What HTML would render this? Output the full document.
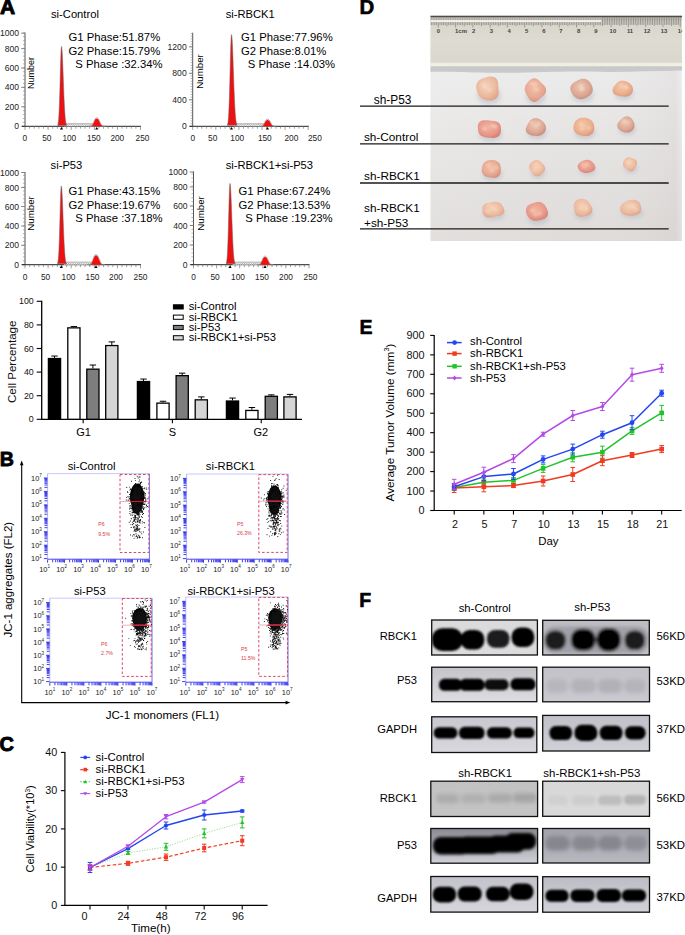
<!DOCTYPE html>
<html><head><meta charset="utf-8"><style>
html,body{margin:0;padding:0;background:#fff;overflow:hidden;width:685px;height:935px;}
svg{display:block;font-family:"Liberation Sans",sans-serif;}
</style></head><body>
<svg width="685" height="935" viewBox="0 0 685 935">
<defs>
<pattern id="hatch" width="2.2" height="2.2" patternUnits="userSpaceOnUse"><rect width="2.2" height="2.2" fill="#f4f4f4"/><path d="M0,2.2 L2.2,0" stroke="#888" stroke-width="0.6"/></pattern>
<linearGradient id="paper" x1="0" y1="0" x2="0" y2="1"><stop offset="0.2" stop-color="#ececec"/><stop offset="0.55" stop-color="#e6e4e3"/><stop offset="1" stop-color="#dedbd9"/></linearGradient>
<linearGradient id="paperx" x1="0" y1="0" x2="1" y2="0"><stop offset="0" stop-color="#ffffff" stop-opacity="0.12"/><stop offset="0.6" stop-color="#ffffff" stop-opacity="0"/><stop offset="0.97" stop-color="#b8b0b0" stop-opacity="0.12"/><stop offset="1" stop-color="#ffffff" stop-opacity="0.2"/></linearGradient>
<linearGradient id="ruler" x1="0" y1="0" x2="0" y2="1"><stop offset="0" stop-color="#d6d3ca"/><stop offset="0.5" stop-color="#dedbd2"/><stop offset="1" stop-color="#dad7ce"/></linearGradient>
<radialGradient id="tuma" cx="0.45" cy="0.4" r="0.65"><stop offset="0" stop-color="#f4d2ba"/><stop offset="0.65" stop-color="#ecba9e"/><stop offset="1" stop-color="#dca28a"/></radialGradient>
<radialGradient id="tumb" cx="0.45" cy="0.4" r="0.65"><stop offset="0" stop-color="#f2c2aa"/><stop offset="0.65" stop-color="#e8a892"/><stop offset="1" stop-color="#d48e7c"/></radialGradient>
<radialGradient id="tumc" cx="0.45" cy="0.4" r="0.65"><stop offset="0" stop-color="#f2b4a0"/><stop offset="0.65" stop-color="#e8988a"/><stop offset="1" stop-color="#d47e74"/></radialGradient>
<radialGradient id="tumd" cx="0.45" cy="0.4" r="0.65"><stop offset="0" stop-color="#ecc6b0"/><stop offset="0.65" stop-color="#dca894"/><stop offset="1" stop-color="#c48a7a"/></radialGradient>
<radialGradient id="tume" cx="0.45" cy="0.4" r="0.65"><stop offset="0" stop-color="#f4c8aa"/><stop offset="0.65" stop-color="#ecae8e"/><stop offset="1" stop-color="#da967a"/></radialGradient>
<filter id="blur1" x="-50%" y="-50%" width="200%" height="200%"><feGaussianBlur stdDeviation="1"/></filter>
<filter id="blur05" x="-20%" y="-20%" width="140%" height="140%"><feGaussianBlur stdDeviation="0.6"/></filter>
<filter id="blur2" x="-50%" y="-50%" width="200%" height="200%"><feGaussianBlur stdDeviation="2.2"/></filter>
<filter id="bb11" x="-30%" y="-50%" width="160%" height="200%"><feGaussianBlur stdDeviation="1.1"/></filter>
<filter id="bb12" x="-30%" y="-50%" width="160%" height="200%"><feGaussianBlur stdDeviation="1.2"/></filter>
<filter id="bb13" x="-30%" y="-50%" width="160%" height="200%"><feGaussianBlur stdDeviation="1.3"/></filter>
<filter id="bb14" x="-30%" y="-50%" width="160%" height="200%"><feGaussianBlur stdDeviation="1.4"/></filter>
<filter id="bb15" x="-30%" y="-50%" width="160%" height="200%"><feGaussianBlur stdDeviation="1.5"/></filter>
<filter id="bb16" x="-30%" y="-50%" width="160%" height="200%"><feGaussianBlur stdDeviation="1.6"/></filter>
<filter id="bb20" x="-30%" y="-50%" width="160%" height="200%"><feGaussianBlur stdDeviation="2.0"/></filter>
</defs>
<rect width="685" height="935" fill="#fff"/>
<text transform="translate(-0.1 13.6) scale(1.07 1)" font-size="19.6" font-weight="bold" stroke="#000" stroke-width="0.9" stroke-linejoin="round">A</text>
<text transform="translate(-0.3 465.9) scale(1.0 1)" font-size="19.6" font-weight="bold" stroke="#000" stroke-width="0.8" stroke-linejoin="round">B</text>
<text transform="translate(-0.6 751.3) scale(1.02 1)" font-size="19.6" font-weight="bold" stroke="#000" stroke-width="0.9" stroke-linejoin="round">C</text>
<text transform="translate(359.4 14) scale(1.04 1)" font-size="19.6" font-weight="bold" stroke="#000" stroke-width="0.6" stroke-linejoin="round">D</text>
<text transform="translate(359.5 334) scale(1.0 1)" font-size="19.6" font-weight="bold" stroke="#000" stroke-width="0.5" stroke-linejoin="round">E</text>
<text transform="translate(359.3 606.9) scale(1.0 1)" font-size="19.6" font-weight="bold" stroke="#000" stroke-width="0.6" stroke-linejoin="round">F</text>
<line x1="25.00" y1="32.60" x2="25.00" y2="126.80" stroke="#555" stroke-width="1"/>
<text x="19.00" y="36.20" font-size="8.6" text-anchor="end" fill="#222">1000</text>
<text x="19.00" y="51.60" font-size="8.6" text-anchor="end" fill="#222">800</text>
<text x="19.00" y="71.00" font-size="8.6" text-anchor="end" fill="#222">600</text>
<text x="19.00" y="90.40" font-size="8.6" text-anchor="end" fill="#222">400</text>
<text x="19.00" y="109.80" font-size="8.6" text-anchor="end" fill="#222">200</text>
<text x="19.00" y="129.30" font-size="8.6" text-anchor="end" fill="#222">0</text>
<line x1="21.20" y1="33.20" x2="25.00" y2="33.20" stroke="#666" stroke-width="0.8"/>
<line x1="21.20" y1="48.60" x2="25.00" y2="48.60" stroke="#666" stroke-width="0.8"/>
<line x1="21.20" y1="68.00" x2="25.00" y2="68.00" stroke="#666" stroke-width="0.8"/>
<line x1="21.20" y1="87.40" x2="25.00" y2="87.40" stroke="#666" stroke-width="0.8"/>
<line x1="21.20" y1="106.80" x2="25.00" y2="106.80" stroke="#666" stroke-width="0.8"/>
<line x1="21.20" y1="126.30" x2="25.00" y2="126.30" stroke="#666" stroke-width="0.8"/>
<line x1="22.90" y1="126.30" x2="25.00" y2="126.30" stroke="#888" stroke-width="0.6"/>
<line x1="22.90" y1="122.40" x2="25.00" y2="122.40" stroke="#888" stroke-width="0.6"/>
<line x1="22.90" y1="118.50" x2="25.00" y2="118.50" stroke="#888" stroke-width="0.6"/>
<line x1="22.90" y1="114.60" x2="25.00" y2="114.60" stroke="#888" stroke-width="0.6"/>
<line x1="22.90" y1="110.70" x2="25.00" y2="110.70" stroke="#888" stroke-width="0.6"/>
<line x1="22.90" y1="106.80" x2="25.00" y2="106.80" stroke="#888" stroke-width="0.6"/>
<line x1="22.90" y1="102.90" x2="25.00" y2="102.90" stroke="#888" stroke-width="0.6"/>
<line x1="22.90" y1="99.00" x2="25.00" y2="99.00" stroke="#888" stroke-width="0.6"/>
<line x1="22.90" y1="95.10" x2="25.00" y2="95.10" stroke="#888" stroke-width="0.6"/>
<line x1="22.90" y1="91.20" x2="25.00" y2="91.20" stroke="#888" stroke-width="0.6"/>
<line x1="22.90" y1="87.30" x2="25.00" y2="87.30" stroke="#888" stroke-width="0.6"/>
<line x1="22.90" y1="83.40" x2="25.00" y2="83.40" stroke="#888" stroke-width="0.6"/>
<line x1="22.90" y1="79.50" x2="25.00" y2="79.50" stroke="#888" stroke-width="0.6"/>
<line x1="22.90" y1="75.60" x2="25.00" y2="75.60" stroke="#888" stroke-width="0.6"/>
<line x1="22.90" y1="71.70" x2="25.00" y2="71.70" stroke="#888" stroke-width="0.6"/>
<line x1="22.90" y1="67.80" x2="25.00" y2="67.80" stroke="#888" stroke-width="0.6"/>
<line x1="22.90" y1="63.90" x2="25.00" y2="63.90" stroke="#888" stroke-width="0.6"/>
<line x1="22.90" y1="60.00" x2="25.00" y2="60.00" stroke="#888" stroke-width="0.6"/>
<line x1="22.90" y1="56.10" x2="25.00" y2="56.10" stroke="#888" stroke-width="0.6"/>
<line x1="22.90" y1="52.20" x2="25.00" y2="52.20" stroke="#888" stroke-width="0.6"/>
<line x1="22.90" y1="48.30" x2="25.00" y2="48.30" stroke="#888" stroke-width="0.6"/>
<line x1="22.90" y1="44.40" x2="25.00" y2="44.40" stroke="#888" stroke-width="0.6"/>
<line x1="22.90" y1="40.50" x2="25.00" y2="40.50" stroke="#888" stroke-width="0.6"/>
<line x1="22.90" y1="36.60" x2="25.00" y2="36.60" stroke="#888" stroke-width="0.6"/>
<line x1="22.90" y1="32.70" x2="25.00" y2="32.70" stroke="#888" stroke-width="0.6"/>
<line x1="22.00" y1="126.30" x2="141.00" y2="126.30" stroke="#222" stroke-width="1"/>
<line x1="25.00" y1="126.30" x2="25.00" y2="129.90" stroke="#777" stroke-width="0.7"/>
<line x1="29.62" y1="126.30" x2="29.62" y2="128.70" stroke="#777" stroke-width="0.7"/>
<line x1="34.24" y1="126.30" x2="34.24" y2="128.70" stroke="#777" stroke-width="0.7"/>
<line x1="38.86" y1="126.30" x2="38.86" y2="128.70" stroke="#777" stroke-width="0.7"/>
<line x1="43.48" y1="126.30" x2="43.48" y2="128.70" stroke="#777" stroke-width="0.7"/>
<line x1="48.10" y1="126.30" x2="48.10" y2="129.90" stroke="#777" stroke-width="0.7"/>
<line x1="52.72" y1="126.30" x2="52.72" y2="128.70" stroke="#777" stroke-width="0.7"/>
<line x1="57.34" y1="126.30" x2="57.34" y2="128.70" stroke="#777" stroke-width="0.7"/>
<line x1="61.96" y1="126.30" x2="61.96" y2="128.70" stroke="#777" stroke-width="0.7"/>
<line x1="66.58" y1="126.30" x2="66.58" y2="128.70" stroke="#777" stroke-width="0.7"/>
<line x1="71.20" y1="126.30" x2="71.20" y2="129.90" stroke="#777" stroke-width="0.7"/>
<line x1="75.82" y1="126.30" x2="75.82" y2="128.70" stroke="#777" stroke-width="0.7"/>
<line x1="80.44" y1="126.30" x2="80.44" y2="128.70" stroke="#777" stroke-width="0.7"/>
<line x1="85.06" y1="126.30" x2="85.06" y2="128.70" stroke="#777" stroke-width="0.7"/>
<line x1="89.68" y1="126.30" x2="89.68" y2="128.70" stroke="#777" stroke-width="0.7"/>
<line x1="94.30" y1="126.30" x2="94.30" y2="129.90" stroke="#777" stroke-width="0.7"/>
<line x1="98.92" y1="126.30" x2="98.92" y2="128.70" stroke="#777" stroke-width="0.7"/>
<line x1="103.54" y1="126.30" x2="103.54" y2="128.70" stroke="#777" stroke-width="0.7"/>
<line x1="108.16" y1="126.30" x2="108.16" y2="128.70" stroke="#777" stroke-width="0.7"/>
<line x1="112.78" y1="126.30" x2="112.78" y2="128.70" stroke="#777" stroke-width="0.7"/>
<line x1="117.40" y1="126.30" x2="117.40" y2="129.90" stroke="#777" stroke-width="0.7"/>
<line x1="122.02" y1="126.30" x2="122.02" y2="128.70" stroke="#777" stroke-width="0.7"/>
<line x1="126.64" y1="126.30" x2="126.64" y2="128.70" stroke="#777" stroke-width="0.7"/>
<line x1="131.26" y1="126.30" x2="131.26" y2="128.70" stroke="#777" stroke-width="0.7"/>
<line x1="135.88" y1="126.30" x2="135.88" y2="128.70" stroke="#777" stroke-width="0.7"/>
<line x1="140.50" y1="126.30" x2="140.50" y2="129.90" stroke="#777" stroke-width="0.7"/>
<text x="24.70" y="141.10" font-size="8.3" text-anchor="middle" fill="#222">0</text>
<text x="46.80" y="141.10" font-size="8.3" text-anchor="middle" fill="#222">50</text>
<text x="69.30" y="141.10" font-size="8.3" text-anchor="middle" fill="#222">100</text>
<text x="93.80" y="141.10" font-size="8.3" text-anchor="middle" fill="#222">150</text>
<text x="117.30" y="141.10" font-size="8.3" text-anchor="middle" fill="#222">200</text>
<text x="142.50" y="141.10" font-size="8.3" text-anchor="middle" fill="#222">250</text>
<rect x="64.00" y="123.90" width="30.20" height="2.4" fill="url(#hatch)"/>
<line x1="63.50" y1="123.70" x2="94.20" y2="123.70" stroke="#888" stroke-width="0.6"/>
<path d="M57.60,125.41 L57.80,124.92 L57.99,124.21 L58.19,123.21 L58.38,121.81 L58.58,119.94 L58.77,117.49 L58.97,114.36 L59.16,110.49 L59.35,105.82 L59.55,100.36 L59.74,94.18 L59.94,87.41 L60.13,80.26 L60.33,73.01 L60.52,65.99 L60.72,59.56 L60.91,54.09 L61.11,49.92 L61.30,47.29 L61.50,46.40 L61.76,47.29 L62.03,49.92 L62.29,54.09 L62.55,59.56 L62.82,65.99 L63.08,73.01 L63.34,80.26 L63.61,87.41 L63.87,94.18 L64.13,100.36 L64.40,105.82 L64.66,110.49 L64.92,114.36 L65.19,117.49 L65.45,119.94 L65.71,121.81 L65.98,123.21 L66.24,124.21 L66.50,124.92 L66.77,125.41 Z" fill="#ee1111" stroke="#666" stroke-width="0.5"/>
<path d="M88.90,126.30 L89.29,126.30 L89.68,126.29 L90.07,126.27 L90.46,126.23 L90.85,126.16 L91.24,126.03 L91.63,125.80 L92.02,125.45 L92.41,124.95 L92.80,124.28 L93.19,123.45 L93.58,122.49 L93.97,121.48 L94.36,120.49 L94.75,119.59 L95.14,118.85 L95.53,118.32 L95.92,117.98 L96.31,117.83 L96.70,117.80 L97.13,117.83 L97.56,117.98 L97.99,118.32 L98.42,118.85 L98.84,119.59 L99.27,120.49 L99.70,121.48 L100.13,122.49 L100.56,123.45 L100.99,124.28 L101.42,124.95 L101.85,125.45 L102.28,125.80 L102.71,126.03 L103.14,126.16 L103.56,126.23 L103.99,126.27 L104.42,126.29 L104.85,126.30 L105.28,126.30 Z" fill="none" stroke="#888" stroke-width="0.7"/>
<path d="M89.20,126.30 L89.58,126.30 L89.95,126.29 L90.33,126.27 L90.70,126.24 L91.08,126.17 L91.45,126.05 L91.83,125.85 L92.20,125.53 L92.58,125.08 L92.95,124.47 L93.33,123.71 L93.70,122.85 L94.08,121.94 L94.45,121.04 L94.83,120.22 L95.20,119.56 L95.58,119.07 L95.95,118.77 L96.33,118.63 L96.70,118.60 L97.11,118.63 L97.53,118.77 L97.94,119.07 L98.35,119.56 L98.76,120.22 L99.17,121.04 L99.59,121.94 L100.00,122.85 L100.41,123.71 L100.83,124.47 L101.24,125.08 L101.65,125.53 L102.06,125.85 L102.48,126.05 L102.89,126.17 L103.30,126.24 L103.71,126.27 L104.12,126.29 L104.54,126.30 L104.95,126.30 Z" fill="#ee1111"/>
<path d="M59.90,129.5 L61.50,126.89999999999999 L63.10,129.5 Z" fill="#000"/>
<path d="M95.10,129.5 L96.70,126.89999999999999 L98.30,129.5 Z" fill="#000"/>
<text x="51.00" y="18.40" font-size="11.2">si-Control</text>
<text x="68.50" y="41.20" font-size="11.3">G1 Phase:51.87%</text>
<text x="68.50" y="54.70" font-size="11.3">G2 Phase:15.79%</text>
<text x="75.30" y="68.20" font-size="11.3">S Phase :32.34%</text>
<text x="34.40" y="89.00" font-size="9.0" transform="rotate(-90 34.4 89.0)">Number</text>
<line x1="192.70" y1="32.70" x2="192.70" y2="126.80" stroke="#555" stroke-width="1"/>
<text x="186.70" y="49.80" font-size="8.6" text-anchor="end" fill="#222">1200</text>
<text x="186.70" y="76.30" font-size="8.6" text-anchor="end" fill="#222">800</text>
<text x="186.70" y="102.80" font-size="8.6" text-anchor="end" fill="#222">400</text>
<text x="186.70" y="129.30" font-size="8.6" text-anchor="end" fill="#222">0</text>
<line x1="188.90" y1="46.80" x2="192.70" y2="46.80" stroke="#666" stroke-width="0.8"/>
<line x1="188.90" y1="73.30" x2="192.70" y2="73.30" stroke="#666" stroke-width="0.8"/>
<line x1="188.90" y1="99.80" x2="192.70" y2="99.80" stroke="#666" stroke-width="0.8"/>
<line x1="188.90" y1="126.30" x2="192.70" y2="126.30" stroke="#666" stroke-width="0.8"/>
<line x1="190.60" y1="126.30" x2="192.70" y2="126.30" stroke="#888" stroke-width="0.6"/>
<line x1="190.60" y1="123.65" x2="192.70" y2="123.65" stroke="#888" stroke-width="0.6"/>
<line x1="190.60" y1="121.00" x2="192.70" y2="121.00" stroke="#888" stroke-width="0.6"/>
<line x1="190.60" y1="118.35" x2="192.70" y2="118.35" stroke="#888" stroke-width="0.6"/>
<line x1="190.60" y1="115.70" x2="192.70" y2="115.70" stroke="#888" stroke-width="0.6"/>
<line x1="190.60" y1="113.05" x2="192.70" y2="113.05" stroke="#888" stroke-width="0.6"/>
<line x1="190.60" y1="110.40" x2="192.70" y2="110.40" stroke="#888" stroke-width="0.6"/>
<line x1="190.60" y1="107.75" x2="192.70" y2="107.75" stroke="#888" stroke-width="0.6"/>
<line x1="190.60" y1="105.10" x2="192.70" y2="105.10" stroke="#888" stroke-width="0.6"/>
<line x1="190.60" y1="102.45" x2="192.70" y2="102.45" stroke="#888" stroke-width="0.6"/>
<line x1="190.60" y1="99.80" x2="192.70" y2="99.80" stroke="#888" stroke-width="0.6"/>
<line x1="190.60" y1="97.15" x2="192.70" y2="97.15" stroke="#888" stroke-width="0.6"/>
<line x1="190.60" y1="94.50" x2="192.70" y2="94.50" stroke="#888" stroke-width="0.6"/>
<line x1="190.60" y1="91.85" x2="192.70" y2="91.85" stroke="#888" stroke-width="0.6"/>
<line x1="190.60" y1="89.20" x2="192.70" y2="89.20" stroke="#888" stroke-width="0.6"/>
<line x1="190.60" y1="86.55" x2="192.70" y2="86.55" stroke="#888" stroke-width="0.6"/>
<line x1="190.60" y1="83.90" x2="192.70" y2="83.90" stroke="#888" stroke-width="0.6"/>
<line x1="190.60" y1="81.25" x2="192.70" y2="81.25" stroke="#888" stroke-width="0.6"/>
<line x1="190.60" y1="78.60" x2="192.70" y2="78.60" stroke="#888" stroke-width="0.6"/>
<line x1="190.60" y1="75.95" x2="192.70" y2="75.95" stroke="#888" stroke-width="0.6"/>
<line x1="190.60" y1="73.30" x2="192.70" y2="73.30" stroke="#888" stroke-width="0.6"/>
<line x1="190.60" y1="70.65" x2="192.70" y2="70.65" stroke="#888" stroke-width="0.6"/>
<line x1="190.60" y1="68.00" x2="192.70" y2="68.00" stroke="#888" stroke-width="0.6"/>
<line x1="190.60" y1="65.35" x2="192.70" y2="65.35" stroke="#888" stroke-width="0.6"/>
<line x1="190.60" y1="62.70" x2="192.70" y2="62.70" stroke="#888" stroke-width="0.6"/>
<line x1="190.60" y1="60.05" x2="192.70" y2="60.05" stroke="#888" stroke-width="0.6"/>
<line x1="190.60" y1="57.40" x2="192.70" y2="57.40" stroke="#888" stroke-width="0.6"/>
<line x1="190.60" y1="54.75" x2="192.70" y2="54.75" stroke="#888" stroke-width="0.6"/>
<line x1="190.60" y1="52.10" x2="192.70" y2="52.10" stroke="#888" stroke-width="0.6"/>
<line x1="190.60" y1="49.45" x2="192.70" y2="49.45" stroke="#888" stroke-width="0.6"/>
<line x1="190.60" y1="46.80" x2="192.70" y2="46.80" stroke="#888" stroke-width="0.6"/>
<line x1="190.60" y1="44.15" x2="192.70" y2="44.15" stroke="#888" stroke-width="0.6"/>
<line x1="190.60" y1="41.50" x2="192.70" y2="41.50" stroke="#888" stroke-width="0.6"/>
<line x1="190.60" y1="38.85" x2="192.70" y2="38.85" stroke="#888" stroke-width="0.6"/>
<line x1="190.60" y1="36.20" x2="192.70" y2="36.20" stroke="#888" stroke-width="0.6"/>
<line x1="190.60" y1="33.55" x2="192.70" y2="33.55" stroke="#888" stroke-width="0.6"/>
<line x1="189.70" y1="126.30" x2="308.70" y2="126.30" stroke="#222" stroke-width="1"/>
<line x1="192.70" y1="126.30" x2="192.70" y2="129.90" stroke="#777" stroke-width="0.7"/>
<line x1="197.32" y1="126.30" x2="197.32" y2="128.70" stroke="#777" stroke-width="0.7"/>
<line x1="201.94" y1="126.30" x2="201.94" y2="128.70" stroke="#777" stroke-width="0.7"/>
<line x1="206.56" y1="126.30" x2="206.56" y2="128.70" stroke="#777" stroke-width="0.7"/>
<line x1="211.18" y1="126.30" x2="211.18" y2="128.70" stroke="#777" stroke-width="0.7"/>
<line x1="215.80" y1="126.30" x2="215.80" y2="129.90" stroke="#777" stroke-width="0.7"/>
<line x1="220.42" y1="126.30" x2="220.42" y2="128.70" stroke="#777" stroke-width="0.7"/>
<line x1="225.04" y1="126.30" x2="225.04" y2="128.70" stroke="#777" stroke-width="0.7"/>
<line x1="229.66" y1="126.30" x2="229.66" y2="128.70" stroke="#777" stroke-width="0.7"/>
<line x1="234.28" y1="126.30" x2="234.28" y2="128.70" stroke="#777" stroke-width="0.7"/>
<line x1="238.90" y1="126.30" x2="238.90" y2="129.90" stroke="#777" stroke-width="0.7"/>
<line x1="243.52" y1="126.30" x2="243.52" y2="128.70" stroke="#777" stroke-width="0.7"/>
<line x1="248.14" y1="126.30" x2="248.14" y2="128.70" stroke="#777" stroke-width="0.7"/>
<line x1="252.76" y1="126.30" x2="252.76" y2="128.70" stroke="#777" stroke-width="0.7"/>
<line x1="257.38" y1="126.30" x2="257.38" y2="128.70" stroke="#777" stroke-width="0.7"/>
<line x1="262.00" y1="126.30" x2="262.00" y2="129.90" stroke="#777" stroke-width="0.7"/>
<line x1="266.62" y1="126.30" x2="266.62" y2="128.70" stroke="#777" stroke-width="0.7"/>
<line x1="271.24" y1="126.30" x2="271.24" y2="128.70" stroke="#777" stroke-width="0.7"/>
<line x1="275.86" y1="126.30" x2="275.86" y2="128.70" stroke="#777" stroke-width="0.7"/>
<line x1="280.48" y1="126.30" x2="280.48" y2="128.70" stroke="#777" stroke-width="0.7"/>
<line x1="285.10" y1="126.30" x2="285.10" y2="129.90" stroke="#777" stroke-width="0.7"/>
<line x1="289.72" y1="126.30" x2="289.72" y2="128.70" stroke="#777" stroke-width="0.7"/>
<line x1="294.34" y1="126.30" x2="294.34" y2="128.70" stroke="#777" stroke-width="0.7"/>
<line x1="298.96" y1="126.30" x2="298.96" y2="128.70" stroke="#777" stroke-width="0.7"/>
<line x1="303.58" y1="126.30" x2="303.58" y2="128.70" stroke="#777" stroke-width="0.7"/>
<line x1="308.20" y1="126.30" x2="308.20" y2="129.90" stroke="#777" stroke-width="0.7"/>
<text x="192.70" y="141.10" font-size="8.3" text-anchor="middle" fill="#222">0</text>
<text x="212.70" y="141.10" font-size="8.3" text-anchor="middle" fill="#222">50</text>
<text x="237.20" y="141.10" font-size="8.3" text-anchor="middle" fill="#222">100</text>
<text x="264.80" y="141.10" font-size="8.3" text-anchor="middle" fill="#222">150</text>
<text x="291.40" y="141.10" font-size="8.3" text-anchor="middle" fill="#222">200</text>
<text x="314.90" y="141.10" font-size="8.3" text-anchor="middle" fill="#222">250</text>
<rect x="234.00" y="123.90" width="31.00" height="2.4" fill="url(#hatch)"/>
<line x1="233.50" y1="123.70" x2="265.00" y2="123.70" stroke="#888" stroke-width="0.6"/>
<path d="M227.30,125.28 L227.51,124.72 L227.72,123.90 L227.93,122.75 L228.14,121.15 L228.35,119.00 L228.56,116.19 L228.77,112.60 L228.98,108.15 L229.19,102.79 L229.40,96.53 L229.61,89.43 L229.82,81.66 L230.03,73.46 L230.24,65.14 L230.45,57.08 L230.66,49.71 L230.87,43.43 L231.08,38.64 L231.29,35.63 L231.50,34.60 L231.78,35.63 L232.07,38.64 L232.35,43.43 L232.63,49.71 L232.92,57.08 L233.20,65.14 L233.48,73.46 L233.77,81.66 L234.05,89.43 L234.34,96.53 L234.62,102.79 L234.90,108.15 L235.19,112.60 L235.47,116.19 L235.75,119.00 L236.04,121.15 L236.32,122.75 L236.60,123.90 L236.89,124.72 L237.17,125.28 Z" fill="#ee1111" stroke="#666" stroke-width="0.5"/>
<path d="M259.70,126.30 L260.09,126.30 L260.48,126.29 L260.87,126.28 L261.26,126.25 L261.65,126.18 L262.04,126.07 L262.43,125.88 L262.82,125.59 L263.21,125.17 L263.60,124.61 L263.99,123.92 L264.38,123.12 L264.77,122.28 L265.16,121.45 L265.55,120.70 L265.94,120.08 L266.33,119.63 L266.72,119.35 L267.11,119.23 L267.50,119.20 L267.93,119.23 L268.36,119.35 L268.79,119.63 L269.22,120.08 L269.64,120.70 L270.07,121.45 L270.50,122.28 L270.93,123.12 L271.36,123.92 L271.79,124.61 L272.22,125.17 L272.65,125.59 L273.08,125.88 L273.51,126.07 L273.94,126.18 L274.36,126.25 L274.79,126.28 L275.22,126.29 L275.65,126.30 L276.08,126.30 Z" fill="none" stroke="#888" stroke-width="0.7"/>
<path d="M260.00,126.30 L260.38,126.30 L260.75,126.29 L261.12,126.28 L261.50,126.25 L261.88,126.20 L262.25,126.10 L262.62,125.93 L263.00,125.67 L263.38,125.30 L263.75,124.80 L264.12,124.18 L264.50,123.48 L264.88,122.73 L265.25,121.99 L265.62,121.33 L266.00,120.78 L266.38,120.38 L266.75,120.14 L267.12,120.02 L267.50,120.00 L267.91,120.02 L268.32,120.14 L268.74,120.38 L269.15,120.78 L269.56,121.33 L269.98,121.99 L270.39,122.73 L270.80,123.48 L271.21,124.18 L271.62,124.80 L272.04,125.30 L272.45,125.67 L272.86,125.93 L273.27,126.10 L273.69,126.20 L274.10,126.25 L274.51,126.28 L274.93,126.29 L275.34,126.30 L275.75,126.30 Z" fill="#ee1111"/>
<path d="M229.90,129.5 L231.50,126.89999999999999 L233.10,129.5 Z" fill="#000"/>
<path d="M265.90,129.5 L267.50,126.89999999999999 L269.10,129.5 Z" fill="#000"/>
<text x="225.70" y="18.40" font-size="11.2">si-RBCK1</text>
<text x="241.00" y="41.20" font-size="11.3">G1 Phase:77.96%</text>
<text x="241.00" y="54.70" font-size="11.3">G2 Phase:8.01%</text>
<text x="247.80" y="68.20" font-size="11.3">S Phase :14.03%</text>
<text x="203.00" y="88.70" font-size="9.7" transform="rotate(-90 203.0 88.7)">Number</text>
<line x1="25.00" y1="172.00" x2="25.00" y2="265.20" stroke="#555" stroke-width="1"/>
<text x="19.00" y="175.50" font-size="8.6" text-anchor="end" fill="#222">1000</text>
<text x="19.00" y="190.50" font-size="8.6" text-anchor="end" fill="#222">800</text>
<text x="19.00" y="209.50" font-size="8.6" text-anchor="end" fill="#222">600</text>
<text x="19.00" y="229.00" font-size="8.6" text-anchor="end" fill="#222">400</text>
<text x="19.00" y="248.30" font-size="8.6" text-anchor="end" fill="#222">200</text>
<text x="19.00" y="267.70" font-size="8.6" text-anchor="end" fill="#222">0</text>
<line x1="21.20" y1="172.50" x2="25.00" y2="172.50" stroke="#666" stroke-width="0.8"/>
<line x1="21.20" y1="187.50" x2="25.00" y2="187.50" stroke="#666" stroke-width="0.8"/>
<line x1="21.20" y1="206.50" x2="25.00" y2="206.50" stroke="#666" stroke-width="0.8"/>
<line x1="21.20" y1="226.00" x2="25.00" y2="226.00" stroke="#666" stroke-width="0.8"/>
<line x1="21.20" y1="245.30" x2="25.00" y2="245.30" stroke="#666" stroke-width="0.8"/>
<line x1="21.20" y1="264.70" x2="25.00" y2="264.70" stroke="#666" stroke-width="0.8"/>
<line x1="22.90" y1="264.70" x2="25.00" y2="264.70" stroke="#888" stroke-width="0.6"/>
<line x1="22.90" y1="260.82" x2="25.00" y2="260.82" stroke="#888" stroke-width="0.6"/>
<line x1="22.90" y1="256.94" x2="25.00" y2="256.94" stroke="#888" stroke-width="0.6"/>
<line x1="22.90" y1="253.06" x2="25.00" y2="253.06" stroke="#888" stroke-width="0.6"/>
<line x1="22.90" y1="249.18" x2="25.00" y2="249.18" stroke="#888" stroke-width="0.6"/>
<line x1="22.90" y1="245.30" x2="25.00" y2="245.30" stroke="#888" stroke-width="0.6"/>
<line x1="22.90" y1="241.42" x2="25.00" y2="241.42" stroke="#888" stroke-width="0.6"/>
<line x1="22.90" y1="237.54" x2="25.00" y2="237.54" stroke="#888" stroke-width="0.6"/>
<line x1="22.90" y1="233.66" x2="25.00" y2="233.66" stroke="#888" stroke-width="0.6"/>
<line x1="22.90" y1="229.78" x2="25.00" y2="229.78" stroke="#888" stroke-width="0.6"/>
<line x1="22.90" y1="225.90" x2="25.00" y2="225.90" stroke="#888" stroke-width="0.6"/>
<line x1="22.90" y1="222.02" x2="25.00" y2="222.02" stroke="#888" stroke-width="0.6"/>
<line x1="22.90" y1="218.14" x2="25.00" y2="218.14" stroke="#888" stroke-width="0.6"/>
<line x1="22.90" y1="214.26" x2="25.00" y2="214.26" stroke="#888" stroke-width="0.6"/>
<line x1="22.90" y1="210.38" x2="25.00" y2="210.38" stroke="#888" stroke-width="0.6"/>
<line x1="22.90" y1="206.50" x2="25.00" y2="206.50" stroke="#888" stroke-width="0.6"/>
<line x1="22.90" y1="202.62" x2="25.00" y2="202.62" stroke="#888" stroke-width="0.6"/>
<line x1="22.90" y1="198.74" x2="25.00" y2="198.74" stroke="#888" stroke-width="0.6"/>
<line x1="22.90" y1="194.86" x2="25.00" y2="194.86" stroke="#888" stroke-width="0.6"/>
<line x1="22.90" y1="190.98" x2="25.00" y2="190.98" stroke="#888" stroke-width="0.6"/>
<line x1="22.90" y1="187.10" x2="25.00" y2="187.10" stroke="#888" stroke-width="0.6"/>
<line x1="22.90" y1="183.22" x2="25.00" y2="183.22" stroke="#888" stroke-width="0.6"/>
<line x1="22.90" y1="179.34" x2="25.00" y2="179.34" stroke="#888" stroke-width="0.6"/>
<line x1="22.90" y1="175.46" x2="25.00" y2="175.46" stroke="#888" stroke-width="0.6"/>
<line x1="22.00" y1="264.70" x2="141.00" y2="264.70" stroke="#222" stroke-width="1"/>
<line x1="25.00" y1="264.70" x2="25.00" y2="268.30" stroke="#777" stroke-width="0.7"/>
<line x1="29.62" y1="264.70" x2="29.62" y2="267.10" stroke="#777" stroke-width="0.7"/>
<line x1="34.24" y1="264.70" x2="34.24" y2="267.10" stroke="#777" stroke-width="0.7"/>
<line x1="38.86" y1="264.70" x2="38.86" y2="267.10" stroke="#777" stroke-width="0.7"/>
<line x1="43.48" y1="264.70" x2="43.48" y2="267.10" stroke="#777" stroke-width="0.7"/>
<line x1="48.10" y1="264.70" x2="48.10" y2="268.30" stroke="#777" stroke-width="0.7"/>
<line x1="52.72" y1="264.70" x2="52.72" y2="267.10" stroke="#777" stroke-width="0.7"/>
<line x1="57.34" y1="264.70" x2="57.34" y2="267.10" stroke="#777" stroke-width="0.7"/>
<line x1="61.96" y1="264.70" x2="61.96" y2="267.10" stroke="#777" stroke-width="0.7"/>
<line x1="66.58" y1="264.70" x2="66.58" y2="267.10" stroke="#777" stroke-width="0.7"/>
<line x1="71.20" y1="264.70" x2="71.20" y2="268.30" stroke="#777" stroke-width="0.7"/>
<line x1="75.82" y1="264.70" x2="75.82" y2="267.10" stroke="#777" stroke-width="0.7"/>
<line x1="80.44" y1="264.70" x2="80.44" y2="267.10" stroke="#777" stroke-width="0.7"/>
<line x1="85.06" y1="264.70" x2="85.06" y2="267.10" stroke="#777" stroke-width="0.7"/>
<line x1="89.68" y1="264.70" x2="89.68" y2="267.10" stroke="#777" stroke-width="0.7"/>
<line x1="94.30" y1="264.70" x2="94.30" y2="268.30" stroke="#777" stroke-width="0.7"/>
<line x1="98.92" y1="264.70" x2="98.92" y2="267.10" stroke="#777" stroke-width="0.7"/>
<line x1="103.54" y1="264.70" x2="103.54" y2="267.10" stroke="#777" stroke-width="0.7"/>
<line x1="108.16" y1="264.70" x2="108.16" y2="267.10" stroke="#777" stroke-width="0.7"/>
<line x1="112.78" y1="264.70" x2="112.78" y2="267.10" stroke="#777" stroke-width="0.7"/>
<line x1="117.40" y1="264.70" x2="117.40" y2="268.30" stroke="#777" stroke-width="0.7"/>
<line x1="122.02" y1="264.70" x2="122.02" y2="267.10" stroke="#777" stroke-width="0.7"/>
<line x1="126.64" y1="264.70" x2="126.64" y2="267.10" stroke="#777" stroke-width="0.7"/>
<line x1="131.26" y1="264.70" x2="131.26" y2="267.10" stroke="#777" stroke-width="0.7"/>
<line x1="135.88" y1="264.70" x2="135.88" y2="267.10" stroke="#777" stroke-width="0.7"/>
<line x1="140.50" y1="264.70" x2="140.50" y2="268.30" stroke="#777" stroke-width="0.7"/>
<text x="25.00" y="279.50" font-size="8.3" text-anchor="middle" fill="#222">0</text>
<text x="45.50" y="279.50" font-size="8.3" text-anchor="middle" fill="#222">50</text>
<text x="68.50" y="279.50" font-size="8.3" text-anchor="middle" fill="#222">100</text>
<text x="92.50" y="279.50" font-size="8.3" text-anchor="middle" fill="#222">150</text>
<text x="116.00" y="279.50" font-size="8.3" text-anchor="middle" fill="#222">200</text>
<text x="140.50" y="279.50" font-size="8.3" text-anchor="middle" fill="#222">250</text>
<rect x="63.80" y="262.30" width="29.70" height="2.4" fill="url(#hatch)"/>
<line x1="63.30" y1="262.10" x2="93.50" y2="262.10" stroke="#888" stroke-width="0.6"/>
<path d="M57.40,263.83 L57.59,263.34 L57.79,262.64 L57.98,261.65 L58.18,260.28 L58.38,258.44 L58.57,256.02 L58.77,252.94 L58.96,249.13 L59.15,244.53 L59.35,239.15 L59.54,233.06 L59.74,226.39 L59.93,219.35 L60.13,212.21 L60.32,205.29 L60.52,198.96 L60.71,193.58 L60.91,189.46 L61.10,186.88 L61.30,186.00 L61.56,186.88 L61.83,189.46 L62.09,193.58 L62.35,198.96 L62.62,205.29 L62.88,212.21 L63.14,219.35 L63.41,226.39 L63.67,233.06 L63.93,239.15 L64.20,244.53 L64.46,249.13 L64.72,252.94 L64.99,256.02 L65.25,258.44 L65.51,260.28 L65.78,261.65 L66.04,262.64 L66.30,263.34 L66.56,263.83 Z" fill="#ee1111" stroke="#666" stroke-width="0.5"/>
<path d="M87.81,264.70 L88.22,264.70 L88.63,264.69 L89.04,264.67 L89.45,264.62 L89.86,264.54 L90.27,264.38 L90.68,264.11 L91.09,263.70 L91.50,263.11 L91.91,262.32 L92.31,261.34 L92.72,260.22 L93.13,259.03 L93.54,257.86 L93.95,256.81 L94.36,255.94 L94.77,255.31 L95.18,254.92 L95.59,254.74 L96.00,254.70 L96.45,254.74 L96.90,254.92 L97.35,255.31 L97.80,255.94 L98.25,256.81 L98.70,257.86 L99.15,259.03 L99.60,260.22 L100.05,261.34 L100.50,262.32 L100.95,263.11 L101.41,263.70 L101.86,264.11 L102.31,264.38 L102.76,264.54 L103.21,264.62 L103.66,264.67 L104.11,264.69 L104.56,264.70 L105.01,264.70 Z" fill="none" stroke="#888" stroke-width="0.7"/>
<path d="M88.12,264.70 L88.52,264.70 L88.91,264.69 L89.31,264.67 L89.70,264.63 L90.09,264.55 L90.49,264.41 L90.88,264.16 L91.28,263.78 L91.67,263.24 L92.06,262.51 L92.46,261.61 L92.85,260.58 L93.24,259.48 L93.64,258.41 L94.03,257.44 L94.42,256.64 L94.82,256.06 L95.21,255.70 L95.61,255.53 L96.00,255.50 L96.43,255.53 L96.87,255.70 L97.30,256.06 L97.73,256.64 L98.17,257.44 L98.60,258.41 L99.03,259.48 L99.47,260.58 L99.90,261.61 L100.33,262.51 L100.76,263.24 L101.20,263.78 L101.63,264.16 L102.06,264.41 L102.50,264.55 L102.93,264.63 L103.36,264.67 L103.80,264.69 L104.23,264.70 L104.66,264.70 Z" fill="#ee1111"/>
<path d="M59.70,267.9 L61.30,265.3 L62.90,267.9 Z" fill="#000"/>
<path d="M94.40,267.9 L96.00,265.3 L97.60,267.9 Z" fill="#000"/>
<text x="50.60" y="169.40" font-size="11.2">si-P53</text>
<text x="68.50" y="195.00" font-size="11.3">G1 Phase:43.15%</text>
<text x="68.50" y="208.50" font-size="11.3">G2 Phase:19.67%</text>
<text x="75.30" y="222.00" font-size="11.3">S Phase :37.18%</text>
<text x="34.50" y="230.70" font-size="9.7" transform="rotate(-90 34.5 230.7)">Number</text>
<line x1="193.50" y1="171.40" x2="193.50" y2="265.20" stroke="#555" stroke-width="1"/>
<text x="187.50" y="175.00" font-size="8.6" text-anchor="end" fill="#222">1000</text>
<text x="187.50" y="190.00" font-size="8.6" text-anchor="end" fill="#222">800</text>
<text x="187.50" y="209.00" font-size="8.6" text-anchor="end" fill="#222">600</text>
<text x="187.50" y="228.50" font-size="8.6" text-anchor="end" fill="#222">400</text>
<text x="187.50" y="248.00" font-size="8.6" text-anchor="end" fill="#222">200</text>
<text x="187.50" y="267.70" font-size="8.6" text-anchor="end" fill="#222">0</text>
<line x1="189.70" y1="172.00" x2="193.50" y2="172.00" stroke="#666" stroke-width="0.8"/>
<line x1="189.70" y1="187.00" x2="193.50" y2="187.00" stroke="#666" stroke-width="0.8"/>
<line x1="189.70" y1="206.00" x2="193.50" y2="206.00" stroke="#666" stroke-width="0.8"/>
<line x1="189.70" y1="225.50" x2="193.50" y2="225.50" stroke="#666" stroke-width="0.8"/>
<line x1="189.70" y1="245.00" x2="193.50" y2="245.00" stroke="#666" stroke-width="0.8"/>
<line x1="189.70" y1="264.70" x2="193.50" y2="264.70" stroke="#666" stroke-width="0.8"/>
<line x1="191.40" y1="264.70" x2="193.50" y2="264.70" stroke="#888" stroke-width="0.6"/>
<line x1="191.40" y1="260.76" x2="193.50" y2="260.76" stroke="#888" stroke-width="0.6"/>
<line x1="191.40" y1="256.82" x2="193.50" y2="256.82" stroke="#888" stroke-width="0.6"/>
<line x1="191.40" y1="252.88" x2="193.50" y2="252.88" stroke="#888" stroke-width="0.6"/>
<line x1="191.40" y1="248.94" x2="193.50" y2="248.94" stroke="#888" stroke-width="0.6"/>
<line x1="191.40" y1="245.00" x2="193.50" y2="245.00" stroke="#888" stroke-width="0.6"/>
<line x1="191.40" y1="241.06" x2="193.50" y2="241.06" stroke="#888" stroke-width="0.6"/>
<line x1="191.40" y1="237.12" x2="193.50" y2="237.12" stroke="#888" stroke-width="0.6"/>
<line x1="191.40" y1="233.18" x2="193.50" y2="233.18" stroke="#888" stroke-width="0.6"/>
<line x1="191.40" y1="229.24" x2="193.50" y2="229.24" stroke="#888" stroke-width="0.6"/>
<line x1="191.40" y1="225.30" x2="193.50" y2="225.30" stroke="#888" stroke-width="0.6"/>
<line x1="191.40" y1="221.36" x2="193.50" y2="221.36" stroke="#888" stroke-width="0.6"/>
<line x1="191.40" y1="217.42" x2="193.50" y2="217.42" stroke="#888" stroke-width="0.6"/>
<line x1="191.40" y1="213.48" x2="193.50" y2="213.48" stroke="#888" stroke-width="0.6"/>
<line x1="191.40" y1="209.54" x2="193.50" y2="209.54" stroke="#888" stroke-width="0.6"/>
<line x1="191.40" y1="205.60" x2="193.50" y2="205.60" stroke="#888" stroke-width="0.6"/>
<line x1="191.40" y1="201.66" x2="193.50" y2="201.66" stroke="#888" stroke-width="0.6"/>
<line x1="191.40" y1="197.72" x2="193.50" y2="197.72" stroke="#888" stroke-width="0.6"/>
<line x1="191.40" y1="193.78" x2="193.50" y2="193.78" stroke="#888" stroke-width="0.6"/>
<line x1="191.40" y1="189.84" x2="193.50" y2="189.84" stroke="#888" stroke-width="0.6"/>
<line x1="191.40" y1="185.90" x2="193.50" y2="185.90" stroke="#888" stroke-width="0.6"/>
<line x1="191.40" y1="181.96" x2="193.50" y2="181.96" stroke="#888" stroke-width="0.6"/>
<line x1="191.40" y1="178.02" x2="193.50" y2="178.02" stroke="#888" stroke-width="0.6"/>
<line x1="191.40" y1="174.08" x2="193.50" y2="174.08" stroke="#888" stroke-width="0.6"/>
<line x1="190.50" y1="264.70" x2="309.50" y2="264.70" stroke="#222" stroke-width="1"/>
<line x1="193.50" y1="264.70" x2="193.50" y2="268.30" stroke="#777" stroke-width="0.7"/>
<line x1="198.12" y1="264.70" x2="198.12" y2="267.10" stroke="#777" stroke-width="0.7"/>
<line x1="202.74" y1="264.70" x2="202.74" y2="267.10" stroke="#777" stroke-width="0.7"/>
<line x1="207.36" y1="264.70" x2="207.36" y2="267.10" stroke="#777" stroke-width="0.7"/>
<line x1="211.98" y1="264.70" x2="211.98" y2="267.10" stroke="#777" stroke-width="0.7"/>
<line x1="216.60" y1="264.70" x2="216.60" y2="268.30" stroke="#777" stroke-width="0.7"/>
<line x1="221.22" y1="264.70" x2="221.22" y2="267.10" stroke="#777" stroke-width="0.7"/>
<line x1="225.84" y1="264.70" x2="225.84" y2="267.10" stroke="#777" stroke-width="0.7"/>
<line x1="230.46" y1="264.70" x2="230.46" y2="267.10" stroke="#777" stroke-width="0.7"/>
<line x1="235.08" y1="264.70" x2="235.08" y2="267.10" stroke="#777" stroke-width="0.7"/>
<line x1="239.70" y1="264.70" x2="239.70" y2="268.30" stroke="#777" stroke-width="0.7"/>
<line x1="244.32" y1="264.70" x2="244.32" y2="267.10" stroke="#777" stroke-width="0.7"/>
<line x1="248.94" y1="264.70" x2="248.94" y2="267.10" stroke="#777" stroke-width="0.7"/>
<line x1="253.56" y1="264.70" x2="253.56" y2="267.10" stroke="#777" stroke-width="0.7"/>
<line x1="258.18" y1="264.70" x2="258.18" y2="267.10" stroke="#777" stroke-width="0.7"/>
<line x1="262.80" y1="264.70" x2="262.80" y2="268.30" stroke="#777" stroke-width="0.7"/>
<line x1="267.42" y1="264.70" x2="267.42" y2="267.10" stroke="#777" stroke-width="0.7"/>
<line x1="272.04" y1="264.70" x2="272.04" y2="267.10" stroke="#777" stroke-width="0.7"/>
<line x1="276.66" y1="264.70" x2="276.66" y2="267.10" stroke="#777" stroke-width="0.7"/>
<line x1="281.28" y1="264.70" x2="281.28" y2="267.10" stroke="#777" stroke-width="0.7"/>
<line x1="285.90" y1="264.70" x2="285.90" y2="268.30" stroke="#777" stroke-width="0.7"/>
<line x1="290.52" y1="264.70" x2="290.52" y2="267.10" stroke="#777" stroke-width="0.7"/>
<line x1="295.14" y1="264.70" x2="295.14" y2="267.10" stroke="#777" stroke-width="0.7"/>
<line x1="299.76" y1="264.70" x2="299.76" y2="267.10" stroke="#777" stroke-width="0.7"/>
<line x1="304.38" y1="264.70" x2="304.38" y2="267.10" stroke="#777" stroke-width="0.7"/>
<line x1="309.00" y1="264.70" x2="309.00" y2="268.30" stroke="#777" stroke-width="0.7"/>
<text x="193.50" y="279.50" font-size="8.3" text-anchor="middle" fill="#222">0</text>
<text x="215.00" y="279.50" font-size="8.3" text-anchor="middle" fill="#222">50</text>
<text x="238.00" y="279.50" font-size="8.3" text-anchor="middle" fill="#222">100</text>
<text x="262.00" y="279.50" font-size="8.3" text-anchor="middle" fill="#222">150</text>
<text x="286.00" y="279.50" font-size="8.3" text-anchor="middle" fill="#222">200</text>
<text x="310.50" y="279.50" font-size="8.3" text-anchor="middle" fill="#222">250</text>
<rect x="232.50" y="262.30" width="30.00" height="2.4" fill="url(#hatch)"/>
<line x1="232.00" y1="262.10" x2="262.50" y2="262.10" stroke="#888" stroke-width="0.6"/>
<path d="M226.10,263.80 L226.29,263.30 L226.49,262.58 L226.69,261.55 L226.88,260.14 L227.07,258.23 L227.27,255.74 L227.47,252.56 L227.66,248.61 L227.85,243.86 L228.05,238.31 L228.25,232.02 L228.44,225.13 L228.63,217.85 L228.83,210.47 L229.03,203.33 L229.22,196.79 L229.41,191.23 L229.61,186.98 L229.81,184.31 L230.00,183.40 L230.26,184.31 L230.53,186.98 L230.79,191.23 L231.05,196.79 L231.32,203.33 L231.58,210.47 L231.84,217.85 L232.11,225.13 L232.37,232.02 L232.63,238.31 L232.90,243.86 L233.16,248.61 L233.42,252.56 L233.69,255.74 L233.95,258.23 L234.21,260.14 L234.48,261.55 L234.74,262.58 L235.00,263.30 L235.26,263.80 Z" fill="#ee1111" stroke="#666" stroke-width="0.5"/>
<path d="M257.20,264.70 L257.59,264.70 L257.98,264.69 L258.37,264.67 L258.76,264.63 L259.15,264.56 L259.54,264.43 L259.93,264.20 L260.32,263.85 L260.71,263.35 L261.10,262.68 L261.49,261.85 L261.88,260.89 L262.27,259.88 L262.66,258.89 L263.05,257.99 L263.44,257.25 L263.83,256.72 L264.22,256.38 L264.61,256.23 L265.00,256.20 L265.43,256.23 L265.86,256.38 L266.29,256.72 L266.72,257.25 L267.14,257.99 L267.57,258.89 L268.00,259.88 L268.43,260.89 L268.86,261.85 L269.29,262.68 L269.72,263.35 L270.15,263.85 L270.58,264.20 L271.01,264.43 L271.44,264.56 L271.86,264.63 L272.29,264.67 L272.72,264.69 L273.15,264.70 L273.58,264.70 Z" fill="none" stroke="#888" stroke-width="0.7"/>
<path d="M257.50,264.70 L257.88,264.70 L258.25,264.69 L258.62,264.67 L259.00,264.64 L259.38,264.57 L259.75,264.45 L260.12,264.25 L260.50,263.93 L260.88,263.48 L261.25,262.87 L261.62,262.11 L262.00,261.25 L262.38,260.34 L262.75,259.44 L263.12,258.62 L263.50,257.96 L263.88,257.47 L264.25,257.17 L264.62,257.03 L265.00,257.00 L265.41,257.03 L265.82,257.17 L266.24,257.47 L266.65,257.96 L267.06,258.62 L267.48,259.44 L267.89,260.34 L268.30,261.25 L268.71,262.11 L269.12,262.87 L269.54,263.48 L269.95,263.93 L270.36,264.25 L270.77,264.45 L271.19,264.57 L271.60,264.64 L272.01,264.67 L272.43,264.69 L272.84,264.70 L273.25,264.70 Z" fill="#ee1111"/>
<path d="M228.40,267.9 L230.00,265.3 L231.60,267.9 Z" fill="#000"/>
<path d="M263.40,267.9 L265.00,265.3 L266.60,267.9 Z" fill="#000"/>
<text x="225.70" y="169.40" font-size="11.2">si-RBCK1+si-P53</text>
<text x="238.50" y="195.00" font-size="11.3">G1 Phase:67.24%</text>
<text x="238.50" y="208.50" font-size="11.3">G2 Phase:13.53%</text>
<text x="245.30" y="222.00" font-size="11.3">S Phase :19.23%</text>
<text x="204.50" y="230.70" font-size="9.7" transform="rotate(-90 204.5 230.7)">Number</text>
<line x1="41.70" y1="300.80" x2="41.70" y2="419.30" stroke="#000" stroke-width="1.3"/>
<line x1="36.70" y1="419.30" x2="41.70" y2="419.30" stroke="#000" stroke-width="1.1"/>
<text x="33.70" y="422.40" font-size="8.8" text-anchor="end" fill="#111">0</text>
<line x1="36.70" y1="395.70" x2="41.70" y2="395.70" stroke="#000" stroke-width="1.1"/>
<text x="33.70" y="398.80" font-size="8.8" text-anchor="end" fill="#111">20</text>
<line x1="36.70" y1="372.10" x2="41.70" y2="372.10" stroke="#000" stroke-width="1.1"/>
<text x="33.70" y="375.20" font-size="8.8" text-anchor="end" fill="#111">40</text>
<line x1="36.70" y1="348.50" x2="41.70" y2="348.50" stroke="#000" stroke-width="1.1"/>
<text x="33.70" y="351.60" font-size="8.8" text-anchor="end" fill="#111">60</text>
<line x1="36.70" y1="324.90" x2="41.70" y2="324.90" stroke="#000" stroke-width="1.1"/>
<text x="33.70" y="328.00" font-size="8.8" text-anchor="end" fill="#111">80</text>
<line x1="36.70" y1="301.30" x2="41.70" y2="301.30" stroke="#000" stroke-width="1.1"/>
<text x="33.70" y="304.40" font-size="8.8" text-anchor="end" fill="#111">100</text>
<text x="15.50" y="403.00" font-size="11.6" fill="#111" transform="rotate(-90 15.5 403.0)">Cell Percentage</text>
<line x1="41.10" y1="419.30" x2="302.00" y2="419.30" stroke="#000" stroke-width="1.3"/>
<line x1="54.50" y1="357.94" x2="54.50" y2="356.05" stroke="#000" stroke-width="1.0"/>
<line x1="51.30" y1="356.05" x2="57.70" y2="356.05" stroke="#000" stroke-width="1.0"/>
<rect x="48.40" y="358.54" width="12.20" height="60.76" fill="#000" stroke="#000" stroke-width="1.3"/>
<line x1="73.90" y1="327.26" x2="73.90" y2="326.55" stroke="#000" stroke-width="1.0"/>
<line x1="70.70" y1="326.55" x2="77.10" y2="326.55" stroke="#000" stroke-width="1.0"/>
<rect x="67.80" y="327.86" width="12.20" height="91.44" fill="#fff" stroke="#000" stroke-width="1.3"/>
<line x1="92.90" y1="368.56" x2="92.90" y2="365.02" stroke="#000" stroke-width="1.0"/>
<line x1="89.70" y1="365.02" x2="96.10" y2="365.02" stroke="#000" stroke-width="1.0"/>
<rect x="86.80" y="369.16" width="12.20" height="50.14" fill="#7d7d7d" stroke="#000" stroke-width="1.3"/>
<line x1="111.80" y1="344.96" x2="111.80" y2="341.89" stroke="#000" stroke-width="1.0"/>
<line x1="108.60" y1="341.89" x2="115.00" y2="341.89" stroke="#000" stroke-width="1.0"/>
<rect x="105.70" y="345.56" width="12.20" height="73.74" fill="#d6d6d6" stroke="#000" stroke-width="1.3"/>
<line x1="83.15" y1="419.30" x2="83.15" y2="423.30" stroke="#000" stroke-width="1.1"/>
<line x1="143.50" y1="380.95" x2="143.50" y2="379.06" stroke="#000" stroke-width="1.0"/>
<line x1="140.30" y1="379.06" x2="146.70" y2="379.06" stroke="#000" stroke-width="1.0"/>
<rect x="137.40" y="381.55" width="12.20" height="37.75" fill="#000" stroke="#000" stroke-width="1.3"/>
<line x1="163.00" y1="402.54" x2="163.00" y2="401.25" stroke="#000" stroke-width="1.0"/>
<line x1="159.80" y1="401.25" x2="166.20" y2="401.25" stroke="#000" stroke-width="1.0"/>
<rect x="156.90" y="403.14" width="12.20" height="16.16" fill="#fff" stroke="#000" stroke-width="1.3"/>
<line x1="182.20" y1="375.05" x2="182.20" y2="373.16" stroke="#000" stroke-width="1.0"/>
<line x1="179.00" y1="373.16" x2="185.40" y2="373.16" stroke="#000" stroke-width="1.0"/>
<rect x="176.10" y="375.65" width="12.20" height="43.65" fill="#7d7d7d" stroke="#000" stroke-width="1.3"/>
<line x1="201.30" y1="399.24" x2="201.30" y2="396.88" stroke="#000" stroke-width="1.0"/>
<line x1="198.10" y1="396.88" x2="204.50" y2="396.88" stroke="#000" stroke-width="1.0"/>
<rect x="195.20" y="399.84" width="12.20" height="19.46" fill="#d6d6d6" stroke="#000" stroke-width="1.3"/>
<line x1="172.40" y1="419.30" x2="172.40" y2="423.30" stroke="#000" stroke-width="1.1"/>
<line x1="232.50" y1="400.42" x2="232.50" y2="398.06" stroke="#000" stroke-width="1.0"/>
<line x1="229.30" y1="398.06" x2="235.70" y2="398.06" stroke="#000" stroke-width="1.0"/>
<rect x="226.40" y="401.02" width="12.20" height="18.28" fill="#000" stroke="#000" stroke-width="1.3"/>
<line x1="251.90" y1="409.86" x2="251.90" y2="407.50" stroke="#000" stroke-width="1.0"/>
<line x1="248.70" y1="407.50" x2="255.10" y2="407.50" stroke="#000" stroke-width="1.0"/>
<rect x="245.80" y="410.46" width="12.20" height="8.84" fill="#fff" stroke="#000" stroke-width="1.3"/>
<line x1="271.30" y1="395.70" x2="271.30" y2="394.87" stroke="#000" stroke-width="1.0"/>
<line x1="268.10" y1="394.87" x2="274.50" y2="394.87" stroke="#000" stroke-width="1.0"/>
<rect x="265.20" y="396.30" width="12.20" height="23.00" fill="#7d7d7d" stroke="#000" stroke-width="1.3"/>
<line x1="290.00" y1="396.29" x2="290.00" y2="394.40" stroke="#000" stroke-width="1.0"/>
<line x1="286.80" y1="394.40" x2="293.20" y2="394.40" stroke="#000" stroke-width="1.0"/>
<rect x="283.90" y="396.89" width="12.20" height="22.41" fill="#d6d6d6" stroke="#000" stroke-width="1.3"/>
<line x1="261.25" y1="419.30" x2="261.25" y2="423.30" stroke="#000" stroke-width="1.1"/>
<text x="83.60" y="436.20" font-size="11.0" text-anchor="middle">G1</text>
<text x="172.40" y="436.20" font-size="11.0" text-anchor="middle">S</text>
<text x="260.80" y="436.20" font-size="11.0" text-anchor="middle">G2</text>
<rect x="173.40" y="304.80" width="9.80" height="4.20" fill="#000" stroke="#000" stroke-width="1.0"/>
<text x="188.70" y="310.40" font-size="11.2">si-Control</text>
<rect x="173.40" y="315.10" width="9.80" height="4.20" fill="#fff" stroke="#000" stroke-width="1.0"/>
<text x="188.70" y="320.70" font-size="11.2">si-RBCK1</text>
<rect x="173.40" y="325.40" width="9.80" height="4.20" fill="#7d7d7d" stroke="#000" stroke-width="1.0"/>
<text x="188.70" y="331.00" font-size="11.2">si-P53</text>
<rect x="173.40" y="335.70" width="9.80" height="4.20" fill="#d6d6d6" stroke="#000" stroke-width="1.0"/>
<text x="188.70" y="341.30" font-size="11.2">si-RBCK1+si-P53</text>
<rect x="47.60" y="473.60" width="101.80" height="85.60" fill="#fff"/>
<line x1="47.60" y1="473.60" x2="149.40" y2="473.60" stroke="#c8c8ff" stroke-width="1.0"/>
<line x1="149.40" y1="473.60" x2="149.40" y2="559.20" stroke="#7070f0" stroke-width="1.0"/>
<line x1="47.60" y1="473.60" x2="47.60" y2="559.20" stroke="#b8b8ff" stroke-width="1.0"/>
<line x1="47.60" y1="559.20" x2="149.40" y2="559.20" stroke="#4a4af0" stroke-width="1.0"/>
<path d="M47.30,558.60h-3.4 M47.30,554.56h-2.8 M47.30,552.19h-2.8 M47.30,550.51h-2.8 M47.30,549.21h-2.8 M47.30,548.15h-2.8 M47.30,547.25h-2.8 M47.30,546.47h-2.8 M47.30,545.78h-2.8 M47.30,545.17h-3.4 M47.30,541.12h-2.8 M47.30,538.76h-2.8 M47.30,537.08h-2.8 M47.30,535.78h-2.8 M47.30,534.71h-2.8 M47.30,533.81h-2.8 M47.30,533.04h-2.8 M47.30,532.35h-2.8 M47.30,531.73h-3.4 M47.30,527.69h-2.8 M47.30,525.32h-2.8 M47.30,523.65h-2.8 M47.30,522.34h-2.8 M47.30,521.28h-2.8 M47.30,520.38h-2.8 M47.30,519.60h-2.8 M47.30,518.91h-2.8 M47.30,518.30h-3.4 M47.30,514.26h-2.8 M47.30,511.89h-2.8 M47.30,510.21h-2.8 M47.30,508.91h-2.8 M47.30,507.85h-2.8 M47.30,506.95h-2.8 M47.30,506.17h-2.8 M47.30,505.48h-2.8 M47.30,504.87h-3.4 M47.30,500.82h-2.8 M47.30,498.46h-2.8 M47.30,496.78h-2.8 M47.30,495.48h-2.8 M47.30,494.41h-2.8 M47.30,493.51h-2.8 M47.30,492.74h-2.8 M47.30,492.05h-2.8 M47.30,491.43h-3.4 M47.30,487.39h-2.8 M47.30,485.02h-2.8 M47.30,483.35h-2.8 M47.30,482.04h-2.8 M47.30,480.98h-2.8 M47.30,480.08h-2.8 M47.30,479.30h-2.8 M47.30,478.61h-2.8 M47.30,478.00h-3.4" fill="none" stroke="#2828e6" stroke-width="0.9"/>
<path d="M47.60,559.50v3.2 M52.71,559.50v2.8 M55.70,559.50v2.8 M57.81,559.50v2.8 M59.46,559.50v2.8 M60.80,559.50v2.8 M61.94,559.50v2.8 M62.92,559.50v2.8 M63.79,559.50v2.8 M64.57,559.50v3.2 M69.67,559.50v2.8 M72.66,559.50v2.8 M74.78,559.50v2.8 M76.43,559.50v2.8 M77.77,559.50v2.8 M78.91,559.50v2.8 M79.89,559.50v2.8 M80.76,559.50v2.8 M81.53,559.50v3.2 M86.64,559.50v2.8 M89.63,559.50v2.8 M91.75,559.50v2.8 M93.39,559.50v2.8 M94.74,559.50v2.8 M95.87,559.50v2.8 M96.86,559.50v2.8 M97.72,559.50v2.8 M98.50,559.50v3.2 M103.61,559.50v2.8 M106.60,559.50v2.8 M108.71,559.50v2.8 M110.36,559.50v2.8 M111.70,559.50v2.8 M112.84,559.50v2.8 M113.82,559.50v2.8 M114.69,559.50v2.8 M115.47,559.50v3.2 M120.57,559.50v2.8 M123.56,559.50v2.8 M125.68,559.50v2.8 M127.33,559.50v2.8 M128.67,559.50v2.8 M129.81,559.50v2.8 M130.79,559.50v2.8 M131.66,559.50v2.8 M132.43,559.50v3.2 M137.54,559.50v2.8 M140.53,559.50v2.8 M142.65,559.50v2.8 M144.29,559.50v2.8 M145.64,559.50v2.8 M146.77,559.50v2.8 M147.76,559.50v2.8 M148.62,559.50v2.8 M149.40,559.50v3.2" fill="none" stroke="#2828e6" stroke-width="0.9"/>
<text x="31.10" y="561.20" font-size="7.4" fill="#222">10<tspan font-size="4.59" dy="-3.11">1</tspan></text>
<text x="31.10" y="547.77" font-size="7.4" fill="#222">10<tspan font-size="4.59" dy="-3.11">2</tspan></text>
<text x="31.10" y="534.33" font-size="7.4" fill="#222">10<tspan font-size="4.59" dy="-3.11">3</tspan></text>
<text x="31.10" y="520.90" font-size="7.4" fill="#222">10<tspan font-size="4.59" dy="-3.11">4</tspan></text>
<text x="31.10" y="507.47" font-size="7.4" fill="#222">10<tspan font-size="4.59" dy="-3.11">5</tspan></text>
<text x="31.10" y="494.03" font-size="7.4" fill="#222">10<tspan font-size="4.59" dy="-3.11">6</tspan></text>
<text x="31.10" y="480.60" font-size="7.4" fill="#222">10<tspan font-size="4.59" dy="-3.11">7</tspan></text>
<text x="39.20" y="571.50" font-size="7.4" fill="#222">10<tspan font-size="4.59" dy="-3.11">1</tspan></text>
<text x="56.17" y="571.50" font-size="7.4" fill="#222">10<tspan font-size="4.59" dy="-3.11">2</tspan></text>
<text x="73.13" y="571.50" font-size="7.4" fill="#222">10<tspan font-size="4.59" dy="-3.11">3</tspan></text>
<text x="90.10" y="571.50" font-size="7.4" fill="#222">10<tspan font-size="4.59" dy="-3.11">4</tspan></text>
<text x="107.07" y="571.50" font-size="7.4" fill="#222">10<tspan font-size="4.59" dy="-3.11">5</tspan></text>
<text x="124.03" y="571.50" font-size="7.4" fill="#222">10<tspan font-size="4.59" dy="-3.11">6</tspan></text>
<text x="141.00" y="571.50" font-size="7.4" fill="#222">10<tspan font-size="4.59" dy="-3.11">7</tspan></text>
<text x="67.70" y="470.00" font-size="11.2">si-Control</text>
<ellipse cx="137.10" cy="496.80" rx="7.18" ry="13.30" fill="#000"/>
<ellipse cx="136.80" cy="505.90" rx="5.18" ry="7.70" fill="#000"/>
<path d="M142.1,508.2h.9v.9h-.9zM137.4,491.9h.9v.9h-.9zM132.8,497.7h.9v.9h-.9zM133.1,486.9h.9v.9h-.9zM137.9,498.5h.9v.9h-.9zM139.2,490.8h.9v.9h-.9zM137.1,497.0h.9v.9h-.9zM131.2,501.5h.9v.9h-.9zM138.3,515.1h.9v.9h-.9zM137.9,496.4h.9v.9h-.9zM141.9,499.0h.9v.9h-.9zM140.6,494.8h.9v.9h-.9zM137.9,505.0h.9v.9h-.9zM139.8,498.4h.9v.9h-.9zM132.9,500.8h.9v.9h-.9zM137.4,502.8h.9v.9h-.9zM137.9,505.5h.9v.9h-.9zM136.9,499.0h.9v.9h-.9zM139.7,489.5h.9v.9h-.9zM135.5,493.8h.9v.9h-.9zM144.8,496.8h.9v.9h-.9zM139.6,502.1h.9v.9h-.9zM136.0,486.1h.9v.9h-.9zM140.9,494.5h.9v.9h-.9zM139.9,487.9h.9v.9h-.9zM135.4,506.8h.9v.9h-.9zM142.7,487.9h.9v.9h-.9zM131.9,497.2h.9v.9h-.9zM139.9,498.7h.9v.9h-.9zM138.3,490.2h.9v.9h-.9zM139.4,505.7h.9v.9h-.9zM135.4,486.9h.9v.9h-.9zM134.1,503.1h.9v.9h-.9zM130.3,496.8h.9v.9h-.9zM133.2,496.5h.9v.9h-.9zM136.1,497.6h.9v.9h-.9zM142.9,500.6h.9v.9h-.9zM142.3,496.5h.9v.9h-.9zM135.2,500.3h.9v.9h-.9zM126.1,497.2h.9v.9h-.9zM137.7,488.4h.9v.9h-.9zM138.9,493.4h.9v.9h-.9zM127.5,495.9h.9v.9h-.9zM133.3,493.7h.9v.9h-.9zM136.5,506.7h.9v.9h-.9zM137.5,497.3h.9v.9h-.9zM138.6,484.1h.9v.9h-.9zM141.9,489.6h.9v.9h-.9zM138.8,489.2h.9v.9h-.9zM133.3,494.6h.9v.9h-.9zM144.5,502.6h.9v.9h-.9zM134.7,495.4h.9v.9h-.9zM132.6,497.2h.9v.9h-.9zM134.9,502.8h.9v.9h-.9zM131.8,495.0h.9v.9h-.9zM133.8,492.2h.9v.9h-.9zM139.9,498.4h.9v.9h-.9zM139.4,506.3h.9v.9h-.9zM141.6,487.4h.9v.9h-.9zM139.2,484.5h.9v.9h-.9zM136.9,511.6h.9v.9h-.9zM136.3,494.8h.9v.9h-.9zM137.8,497.6h.9v.9h-.9zM137.2,491.9h.9v.9h-.9zM141.3,504.1h.9v.9h-.9zM136.3,499.8h.9v.9h-.9zM139.7,505.1h.9v.9h-.9zM138.6,502.6h.9v.9h-.9zM136.1,489.6h.9v.9h-.9zM135.2,505.0h.9v.9h-.9zM140.9,498.6h.9v.9h-.9zM134.9,499.8h.9v.9h-.9zM143.6,507.5h.9v.9h-.9zM134.4,497.2h.9v.9h-.9zM131.4,489.1h.9v.9h-.9zM137.8,497.7h.9v.9h-.9zM140.9,506.8h.9v.9h-.9zM140.4,507.2h.9v.9h-.9zM135.0,489.2h.9v.9h-.9zM139.0,517.2h.9v.9h-.9zM138.5,489.0h.9v.9h-.9zM138.0,508.0h.9v.9h-.9zM133.1,503.4h.9v.9h-.9zM134.7,506.9h.9v.9h-.9zM140.2,499.7h.9v.9h-.9zM144.9,494.5h.9v.9h-.9zM134.4,511.2h.9v.9h-.9zM133.7,513.7h.9v.9h-.9zM136.9,489.9h.9v.9h-.9zM137.1,498.5h.9v.9h-.9zM137.9,496.1h.9v.9h-.9zM134.9,495.6h.9v.9h-.9zM135.8,489.1h.9v.9h-.9zM134.5,502.2h.9v.9h-.9zM138.7,508.1h.9v.9h-.9zM134.8,499.5h.9v.9h-.9zM141.7,504.2h.9v.9h-.9zM135.8,505.8h.9v.9h-.9zM133.5,510.8h.9v.9h-.9zM137.7,496.7h.9v.9h-.9zM138.2,503.8h.9v.9h-.9zM143.9,496.5h.9v.9h-.9zM135.7,501.8h.9v.9h-.9zM133.7,485.0h.9v.9h-.9zM140.4,494.7h.9v.9h-.9zM141.5,489.9h.9v.9h-.9zM125.8,499.6h.9v.9h-.9zM137.7,509.3h.9v.9h-.9zM139.1,499.8h.9v.9h-.9zM139.4,494.8h.9v.9h-.9zM137.4,487.5h.9v.9h-.9zM139.1,491.6h.9v.9h-.9zM135.4,502.7h.9v.9h-.9zM140.7,490.1h.9v.9h-.9zM144.9,493.1h.9v.9h-.9zM140.4,504.5h.9v.9h-.9zM138.0,498.8h.9v.9h-.9zM144.1,504.1h.9v.9h-.9zM138.8,484.1h.9v.9h-.9zM134.2,506.1h.9v.9h-.9zM137.9,490.5h.9v.9h-.9zM134.6,495.2h.9v.9h-.9zM139.8,500.4h.9v.9h-.9zM141.0,491.5h.9v.9h-.9zM140.9,493.8h.9v.9h-.9zM135.9,510.3h.9v.9h-.9zM137.4,496.5h.9v.9h-.9zM136.3,494.7h.9v.9h-.9zM143.2,507.6h.9v.9h-.9zM139.9,498.9h.9v.9h-.9zM141.2,496.9h.9v.9h-.9zM138.9,500.5h.9v.9h-.9zM137.4,509.6h.9v.9h-.9zM143.9,507.3h.9v.9h-.9zM129.6,511.0h.9v.9h-.9zM139.8,494.2h.9v.9h-.9zM137.0,505.9h.9v.9h-.9zM141.7,503.8h.9v.9h-.9zM137.6,497.8h.9v.9h-.9zM140.3,496.8h.9v.9h-.9zM133.6,492.9h.9v.9h-.9zM136.6,500.0h.9v.9h-.9zM145.9,487.4h.9v.9h-.9zM139.0,496.8h.9v.9h-.9zM138.3,507.5h.9v.9h-.9zM141.9,496.3h.9v.9h-.9zM134.9,487.5h.9v.9h-.9zM136.8,506.7h.9v.9h-.9zM136.1,502.7h.9v.9h-.9zM139.9,500.4h.9v.9h-.9zM141.3,496.7h.9v.9h-.9zM133.9,488.9h.9v.9h-.9zM140.7,494.8h.9v.9h-.9zM135.9,503.6h.9v.9h-.9zM134.0,510.5h.9v.9h-.9zM139.7,493.6h.9v.9h-.9zM134.6,505.5h.9v.9h-.9zM132.5,492.8h.9v.9h-.9zM137.1,499.0h.9v.9h-.9zM137.2,500.4h.9v.9h-.9zM135.7,496.6h.9v.9h-.9zM142.0,502.3h.9v.9h-.9zM135.3,510.1h.9v.9h-.9zM129.3,498.1h.9v.9h-.9zM139.7,504.7h.9v.9h-.9zM137.5,494.7h.9v.9h-.9zM139.4,496.1h.9v.9h-.9zM138.9,476.5h.9v.9h-.9zM138.6,491.7h.9v.9h-.9zM140.8,503.0h.9v.9h-.9zM139.9,494.5h.9v.9h-.9zM138.8,495.0h.9v.9h-.9zM137.9,496.5h.9v.9h-.9zM133.7,512.1h.9v.9h-.9zM139.9,482.3h.9v.9h-.9zM140.6,487.2h.9v.9h-.9zM136.2,493.2h.9v.9h-.9zM135.0,499.3h.9v.9h-.9zM135.8,486.8h.9v.9h-.9zM137.1,500.2h.9v.9h-.9zM144.0,494.4h.9v.9h-.9zM132.5,494.7h.9v.9h-.9zM139.6,491.0h.9v.9h-.9zM134.3,501.6h.9v.9h-.9zM137.1,499.1h.9v.9h-.9zM134.7,491.4h.9v.9h-.9zM135.8,496.4h.9v.9h-.9zM135.8,500.7h.9v.9h-.9zM139.2,501.5h.9v.9h-.9zM139.0,491.0h.9v.9h-.9zM132.7,503.4h.9v.9h-.9zM137.1,498.4h.9v.9h-.9zM132.6,495.9h.9v.9h-.9zM134.6,491.1h.9v.9h-.9zM134.6,486.5h.9v.9h-.9zM137.4,506.1h.9v.9h-.9zM134.3,498.2h.9v.9h-.9zM132.8,502.4h.9v.9h-.9zM144.4,488.4h.9v.9h-.9zM136.2,508.0h.9v.9h-.9zM138.5,498.3h.9v.9h-.9zM129.1,496.4h.9v.9h-.9zM140.7,508.1h.9v.9h-.9zM139.6,493.2h.9v.9h-.9zM134.4,484.1h.9v.9h-.9zM132.9,505.8h.9v.9h-.9zM136.7,487.6h.9v.9h-.9zM142.0,495.1h.9v.9h-.9zM138.4,502.5h.9v.9h-.9zM138.1,506.9h.9v.9h-.9zM137.2,495.1h.9v.9h-.9zM134.5,486.9h.9v.9h-.9zM134.4,504.7h.9v.9h-.9zM140.3,507.8h.9v.9h-.9zM147.7,502.8h.9v.9h-.9zM139.1,487.8h.9v.9h-.9zM136.2,513.7h.9v.9h-.9zM139.2,496.5h.9v.9h-.9zM138.3,483.5h.9v.9h-.9zM133.9,487.9h.9v.9h-.9zM128.8,503.2h.9v.9h-.9zM140.9,496.2h.9v.9h-.9zM138.4,490.1h.9v.9h-.9zM138.9,503.1h.9v.9h-.9zM143.1,509.0h.9v.9h-.9zM139.0,496.6h.9v.9h-.9zM133.9,493.0h.9v.9h-.9zM139.5,501.7h.9v.9h-.9zM137.2,509.8h.9v.9h-.9zM139.6,497.6h.9v.9h-.9zM136.4,498.1h.9v.9h-.9zM133.4,490.3h.9v.9h-.9zM138.5,493.2h.9v.9h-.9zM136.0,506.5h.9v.9h-.9zM136.3,507.2h.9v.9h-.9zM137.1,508.7h.9v.9h-.9zM138.9,484.5h.9v.9h-.9zM141.9,496.0h.9v.9h-.9zM129.4,498.3h.9v.9h-.9zM137.7,488.0h.9v.9h-.9zM134.7,501.5h.9v.9h-.9zM142.6,505.9h.9v.9h-.9zM141.9,505.8h.9v.9h-.9zM127.4,492.1h.9v.9h-.9zM137.8,477.7h.9v.9h-.9zM140.1,504.1h.9v.9h-.9zM134.1,494.7h.9v.9h-.9zM133.4,497.4h.9v.9h-.9zM136.9,497.4h.9v.9h-.9zM133.1,500.4h.9v.9h-.9zM135.8,504.5h.9v.9h-.9zM138.3,486.6h.9v.9h-.9zM131.5,498.0h.9v.9h-.9zM135.2,501.0h.9v.9h-.9zM140.2,497.6h.9v.9h-.9zM130.5,488.7h.9v.9h-.9zM139.3,489.8h.9v.9h-.9zM141.4,496.8h.9v.9h-.9zM139.1,491.0h.9v.9h-.9zM136.7,475.7h.9v.9h-.9zM136.3,501.7h.9v.9h-.9zM133.6,491.3h.9v.9h-.9zM136.9,498.0h.9v.9h-.9zM134.0,502.5h.9v.9h-.9zM130.7,505.7h.9v.9h-.9zM131.6,491.4h.9v.9h-.9zM142.3,490.2h.9v.9h-.9zM130.7,498.1h.9v.9h-.9zM133.5,489.3h.9v.9h-.9zM134.4,492.0h.9v.9h-.9zM133.3,489.9h.9v.9h-.9zM143.4,492.5h.9v.9h-.9zM140.9,487.1h.9v.9h-.9zM139.2,488.3h.9v.9h-.9zM135.3,502.2h.9v.9h-.9zM135.0,483.0h.9v.9h-.9zM134.9,496.3h.9v.9h-.9zM139.3,490.1h.9v.9h-.9zM135.9,498.0h.9v.9h-.9zM130.7,496.7h.9v.9h-.9zM133.9,500.7h.9v.9h-.9zM136.7,496.3h.9v.9h-.9zM127.7,496.7h.9v.9h-.9zM135.7,490.5h.9v.9h-.9zM135.1,488.2h.9v.9h-.9zM137.8,502.4h.9v.9h-.9zM139.4,493.7h.9v.9h-.9zM143.6,503.8h.9v.9h-.9zM133.4,496.5h.9v.9h-.9zM130.8,496.6h.9v.9h-.9zM139.9,506.8h.9v.9h-.9zM135.5,484.3h.9v.9h-.9zM136.4,507.5h.9v.9h-.9zM137.7,506.9h.9v.9h-.9zM140.3,509.0h.9v.9h-.9zM139.4,492.6h.9v.9h-.9zM138.8,516.2h.9v.9h-.9zM135.1,483.8h.9v.9h-.9zM145.3,500.5h.9v.9h-.9zM134.7,493.0h.9v.9h-.9zM131.1,502.7h.9v.9h-.9zM137.7,492.8h.9v.9h-.9zM135.5,494.3h.9v.9h-.9zM141.3,496.2h.9v.9h-.9zM142.5,491.3h.9v.9h-.9zM134.7,493.9h.9v.9h-.9zM135.0,496.8h.9v.9h-.9zM141.1,506.4h.9v.9h-.9zM132.9,506.9h.9v.9h-.9zM137.5,509.2h.9v.9h-.9zM136.4,491.3h.9v.9h-.9zM140.2,502.1h.9v.9h-.9zM135.3,497.7h.9v.9h-.9zM137.6,499.8h.9v.9h-.9zM130.4,488.6h.9v.9h-.9zM137.3,499.4h.9v.9h-.9zM135.1,484.5h.9v.9h-.9zM142.3,495.2h.9v.9h-.9zM133.0,509.3h.9v.9h-.9zM141.5,505.1h.9v.9h-.9zM140.4,501.7h.9v.9h-.9zM133.3,497.7h.9v.9h-.9zM138.5,502.2h.9v.9h-.9zM139.0,490.1h.9v.9h-.9zM134.7,495.1h.9v.9h-.9zM136.3,491.1h.9v.9h-.9zM130.0,488.5h.9v.9h-.9zM138.3,497.4h.9v.9h-.9zM139.4,483.6h.9v.9h-.9zM135.5,504.1h.9v.9h-.9zM129.5,489.5h.9v.9h-.9zM130.6,506.4h.9v.9h-.9zM137.2,493.3h.9v.9h-.9zM137.7,496.8h.9v.9h-.9zM140.6,506.1h.9v.9h-.9zM140.7,500.0h.9v.9h-.9zM140.1,503.5h.9v.9h-.9zM138.4,498.1h.9v.9h-.9zM137.7,495.7h.9v.9h-.9zM136.8,501.1h.9v.9h-.9zM137.9,498.4h.9v.9h-.9zM132.9,488.2h.9v.9h-.9zM134.2,484.4h.9v.9h-.9zM135.1,491.2h.9v.9h-.9zM135.3,493.2h.9v.9h-.9zM145.6,503.9h.9v.9h-.9zM134.1,493.8h.9v.9h-.9zM133.2,491.7h.9v.9h-.9zM135.7,497.1h.9v.9h-.9zM134.7,503.6h.9v.9h-.9zM139.6,511.9h.9v.9h-.9zM132.0,502.5h.9v.9h-.9zM135.6,485.7h.9v.9h-.9zM135.9,485.4h.9v.9h-.9zM137.0,517.7h.9v.9h-.9zM142.2,510.9h.9v.9h-.9zM141.8,486.1h.9v.9h-.9zM138.7,498.5h.9v.9h-.9zM138.8,489.8h.9v.9h-.9zM129.4,513.0h.9v.9h-.9zM141.7,499.8h.9v.9h-.9zM135.2,498.8h.9v.9h-.9zM132.3,504.6h.9v.9h-.9zM137.7,496.4h.9v.9h-.9zM135.4,497.0h.9v.9h-.9zM137.6,494.5h.9v.9h-.9zM140.8,499.0h.9v.9h-.9zM136.7,491.2h.9v.9h-.9zM141.8,507.1h.9v.9h-.9zM139.8,483.9h.9v.9h-.9zM135.7,504.8h.9v.9h-.9zM137.2,506.9h.9v.9h-.9zM135.4,503.4h.9v.9h-.9zM139.1,479.5h.9v.9h-.9zM135.5,495.8h.9v.9h-.9zM134.7,490.9h.9v.9h-.9zM143.3,496.6h.9v.9h-.9zM140.2,487.6h.9v.9h-.9zM129.0,494.0h.9v.9h-.9zM138.7,492.2h.9v.9h-.9zM139.2,503.4h.9v.9h-.9zM135.4,497.1h.9v.9h-.9zM134.2,505.5h.9v.9h-.9zM144.0,501.2h.9v.9h-.9zM135.1,492.3h.9v.9h-.9zM136.0,504.1h.9v.9h-.9zM134.2,508.4h.9v.9h-.9zM132.3,497.4h.9v.9h-.9zM142.2,510.6h.9v.9h-.9zM135.5,503.3h.9v.9h-.9zM147.0,506.1h.9v.9h-.9zM128.6,499.6h.9v.9h-.9zM146.4,488.9h.9v.9h-.9zM140.7,482.1h.9v.9h-.9zM143.3,491.3h.9v.9h-.9zM140.2,504.2h.9v.9h-.9zM126.3,487.0h.9v.9h-.9zM138.4,486.3h.9v.9h-.9zM137.0,490.5h.9v.9h-.9zM142.3,493.7h.9v.9h-.9zM133.5,502.2h.9v.9h-.9zM141.9,496.3h.9v.9h-.9zM138.2,501.1h.9v.9h-.9zM135.2,488.7h.9v.9h-.9zM139.2,494.9h.9v.9h-.9zM131.8,503.8h.9v.9h-.9zM138.8,498.5h.9v.9h-.9zM134.2,495.9h.9v.9h-.9zM139.5,501.1h.9v.9h-.9zM133.9,490.9h.9v.9h-.9zM138.4,498.9h.9v.9h-.9zM140.4,489.0h.9v.9h-.9zM140.7,510.5h.9v.9h-.9zM140.8,498.5h.9v.9h-.9zM140.6,488.0h.9v.9h-.9zM135.4,512.7h.9v.9h-.9zM130.7,489.0h.9v.9h-.9zM140.3,492.7h.9v.9h-.9zM134.9,489.3h.9v.9h-.9zM143.7,493.0h.9v.9h-.9zM136.0,484.1h.9v.9h-.9zM140.1,497.4h.9v.9h-.9zM139.0,509.1h.9v.9h-.9zM137.7,488.7h.9v.9h-.9zM133.2,498.1h.9v.9h-.9zM142.2,488.7h.9v.9h-.9zM136.1,496.4h.9v.9h-.9zM139.7,490.9h.9v.9h-.9zM138.3,503.3h.9v.9h-.9zM137.0,496.8h.9v.9h-.9zM139.5,501.8h.9v.9h-.9zM142.0,489.5h.9v.9h-.9zM141.9,495.8h.9v.9h-.9zM132.7,493.4h.9v.9h-.9zM132.3,496.0h.9v.9h-.9zM132.5,503.2h.9v.9h-.9zM135.9,503.3h.9v.9h-.9zM131.9,497.1h.9v.9h-.9zM127.0,491.3h.9v.9h-.9zM140.0,506.5h.9v.9h-.9zM143.5,497.1h.9v.9h-.9zM133.7,494.7h.9v.9h-.9zM129.6,507.5h.9v.9h-.9zM141.7,490.8h.9v.9h-.9zM144.2,487.5h.9v.9h-.9zM139.3,491.5h.9v.9h-.9zM130.3,500.4h.9v.9h-.9zM132.6,506.3h.9v.9h-.9zM133.6,498.3h.9v.9h-.9zM135.2,498.5h.9v.9h-.9zM134.6,503.5h.9v.9h-.9zM139.5,498.0h.9v.9h-.9zM136.6,512.0h.9v.9h-.9zM134.4,494.3h.9v.9h-.9zM140.1,497.4h.9v.9h-.9zM130.7,496.5h.9v.9h-.9zM135.6,490.2h.9v.9h-.9zM137.9,489.1h.9v.9h-.9zM136.1,489.1h.9v.9h-.9zM143.2,495.4h.9v.9h-.9zM138.8,499.6h.9v.9h-.9zM139.8,496.4h.9v.9h-.9zM140.0,498.4h.9v.9h-.9zM127.6,499.8h.9v.9h-.9zM132.1,504.5h.9v.9h-.9zM138.0,494.8h.9v.9h-.9zM132.5,494.7h.9v.9h-.9zM131.7,512.1h.9v.9h-.9zM138.9,496.8h.9v.9h-.9zM133.3,495.0h.9v.9h-.9zM136.2,494.2h.9v.9h-.9zM136.8,503.4h.9v.9h-.9zM130.2,499.2h.9v.9h-.9zM141.4,487.4h.9v.9h-.9zM136.4,494.7h.9v.9h-.9zM132.6,504.5h.9v.9h-.9zM135.8,505.9h.9v.9h-.9zM138.7,495.4h.9v.9h-.9zM138.2,494.7h.9v.9h-.9zM130.7,508.0h.9v.9h-.9zM138.5,506.0h.9v.9h-.9zM130.0,505.2h.9v.9h-.9zM140.3,497.2h.9v.9h-.9zM128.8,498.2h.9v.9h-.9zM134.5,496.1h.9v.9h-.9zM137.3,490.8h.9v.9h-.9zM136.6,497.6h.9v.9h-.9zM142.8,496.8h.9v.9h-.9zM146.3,488.8h.9v.9h-.9zM136.6,506.6h.9v.9h-.9zM131.0,502.1h.9v.9h-.9zM138.6,493.1h.9v.9h-.9zM136.2,508.9h.9v.9h-.9zM135.4,499.6h.9v.9h-.9zM138.8,506.4h.9v.9h-.9zM129.0,486.7h.9v.9h-.9zM131.9,495.4h.9v.9h-.9zM139.5,503.6h.9v.9h-.9zM136.0,508.7h.9v.9h-.9zM136.8,502.6h.9v.9h-.9zM134.1,503.6h.9v.9h-.9zM134.3,506.0h.9v.9h-.9zM140.5,511.3h.9v.9h-.9zM135.4,488.9h.9v.9h-.9zM140.3,499.8h.9v.9h-.9zM135.0,487.6h.9v.9h-.9zM140.2,483.1h.9v.9h-.9zM135.3,505.4h.9v.9h-.9zM136.1,500.9h.9v.9h-.9zM139.0,501.9h.9v.9h-.9zM141.2,502.3h.9v.9h-.9zM135.6,488.4h.9v.9h-.9zM136.0,492.7h.9v.9h-.9zM138.7,506.6h.9v.9h-.9zM140.1,492.4h.9v.9h-.9zM137.9,497.5h.9v.9h-.9zM135.3,507.1h.9v.9h-.9zM139.5,500.2h.9v.9h-.9zM134.2,505.9h.9v.9h-.9zM136.3,497.3h.9v.9h-.9zM136.1,501.0h.9v.9h-.9zM137.1,510.1h.9v.9h-.9zM136.6,495.6h.9v.9h-.9zM142.6,503.0h.9v.9h-.9zM139.8,501.4h.9v.9h-.9zM136.9,499.8h.9v.9h-.9zM139.2,498.3h.9v.9h-.9zM129.8,507.6h.9v.9h-.9zM135.2,493.3h.9v.9h-.9zM135.8,492.2h.9v.9h-.9zM133.7,496.9h.9v.9h-.9zM140.5,495.3h.9v.9h-.9zM138.9,487.5h.9v.9h-.9zM140.0,489.1h.9v.9h-.9zM139.8,492.0h.9v.9h-.9zM134.8,488.2h.9v.9h-.9zM132.2,495.9h.9v.9h-.9zM133.3,495.9h.9v.9h-.9zM141.5,491.3h.9v.9h-.9zM135.9,496.8h.9v.9h-.9zM134.7,497.3h.9v.9h-.9zM138.0,505.2h.9v.9h-.9zM134.3,495.9h.9v.9h-.9zM136.5,506.5h.9v.9h-.9zM133.2,498.8h.9v.9h-.9zM140.1,501.8h.9v.9h-.9zM134.3,489.9h.9v.9h-.9zM129.9,493.6h.9v.9h-.9zM136.1,486.5h.9v.9h-.9zM140.4,498.7h.9v.9h-.9zM136.2,493.6h.9v.9h-.9zM138.9,495.4h.9v.9h-.9zM139.1,494.0h.9v.9h-.9zM132.9,510.8h.9v.9h-.9zM141.2,509.6h.9v.9h-.9zM134.0,502.9h.9v.9h-.9zM141.0,504.2h.9v.9h-.9zM136.4,508.3h.9v.9h-.9zM138.7,488.0h.9v.9h-.9zM146.7,498.4h.9v.9h-.9zM142.0,492.4h.9v.9h-.9zM133.5,504.0h.9v.9h-.9zM140.3,492.0h.9v.9h-.9zM138.1,487.7h.9v.9h-.9zM129.1,505.5h.9v.9h-.9zM132.6,503.0h.9v.9h-.9zM141.2,500.2h.9v.9h-.9zM143.0,500.2h.9v.9h-.9zM138.2,497.5h.9v.9h-.9zM138.7,500.1h.9v.9h-.9zM133.4,497.1h.9v.9h-.9zM135.6,518.4h.9v.9h-.9zM141.9,491.7h.9v.9h-.9zM139.4,484.6h.9v.9h-.9zM137.3,510.9h.9v.9h-.9zM137.4,507.0h.9v.9h-.9zM135.7,500.9h.9v.9h-.9zM138.6,481.3h.9v.9h-.9zM134.0,511.5h.9v.9h-.9zM133.9,506.4h.9v.9h-.9zM143.8,497.2h.9v.9h-.9zM141.0,500.2h.9v.9h-.9zM134.8,501.8h.9v.9h-.9zM138.8,490.2h.9v.9h-.9zM135.4,487.6h.9v.9h-.9zM135.8,497.2h.9v.9h-.9zM139.7,506.8h.9v.9h-.9zM133.6,498.0h.9v.9h-.9zM134.5,478.1h.9v.9h-.9zM145.3,499.6h.9v.9h-.9zM138.0,513.7h.9v.9h-.9zM135.4,524.7h.9v.9h-.9zM133.5,509.0h.9v.9h-.9zM144.0,522.3h.9v.9h-.9zM133.6,527.6h.9v.9h-.9zM137.9,516.7h.9v.9h-.9zM136.8,527.1h.9v.9h-.9zM135.3,515.2h.9v.9h-.9zM131.1,518.3h.9v.9h-.9zM133.9,530.0h.9v.9h-.9zM136.2,509.5h.9v.9h-.9zM138.0,508.5h.9v.9h-.9zM139.0,508.8h.9v.9h-.9zM141.8,522.7h.9v.9h-.9zM136.7,528.1h.9v.9h-.9zM139.0,536.5h.9v.9h-.9zM137.7,529.4h.9v.9h-.9zM136.9,514.1h.9v.9h-.9zM136.5,521.5h.9v.9h-.9zM130.7,518.2h.9v.9h-.9zM142.2,513.9h.9v.9h-.9zM137.3,537.1h.9v.9h-.9zM135.5,533.3h.9v.9h-.9zM135.0,510.7h.9v.9h-.9zM144.5,527.1h.9v.9h-.9zM134.4,509.8h.9v.9h-.9zM134.0,519.8h.9v.9h-.9zM136.8,528.0h.9v.9h-.9zM136.3,534.7h.9v.9h-.9zM132.4,523.7h.9v.9h-.9zM134.9,522.2h.9v.9h-.9zM136.6,527.3h.9v.9h-.9zM135.5,509.1h.9v.9h-.9zM134.8,518.9h.9v.9h-.9zM128.8,521.8h.9v.9h-.9zM138.1,510.7h.9v.9h-.9zM139.3,508.5h.9v.9h-.9zM136.4,511.4h.9v.9h-.9zM130.3,514.6h.9v.9h-.9zM132.0,524.3h.9v.9h-.9zM134.2,512.3h.9v.9h-.9zM136.4,517.0h.9v.9h-.9zM138.5,514.6h.9v.9h-.9zM139.6,513.9h.9v.9h-.9zM138.1,510.1h.9v.9h-.9zM134.8,509.5h.9v.9h-.9zM140.0,519.1h.9v.9h-.9zM132.8,521.1h.9v.9h-.9zM136.2,525.3h.9v.9h-.9zM138.4,511.0h.9v.9h-.9zM136.5,512.9h.9v.9h-.9zM140.1,509.5h.9v.9h-.9zM137.1,509.3h.9v.9h-.9zM139.2,528.3h.9v.9h-.9zM138.1,518.2h.9v.9h-.9zM140.4,531.6h.9v.9h-.9zM134.3,519.5h.9v.9h-.9zM136.2,510.1h.9v.9h-.9zM141.8,521.2h.9v.9h-.9zM139.3,508.7h.9v.9h-.9zM133.6,525.9h.9v.9h-.9zM140.1,519.9h.9v.9h-.9zM136.1,509.2h.9v.9h-.9zM136.8,510.8h.9v.9h-.9zM136.2,513.7h.9v.9h-.9zM142.0,537.3h.9v.9h-.9zM138.2,513.1h.9v.9h-.9zM135.2,524.4h.9v.9h-.9zM135.9,512.9h.9v.9h-.9zM136.8,529.5h.9v.9h-.9zM134.9,510.3h.9v.9h-.9zM137.7,528.7h.9v.9h-.9zM133.4,520.0h.9v.9h-.9zM134.1,511.0h.9v.9h-.9zM138.2,508.7h.9v.9h-.9zM134.6,528.8h.9v.9h-.9zM136.0,535.7h.9v.9h-.9zM136.0,530.7h.9v.9h-.9zM137.2,521.5h.9v.9h-.9zM139.1,517.2h.9v.9h-.9zM140.6,509.2h.9v.9h-.9zM134.3,529.1h.9v.9h-.9zM138.4,513.8h.9v.9h-.9zM136.3,524.7h.9v.9h-.9zM138.5,511.0h.9v.9h-.9zM137.1,510.2h.9v.9h-.9zM134.5,526.6h.9v.9h-.9zM139.5,520.7h.9v.9h-.9zM134.5,511.3h.9v.9h-.9zM133.3,534.0h.9v.9h-.9zM141.8,517.1h.9v.9h-.9zM130.6,526.9h.9v.9h-.9zM136.9,514.7h.9v.9h-.9zM138.6,529.6h.9v.9h-.9zM134.4,509.2h.9v.9h-.9zM136.0,508.6h.9v.9h-.9zM138.6,510.3h.9v.9h-.9zM133.4,534.1h.9v.9h-.9zM141.3,533.3h.9v.9h-.9zM139.3,508.6h.9v.9h-.9zM130.5,514.8h.9v.9h-.9zM139.8,520.1h.9v.9h-.9zM133.8,510.0h.9v.9h-.9zM136.9,510.1h.9v.9h-.9zM142.8,513.2h.9v.9h-.9zM130.9,527.2h.9v.9h-.9zM139.6,508.7h.9v.9h-.9zM135.1,529.8h.9v.9h-.9zM140.6,509.8h.9v.9h-.9zM141.9,511.6h.9v.9h-.9zM129.0,508.6h.9v.9h-.9zM137.0,529.8h.9v.9h-.9zM142.1,514.1h.9v.9h-.9zM136.8,530.1h.9v.9h-.9zM131.9,521.9h.9v.9h-.9zM140.9,516.1h.9v.9h-.9zM130.1,534.6h.9v.9h-.9zM135.1,516.3h.9v.9h-.9zM135.0,514.9h.9v.9h-.9zM135.9,509.5h.9v.9h-.9zM138.5,519.9h.9v.9h-.9zM135.0,531.2h.9v.9h-.9zM137.6,527.7h.9v.9h-.9zM133.6,537.9h.9v.9h-.9zM135.7,527.8h.9v.9h-.9zM136.4,519.4h.9v.9h-.9zM139.1,508.5h.9v.9h-.9zM135.6,513.4h.9v.9h-.9zM134.6,518.6h.9v.9h-.9zM134.2,516.5h.9v.9h-.9zM139.0,521.5h.9v.9h-.9zM134.5,517.0h.9v.9h-.9zM139.0,528.7h.9v.9h-.9zM137.1,512.4h.9v.9h-.9zM138.3,510.3h.9v.9h-.9zM136.2,509.0h.9v.9h-.9zM132.0,512.2h.9v.9h-.9zM136.8,537.8h.9v.9h-.9zM136.4,530.6h.9v.9h-.9zM136.6,508.7h.9v.9h-.9zM138.1,521.4h.9v.9h-.9zM134.7,536.4h.9v.9h-.9zM133.5,518.6h.9v.9h-.9zM135.4,508.8h.9v.9h-.9zM139.1,509.7h.9v.9h-.9zM136.3,508.8h.9v.9h-.9zM136.8,511.5h.9v.9h-.9zM135.0,510.3h.9v.9h-.9zM132.6,511.4h.9v.9h-.9zM137.7,511.9h.9v.9h-.9zM143.1,531.6h.9v.9h-.9zM136.4,508.8h.9v.9h-.9zM142.0,512.2h.9v.9h-.9zM134.7,509.3h.9v.9h-.9zM134.0,515.3h.9v.9h-.9zM140.4,508.5h.9v.9h-.9zM137.1,512.2h.9v.9h-.9zM131.5,508.6h.9v.9h-.9zM134.0,519.9h.9v.9h-.9zM132.2,514.8h.9v.9h-.9zM137.6,536.6h.9v.9h-.9zM138.4,509.3h.9v.9h-.9zM138.8,519.8h.9v.9h-.9zM138.6,510.1h.9v.9h-.9zM139.4,508.7h.9v.9h-.9zM136.4,536.1h.9v.9h-.9zM138.5,525.0h.9v.9h-.9zM143.2,508.5h.9v.9h-.9zM139.7,537.0h.9v.9h-.9zM137.6,518.6h.9v.9h-.9zM137.2,508.5h.9v.9h-.9zM135.8,529.0h.9v.9h-.9zM135.3,508.6h.9v.9h-.9zM136.8,511.7h.9v.9h-.9zM135.1,516.7h.9v.9h-.9zM139.3,522.2h.9v.9h-.9zM138.8,510.1h.9v.9h-.9zM140.9,511.8h.9v.9h-.9zM133.7,534.5h.9v.9h-.9zM138.5,508.5h.9v.9h-.9zM140.1,508.5h.9v.9h-.9zM139.7,522.6h.9v.9h-.9zM132.2,535.5h.9v.9h-.9zM138.9,512.8h.9v.9h-.9zM133.5,508.8h.9v.9h-.9zM139.5,528.4h.9v.9h-.9zM139.3,535.5h.9v.9h-.9zM133.8,518.6h.9v.9h-.9zM132.8,517.0h.9v.9h-.9zM137.7,519.4h.9v.9h-.9zM133.6,530.9h.9v.9h-.9zM138.2,529.7h.9v.9h-.9zM133.2,523.1h.9v.9h-.9zM136.5,528.5h.9v.9h-.9zM137.0,520.5h.9v.9h-.9zM139.7,520.4h.9v.9h-.9zM131.7,508.6h.9v.9h-.9zM138.6,510.6h.9v.9h-.9zM135.1,515.3h.9v.9h-.9zM130.4,523.9h.9v.9h-.9zM134.7,521.2h.9v.9h-.9zM139.3,521.8h.9v.9h-.9zM137.2,513.1h.9v.9h-.9zM136.7,526.1h.9v.9h-.9zM136.9,525.7h.9v.9h-.9zM137.6,512.7h.9v.9h-.9zM138.5,519.9h.9v.9h-.9zM131.8,510.3h.9v.9h-.9zM143.0,508.8h.9v.9h-.9zM143.3,521.9h.9v.9h-.9zM134.6,509.2h.9v.9h-.9zM130.0,520.5h.9v.9h-.9zM141.2,510.6h.9v.9h-.9zM136.1,509.9h.9v.9h-.9zM133.0,526.8h.9v.9h-.9zM137.0,513.3h.9v.9h-.9zM134.1,511.8h.9v.9h-.9zM138.8,515.8h.9v.9h-.9zM139.1,531.3h.9v.9h-.9zM138.1,534.8h.9v.9h-.9zM134.0,520.5h.9v.9h-.9zM134.5,510.8h.9v.9h-.9zM137.5,514.0h.9v.9h-.9zM139.0,537.4h.9v.9h-.9zM137.2,525.8h.9v.9h-.9zM137.0,524.2h.9v.9h-.9zM133.0,512.0h.9v.9h-.9zM137.2,508.6h.9v.9h-.9zM131.7,513.4h.9v.9h-.9zM135.1,517.4h.9v.9h-.9zM143.1,513.1h.9v.9h-.9zM144.1,492.2h.9v.9h-.9zM144.4,494.5h.9v.9h-.9zM145.1,498.3h.9v.9h-.9zM146.0,505.1h.9v.9h-.9zM139.5,476.5h.9v.9h-.9zM144.5,496.9h.9v.9h-.9zM142.7,504.0h.9v.9h-.9zM145.7,506.6h.9v.9h-.9zM142.8,497.0h.9v.9h-.9zM139.8,497.9h.9v.9h-.9zM140.8,493.8h.9v.9h-.9zM147.6,498.4h.9v.9h-.9zM140.0,499.6h.9v.9h-.9zM143.9,498.0h.9v.9h-.9zM141.0,507.5h.9v.9h-.9zM144.1,494.5h.9v.9h-.9zM137.5,476.4h.9v.9h-.9zM141.2,481.6h.9v.9h-.9zM131.0,480.8h.9v.9h-.9zM134.9,480.2h.9v.9h-.9z" fill="#111"/>
<rect x="120.00" y="474.50" width="28.90" height="78.00" fill="none" stroke="#d84a66" stroke-width="1.0" stroke-dasharray="2.6,2"/>
<line x1="120.00" y1="501.50" x2="148.90" y2="501.50" stroke="#e8a0b0" stroke-width="0.8"/>
<line x1="129.70" y1="501.50" x2="146.50" y2="501.50" stroke="#e01030" stroke-width="1.1"/>
<text x="98.30" y="526.20" font-size="5.2" fill="#dc3848">P6</text>
<text x="98.30" y="535.50" font-size="5.2" fill="#dc3848">9.5%</text>
<rect x="186.60" y="474.00" width="101.40" height="85.20" fill="#fff"/>
<line x1="186.60" y1="474.00" x2="288.00" y2="474.00" stroke="#c8c8ff" stroke-width="1.0"/>
<line x1="288.00" y1="474.00" x2="288.00" y2="559.20" stroke="#7070f0" stroke-width="1.0"/>
<line x1="186.60" y1="474.00" x2="186.60" y2="559.20" stroke="#b8b8ff" stroke-width="1.0"/>
<line x1="186.60" y1="559.20" x2="288.00" y2="559.20" stroke="#4a4af0" stroke-width="1.0"/>
<path d="M186.30,558.60h-3.4 M186.30,554.58h-2.8 M186.30,552.22h-2.8 M186.30,550.55h-2.8 M186.30,549.26h-2.8 M186.30,548.20h-2.8 M186.30,547.30h-2.8 M186.30,546.53h-2.8 M186.30,545.84h-2.8 M186.30,545.23h-3.4 M186.30,541.21h-2.8 M186.30,538.86h-2.8 M186.30,537.19h-2.8 M186.30,535.89h-2.8 M186.30,534.83h-2.8 M186.30,533.94h-2.8 M186.30,533.16h-2.8 M186.30,532.48h-2.8 M186.30,531.87h-3.4 M186.30,527.84h-2.8 M186.30,525.49h-2.8 M186.30,523.82h-2.8 M186.30,522.52h-2.8 M186.30,521.47h-2.8 M186.30,520.57h-2.8 M186.30,519.80h-2.8 M186.30,519.11h-2.8 M186.30,518.50h-3.4 M186.30,514.48h-2.8 M186.30,512.12h-2.8 M186.30,510.45h-2.8 M186.30,509.16h-2.8 M186.30,508.10h-2.8 M186.30,507.20h-2.8 M186.30,506.43h-2.8 M186.30,505.74h-2.8 M186.30,505.13h-3.4 M186.30,501.11h-2.8 M186.30,498.76h-2.8 M186.30,497.09h-2.8 M186.30,495.79h-2.8 M186.30,494.73h-2.8 M186.30,493.84h-2.8 M186.30,493.06h-2.8 M186.30,492.38h-2.8 M186.30,491.77h-3.4 M186.30,487.74h-2.8 M186.30,485.39h-2.8 M186.30,483.72h-2.8 M186.30,482.42h-2.8 M186.30,481.37h-2.8 M186.30,480.47h-2.8 M186.30,479.70h-2.8 M186.30,479.01h-2.8 M186.30,478.40h-3.4" fill="none" stroke="#2828e6" stroke-width="0.9"/>
<path d="M186.60,559.50v3.2 M191.69,559.50v2.8 M194.66,559.50v2.8 M196.77,559.50v2.8 M198.41,559.50v2.8 M199.75,559.50v2.8 M200.88,559.50v2.8 M201.86,559.50v2.8 M202.73,559.50v2.8 M203.50,559.50v3.2 M208.59,559.50v2.8 M211.56,559.50v2.8 M213.67,559.50v2.8 M215.31,559.50v2.8 M216.65,559.50v2.8 M217.78,559.50v2.8 M218.76,559.50v2.8 M219.63,559.50v2.8 M220.40,559.50v3.2 M225.49,559.50v2.8 M228.46,559.50v2.8 M230.57,559.50v2.8 M232.21,559.50v2.8 M233.55,559.50v2.8 M234.68,559.50v2.8 M235.66,559.50v2.8 M236.53,559.50v2.8 M237.30,559.50v3.2 M242.39,559.50v2.8 M245.36,559.50v2.8 M247.47,559.50v2.8 M249.11,559.50v2.8 M250.45,559.50v2.8 M251.58,559.50v2.8 M252.56,559.50v2.8 M253.43,559.50v2.8 M254.20,559.50v3.2 M259.29,559.50v2.8 M262.26,559.50v2.8 M264.37,559.50v2.8 M266.01,559.50v2.8 M267.35,559.50v2.8 M268.48,559.50v2.8 M269.46,559.50v2.8 M270.33,559.50v2.8 M271.10,559.50v3.2 M276.19,559.50v2.8 M279.16,559.50v2.8 M281.27,559.50v2.8 M282.91,559.50v2.8 M284.25,559.50v2.8 M285.38,559.50v2.8 M286.36,559.50v2.8 M287.23,559.50v2.8 M288.00,559.50v3.2" fill="none" stroke="#2828e6" stroke-width="0.9"/>
<text x="170.10" y="561.20" font-size="7.4" fill="#222">10<tspan font-size="4.59" dy="-3.11">1</tspan></text>
<text x="170.10" y="547.83" font-size="7.4" fill="#222">10<tspan font-size="4.59" dy="-3.11">2</tspan></text>
<text x="170.10" y="534.47" font-size="7.4" fill="#222">10<tspan font-size="4.59" dy="-3.11">3</tspan></text>
<text x="170.10" y="521.10" font-size="7.4" fill="#222">10<tspan font-size="4.59" dy="-3.11">4</tspan></text>
<text x="170.10" y="507.73" font-size="7.4" fill="#222">10<tspan font-size="4.59" dy="-3.11">5</tspan></text>
<text x="170.10" y="494.37" font-size="7.4" fill="#222">10<tspan font-size="4.59" dy="-3.11">6</tspan></text>
<text x="170.10" y="481.00" font-size="7.4" fill="#222">10<tspan font-size="4.59" dy="-3.11">7</tspan></text>
<text x="179.40" y="571.50" font-size="7.4" fill="#222">10<tspan font-size="4.59" dy="-3.11">1</tspan></text>
<text x="196.30" y="571.50" font-size="7.4" fill="#222">10<tspan font-size="4.59" dy="-3.11">2</tspan></text>
<text x="213.20" y="571.50" font-size="7.4" fill="#222">10<tspan font-size="4.59" dy="-3.11">3</tspan></text>
<text x="230.10" y="571.50" font-size="7.4" fill="#222">10<tspan font-size="4.59" dy="-3.11">4</tspan></text>
<text x="247.00" y="571.50" font-size="7.4" fill="#222">10<tspan font-size="4.59" dy="-3.11">5</tspan></text>
<text x="263.90" y="571.50" font-size="7.4" fill="#222">10<tspan font-size="4.59" dy="-3.11">6</tspan></text>
<text x="280.80" y="571.50" font-size="7.4" fill="#222">10<tspan font-size="4.59" dy="-3.11">7</tspan></text>
<text x="205.80" y="470.00" font-size="11.2">si-RBCK1</text>
<ellipse cx="274.60" cy="498.62" rx="6.98" ry="13.01" fill="#000"/>
<ellipse cx="274.30" cy="507.52" rx="5.04" ry="7.53" fill="#000"/>
<path d="M283.5,494.5h.9v.9h-.9zM276.1,500.4h.9v.9h-.9zM277.8,489.2h.9v.9h-.9zM273.0,493.9h.9v.9h-.9zM270.5,493.2h.9v.9h-.9zM272.7,497.2h.9v.9h-.9zM271.2,502.3h.9v.9h-.9zM272.5,476.2h.9v.9h-.9zM279.1,496.5h.9v.9h-.9zM271.8,501.2h.9v.9h-.9zM275.5,499.7h.9v.9h-.9zM271.4,500.7h.9v.9h-.9zM268.8,509.7h.9v.9h-.9zM269.8,497.8h.9v.9h-.9zM274.7,500.9h.9v.9h-.9zM273.7,502.8h.9v.9h-.9zM260.8,497.6h.9v.9h-.9zM273.5,495.2h.9v.9h-.9zM279.9,491.3h.9v.9h-.9zM273.8,483.7h.9v.9h-.9zM275.1,486.6h.9v.9h-.9zM268.1,515.4h.9v.9h-.9zM276.8,498.3h.9v.9h-.9zM274.8,487.9h.9v.9h-.9zM270.1,501.4h.9v.9h-.9zM266.0,500.3h.9v.9h-.9zM267.4,499.2h.9v.9h-.9zM269.8,511.2h.9v.9h-.9zM278.0,494.6h.9v.9h-.9zM266.8,492.6h.9v.9h-.9zM273.9,491.1h.9v.9h-.9zM275.2,505.6h.9v.9h-.9zM273.9,495.2h.9v.9h-.9zM277.1,496.2h.9v.9h-.9zM277.4,496.0h.9v.9h-.9zM280.3,496.3h.9v.9h-.9zM270.0,499.1h.9v.9h-.9zM271.7,491.5h.9v.9h-.9zM273.6,503.9h.9v.9h-.9zM265.8,498.0h.9v.9h-.9zM273.5,497.3h.9v.9h-.9zM277.2,488.8h.9v.9h-.9zM276.7,496.7h.9v.9h-.9zM274.6,496.8h.9v.9h-.9zM272.9,494.6h.9v.9h-.9zM275.7,513.9h.9v.9h-.9zM278.2,504.7h.9v.9h-.9zM276.3,495.0h.9v.9h-.9zM276.5,513.7h.9v.9h-.9zM269.3,504.6h.9v.9h-.9zM278.1,500.7h.9v.9h-.9zM277.3,508.8h.9v.9h-.9zM282.8,508.2h.9v.9h-.9zM280.6,501.1h.9v.9h-.9zM277.5,500.0h.9v.9h-.9zM275.5,495.4h.9v.9h-.9zM277.0,509.4h.9v.9h-.9zM273.8,500.7h.9v.9h-.9zM276.8,499.0h.9v.9h-.9zM278.0,500.8h.9v.9h-.9zM269.9,491.4h.9v.9h-.9zM277.2,503.6h.9v.9h-.9zM278.7,500.8h.9v.9h-.9zM275.2,487.5h.9v.9h-.9zM279.8,492.3h.9v.9h-.9zM278.4,490.7h.9v.9h-.9zM271.9,500.2h.9v.9h-.9zM272.8,494.0h.9v.9h-.9zM277.9,504.0h.9v.9h-.9zM276.0,496.6h.9v.9h-.9zM271.3,495.6h.9v.9h-.9zM272.5,498.9h.9v.9h-.9zM277.4,497.9h.9v.9h-.9zM271.5,494.6h.9v.9h-.9zM279.4,500.3h.9v.9h-.9zM275.4,501.2h.9v.9h-.9zM276.8,500.2h.9v.9h-.9zM279.0,505.1h.9v.9h-.9zM263.8,498.2h.9v.9h-.9zM285.8,489.9h.9v.9h-.9zM275.1,507.1h.9v.9h-.9zM274.6,508.9h.9v.9h-.9zM269.8,490.2h.9v.9h-.9zM273.9,493.9h.9v.9h-.9zM270.5,503.4h.9v.9h-.9zM275.6,499.4h.9v.9h-.9zM273.1,501.2h.9v.9h-.9zM274.1,494.0h.9v.9h-.9zM276.5,502.0h.9v.9h-.9zM274.9,504.3h.9v.9h-.9zM270.4,498.3h.9v.9h-.9zM272.6,508.9h.9v.9h-.9zM276.5,514.6h.9v.9h-.9zM280.6,496.6h.9v.9h-.9zM270.5,502.8h.9v.9h-.9zM273.5,498.2h.9v.9h-.9zM270.6,503.6h.9v.9h-.9zM275.3,502.2h.9v.9h-.9zM275.8,492.8h.9v.9h-.9zM266.1,497.3h.9v.9h-.9zM272.2,495.5h.9v.9h-.9zM278.2,498.6h.9v.9h-.9zM280.3,500.6h.9v.9h-.9zM277.2,503.0h.9v.9h-.9zM277.7,490.2h.9v.9h-.9zM278.7,500.1h.9v.9h-.9zM270.9,503.7h.9v.9h-.9zM275.9,508.6h.9v.9h-.9zM277.4,501.9h.9v.9h-.9zM268.4,511.4h.9v.9h-.9zM280.2,504.9h.9v.9h-.9zM276.3,508.1h.9v.9h-.9zM271.3,504.4h.9v.9h-.9zM274.7,492.1h.9v.9h-.9zM276.0,501.8h.9v.9h-.9zM281.1,506.1h.9v.9h-.9zM274.3,497.8h.9v.9h-.9zM271.1,488.8h.9v.9h-.9zM273.9,491.0h.9v.9h-.9zM272.0,505.5h.9v.9h-.9zM275.5,493.9h.9v.9h-.9zM270.3,497.9h.9v.9h-.9zM281.2,495.6h.9v.9h-.9zM281.2,493.6h.9v.9h-.9zM273.8,504.3h.9v.9h-.9zM271.7,499.7h.9v.9h-.9zM269.5,504.1h.9v.9h-.9zM279.0,494.6h.9v.9h-.9zM275.3,496.4h.9v.9h-.9zM266.4,519.1h.9v.9h-.9zM277.0,505.3h.9v.9h-.9zM276.1,500.5h.9v.9h-.9zM273.4,496.3h.9v.9h-.9zM273.8,504.3h.9v.9h-.9zM271.9,489.7h.9v.9h-.9zM270.3,502.6h.9v.9h-.9zM278.2,505.1h.9v.9h-.9zM280.7,495.6h.9v.9h-.9zM278.4,504.2h.9v.9h-.9zM274.0,493.9h.9v.9h-.9zM277.9,494.4h.9v.9h-.9zM273.5,492.3h.9v.9h-.9zM281.2,498.9h.9v.9h-.9zM272.7,497.5h.9v.9h-.9zM273.7,499.9h.9v.9h-.9zM268.1,490.9h.9v.9h-.9zM276.5,507.1h.9v.9h-.9zM270.8,500.1h.9v.9h-.9zM272.4,482.9h.9v.9h-.9zM273.4,491.5h.9v.9h-.9zM277.9,497.8h.9v.9h-.9zM274.4,488.7h.9v.9h-.9zM275.1,485.2h.9v.9h-.9zM275.4,509.2h.9v.9h-.9zM270.0,505.4h.9v.9h-.9zM279.9,497.8h.9v.9h-.9zM278.8,499.9h.9v.9h-.9zM272.7,484.8h.9v.9h-.9zM270.5,488.6h.9v.9h-.9zM283.6,501.2h.9v.9h-.9zM273.9,489.5h.9v.9h-.9zM281.1,490.9h.9v.9h-.9zM280.2,507.1h.9v.9h-.9zM274.9,494.5h.9v.9h-.9zM274.4,489.7h.9v.9h-.9zM277.1,511.5h.9v.9h-.9zM278.0,506.9h.9v.9h-.9zM271.9,501.5h.9v.9h-.9zM270.7,496.0h.9v.9h-.9zM277.4,517.4h.9v.9h-.9zM274.9,499.5h.9v.9h-.9zM267.4,500.6h.9v.9h-.9zM271.1,489.2h.9v.9h-.9zM268.9,500.3h.9v.9h-.9zM273.1,504.2h.9v.9h-.9zM273.7,499.3h.9v.9h-.9zM280.2,505.1h.9v.9h-.9zM277.5,510.0h.9v.9h-.9zM275.4,492.1h.9v.9h-.9zM271.6,488.0h.9v.9h-.9zM275.9,496.4h.9v.9h-.9zM276.5,505.3h.9v.9h-.9zM271.5,500.6h.9v.9h-.9zM279.4,499.9h.9v.9h-.9zM278.1,497.9h.9v.9h-.9zM271.0,497.6h.9v.9h-.9zM267.4,504.4h.9v.9h-.9zM272.6,509.0h.9v.9h-.9zM269.9,500.2h.9v.9h-.9zM275.9,497.8h.9v.9h-.9zM276.1,493.8h.9v.9h-.9zM270.5,489.1h.9v.9h-.9zM272.4,493.4h.9v.9h-.9zM275.5,496.6h.9v.9h-.9zM272.1,494.0h.9v.9h-.9zM267.3,496.6h.9v.9h-.9zM276.2,489.6h.9v.9h-.9zM273.6,504.2h.9v.9h-.9zM271.9,500.7h.9v.9h-.9zM273.0,517.2h.9v.9h-.9zM279.9,507.9h.9v.9h-.9zM272.0,504.0h.9v.9h-.9zM274.0,501.9h.9v.9h-.9zM272.4,500.5h.9v.9h-.9zM271.7,501.4h.9v.9h-.9zM281.3,489.3h.9v.9h-.9zM269.5,503.0h.9v.9h-.9zM277.6,496.6h.9v.9h-.9zM276.9,502.4h.9v.9h-.9zM276.7,509.4h.9v.9h-.9zM272.1,504.1h.9v.9h-.9zM275.4,494.3h.9v.9h-.9zM276.5,489.8h.9v.9h-.9zM268.9,507.2h.9v.9h-.9zM270.3,511.7h.9v.9h-.9zM278.6,495.5h.9v.9h-.9zM271.2,483.0h.9v.9h-.9zM274.3,487.3h.9v.9h-.9zM274.8,479.3h.9v.9h-.9zM273.2,509.0h.9v.9h-.9zM272.9,493.2h.9v.9h-.9zM272.7,502.0h.9v.9h-.9zM278.0,497.5h.9v.9h-.9zM266.7,501.5h.9v.9h-.9zM278.3,516.2h.9v.9h-.9zM275.2,500.5h.9v.9h-.9zM272.5,504.8h.9v.9h-.9zM281.4,491.9h.9v.9h-.9zM274.9,491.6h.9v.9h-.9zM271.9,497.9h.9v.9h-.9zM276.5,493.1h.9v.9h-.9zM273.4,509.3h.9v.9h-.9zM276.5,504.4h.9v.9h-.9zM276.1,497.9h.9v.9h-.9zM276.2,503.1h.9v.9h-.9zM274.6,506.8h.9v.9h-.9zM274.6,505.9h.9v.9h-.9zM274.7,504.6h.9v.9h-.9zM272.0,495.1h.9v.9h-.9zM270.1,508.1h.9v.9h-.9zM276.6,500.8h.9v.9h-.9zM277.0,493.1h.9v.9h-.9zM275.0,495.5h.9v.9h-.9zM267.4,497.3h.9v.9h-.9zM271.2,509.8h.9v.9h-.9zM271.7,494.7h.9v.9h-.9zM278.4,499.2h.9v.9h-.9zM269.4,500.9h.9v.9h-.9zM271.7,511.9h.9v.9h-.9zM270.5,493.8h.9v.9h-.9zM263.9,494.3h.9v.9h-.9zM281.8,498.3h.9v.9h-.9zM270.9,501.4h.9v.9h-.9zM273.4,499.0h.9v.9h-.9zM284.2,514.1h.9v.9h-.9zM280.8,511.5h.9v.9h-.9zM271.0,484.8h.9v.9h-.9zM277.5,502.2h.9v.9h-.9zM274.7,498.4h.9v.9h-.9zM277.4,503.4h.9v.9h-.9zM275.6,502.9h.9v.9h-.9zM273.8,496.5h.9v.9h-.9zM280.0,497.4h.9v.9h-.9zM282.3,504.0h.9v.9h-.9zM274.8,507.6h.9v.9h-.9zM272.7,497.9h.9v.9h-.9zM273.3,499.3h.9v.9h-.9zM277.2,514.6h.9v.9h-.9zM276.6,491.4h.9v.9h-.9zM271.4,485.9h.9v.9h-.9zM277.4,505.8h.9v.9h-.9zM275.9,501.9h.9v.9h-.9zM276.6,502.4h.9v.9h-.9zM277.1,500.9h.9v.9h-.9zM270.8,506.2h.9v.9h-.9zM273.7,490.9h.9v.9h-.9zM276.6,497.2h.9v.9h-.9zM280.1,507.5h.9v.9h-.9zM272.8,495.7h.9v.9h-.9zM272.3,503.5h.9v.9h-.9zM271.0,502.5h.9v.9h-.9zM269.2,507.0h.9v.9h-.9zM276.4,490.7h.9v.9h-.9zM271.5,500.3h.9v.9h-.9zM275.7,478.2h.9v.9h-.9zM275.4,510.4h.9v.9h-.9zM272.9,489.3h.9v.9h-.9zM279.3,501.0h.9v.9h-.9zM275.3,503.8h.9v.9h-.9zM269.8,494.3h.9v.9h-.9zM270.2,490.9h.9v.9h-.9zM273.3,491.5h.9v.9h-.9zM280.8,503.0h.9v.9h-.9zM277.8,487.0h.9v.9h-.9zM273.7,498.1h.9v.9h-.9zM275.2,502.6h.9v.9h-.9zM271.5,492.5h.9v.9h-.9zM278.3,515.9h.9v.9h-.9zM282.6,497.2h.9v.9h-.9zM271.5,500.6h.9v.9h-.9zM276.4,512.3h.9v.9h-.9zM273.7,493.8h.9v.9h-.9zM278.6,493.9h.9v.9h-.9zM271.2,503.2h.9v.9h-.9zM273.8,491.5h.9v.9h-.9zM273.6,496.2h.9v.9h-.9zM273.7,493.8h.9v.9h-.9zM276.8,496.6h.9v.9h-.9zM272.2,507.1h.9v.9h-.9zM271.0,504.8h.9v.9h-.9zM276.9,497.1h.9v.9h-.9zM275.4,488.3h.9v.9h-.9zM275.5,491.6h.9v.9h-.9zM271.3,501.2h.9v.9h-.9zM271.7,500.2h.9v.9h-.9zM276.2,506.9h.9v.9h-.9zM276.1,506.9h.9v.9h-.9zM271.7,496.5h.9v.9h-.9zM277.1,507.9h.9v.9h-.9zM276.3,495.4h.9v.9h-.9zM270.4,492.3h.9v.9h-.9zM278.9,492.1h.9v.9h-.9zM273.7,503.9h.9v.9h-.9zM276.3,494.1h.9v.9h-.9zM282.2,500.5h.9v.9h-.9zM275.7,505.2h.9v.9h-.9zM273.4,504.3h.9v.9h-.9zM274.0,492.8h.9v.9h-.9zM270.9,502.0h.9v.9h-.9zM275.0,498.1h.9v.9h-.9zM272.8,497.5h.9v.9h-.9zM277.6,507.3h.9v.9h-.9zM273.6,501.2h.9v.9h-.9zM267.5,490.9h.9v.9h-.9zM271.9,492.6h.9v.9h-.9zM277.2,484.1h.9v.9h-.9zM276.5,504.2h.9v.9h-.9zM283.0,495.7h.9v.9h-.9zM276.3,510.1h.9v.9h-.9zM278.2,492.4h.9v.9h-.9zM273.2,490.9h.9v.9h-.9zM274.9,504.3h.9v.9h-.9zM279.8,503.3h.9v.9h-.9zM278.0,507.0h.9v.9h-.9zM271.5,504.2h.9v.9h-.9zM278.3,498.0h.9v.9h-.9zM270.9,500.4h.9v.9h-.9zM275.2,504.3h.9v.9h-.9zM267.8,496.6h.9v.9h-.9zM282.3,508.7h.9v.9h-.9zM274.0,497.2h.9v.9h-.9zM273.6,492.3h.9v.9h-.9zM272.9,499.0h.9v.9h-.9zM270.0,498.7h.9v.9h-.9zM275.6,490.0h.9v.9h-.9zM272.9,488.0h.9v.9h-.9zM274.8,500.9h.9v.9h-.9zM272.6,499.8h.9v.9h-.9zM276.7,504.2h.9v.9h-.9zM269.5,497.0h.9v.9h-.9zM278.5,504.8h.9v.9h-.9zM279.4,504.9h.9v.9h-.9zM272.7,500.8h.9v.9h-.9zM272.5,509.1h.9v.9h-.9zM265.6,502.2h.9v.9h-.9zM272.5,504.5h.9v.9h-.9zM279.2,494.7h.9v.9h-.9zM279.8,507.2h.9v.9h-.9zM268.6,512.5h.9v.9h-.9zM270.1,489.5h.9v.9h-.9zM278.2,494.1h.9v.9h-.9zM275.4,499.0h.9v.9h-.9zM270.7,510.9h.9v.9h-.9zM280.3,499.9h.9v.9h-.9zM280.6,499.2h.9v.9h-.9zM275.6,497.1h.9v.9h-.9zM269.6,496.8h.9v.9h-.9zM271.0,502.3h.9v.9h-.9zM275.2,495.1h.9v.9h-.9zM279.5,502.0h.9v.9h-.9zM281.5,496.5h.9v.9h-.9zM273.1,494.0h.9v.9h-.9zM275.5,498.1h.9v.9h-.9zM274.7,512.0h.9v.9h-.9zM277.6,494.8h.9v.9h-.9zM276.1,497.4h.9v.9h-.9zM273.4,497.8h.9v.9h-.9zM274.9,504.0h.9v.9h-.9zM278.5,499.6h.9v.9h-.9zM271.5,499.3h.9v.9h-.9zM273.9,497.4h.9v.9h-.9zM270.0,498.3h.9v.9h-.9zM267.7,508.4h.9v.9h-.9zM277.4,504.7h.9v.9h-.9zM271.1,501.0h.9v.9h-.9zM279.5,497.8h.9v.9h-.9zM270.5,498.5h.9v.9h-.9zM266.0,506.1h.9v.9h-.9zM276.3,489.4h.9v.9h-.9zM277.3,507.6h.9v.9h-.9zM277.0,504.1h.9v.9h-.9zM280.5,500.9h.9v.9h-.9zM279.9,497.8h.9v.9h-.9zM272.0,497.0h.9v.9h-.9zM270.6,502.2h.9v.9h-.9zM271.9,502.0h.9v.9h-.9zM275.8,511.1h.9v.9h-.9zM281.3,495.4h.9v.9h-.9zM273.9,498.1h.9v.9h-.9zM272.3,512.4h.9v.9h-.9zM279.3,497.8h.9v.9h-.9zM269.4,494.7h.9v.9h-.9zM274.7,510.7h.9v.9h-.9zM269.7,509.8h.9v.9h-.9zM269.2,501.8h.9v.9h-.9zM270.2,496.2h.9v.9h-.9zM265.5,503.6h.9v.9h-.9zM274.7,491.8h.9v.9h-.9zM266.5,498.8h.9v.9h-.9zM274.5,488.8h.9v.9h-.9zM276.4,498.4h.9v.9h-.9zM270.3,493.5h.9v.9h-.9zM265.3,504.5h.9v.9h-.9zM278.3,497.8h.9v.9h-.9zM269.8,491.1h.9v.9h-.9zM273.4,492.8h.9v.9h-.9zM275.6,492.9h.9v.9h-.9zM278.0,507.8h.9v.9h-.9zM272.3,493.3h.9v.9h-.9zM263.3,499.5h.9v.9h-.9zM276.0,492.4h.9v.9h-.9zM278.8,494.4h.9v.9h-.9zM270.1,505.2h.9v.9h-.9zM276.3,484.3h.9v.9h-.9zM271.9,489.9h.9v.9h-.9zM273.7,500.5h.9v.9h-.9zM272.8,500.3h.9v.9h-.9zM278.0,496.9h.9v.9h-.9zM269.7,492.1h.9v.9h-.9zM277.7,511.6h.9v.9h-.9zM273.9,501.9h.9v.9h-.9zM271.5,495.0h.9v.9h-.9zM278.2,495.5h.9v.9h-.9zM275.2,500.1h.9v.9h-.9zM278.9,500.9h.9v.9h-.9zM274.3,497.0h.9v.9h-.9zM272.5,506.5h.9v.9h-.9zM282.7,487.8h.9v.9h-.9zM278.4,492.0h.9v.9h-.9zM272.2,497.0h.9v.9h-.9zM272.9,496.5h.9v.9h-.9zM272.3,512.1h.9v.9h-.9zM269.1,494.5h.9v.9h-.9zM271.6,500.6h.9v.9h-.9zM269.7,499.1h.9v.9h-.9zM275.0,513.2h.9v.9h-.9zM277.0,498.8h.9v.9h-.9zM274.9,512.5h.9v.9h-.9zM274.1,494.2h.9v.9h-.9zM272.2,496.6h.9v.9h-.9zM277.9,492.0h.9v.9h-.9zM272.4,499.0h.9v.9h-.9zM271.0,503.9h.9v.9h-.9zM273.1,502.8h.9v.9h-.9zM276.5,509.9h.9v.9h-.9zM281.1,493.0h.9v.9h-.9zM269.6,490.9h.9v.9h-.9zM276.3,503.0h.9v.9h-.9zM274.5,498.9h.9v.9h-.9zM280.3,505.6h.9v.9h-.9zM275.4,503.7h.9v.9h-.9zM268.9,507.7h.9v.9h-.9zM282.3,500.3h.9v.9h-.9zM272.9,508.1h.9v.9h-.9zM272.7,499.9h.9v.9h-.9zM276.9,498.1h.9v.9h-.9zM277.2,485.4h.9v.9h-.9zM265.4,504.5h.9v.9h-.9zM276.6,500.9h.9v.9h-.9zM273.1,499.6h.9v.9h-.9zM276.2,491.1h.9v.9h-.9zM275.5,493.7h.9v.9h-.9zM282.5,501.9h.9v.9h-.9zM275.6,506.5h.9v.9h-.9zM278.1,506.1h.9v.9h-.9zM272.1,500.4h.9v.9h-.9zM277.9,500.9h.9v.9h-.9zM275.1,495.2h.9v.9h-.9zM275.3,509.2h.9v.9h-.9zM270.1,489.5h.9v.9h-.9zM270.1,488.2h.9v.9h-.9zM279.4,512.8h.9v.9h-.9zM276.5,500.0h.9v.9h-.9zM279.8,506.8h.9v.9h-.9zM266.1,498.8h.9v.9h-.9zM283.8,496.5h.9v.9h-.9zM271.9,494.9h.9v.9h-.9zM280.5,496.2h.9v.9h-.9zM276.2,507.9h.9v.9h-.9zM275.3,499.5h.9v.9h-.9zM270.7,490.5h.9v.9h-.9zM278.7,490.1h.9v.9h-.9zM278.6,508.2h.9v.9h-.9zM280.3,498.0h.9v.9h-.9zM271.5,500.0h.9v.9h-.9zM279.5,503.2h.9v.9h-.9zM276.4,498.5h.9v.9h-.9zM278.1,485.4h.9v.9h-.9zM270.2,510.5h.9v.9h-.9zM276.4,504.4h.9v.9h-.9zM267.5,493.3h.9v.9h-.9zM273.0,498.6h.9v.9h-.9zM279.1,495.3h.9v.9h-.9zM275.1,494.2h.9v.9h-.9zM273.8,502.0h.9v.9h-.9zM276.2,506.4h.9v.9h-.9zM269.9,504.9h.9v.9h-.9zM276.3,493.7h.9v.9h-.9zM279.5,494.6h.9v.9h-.9zM273.2,503.1h.9v.9h-.9zM279.9,496.4h.9v.9h-.9zM280.1,502.2h.9v.9h-.9zM271.7,504.5h.9v.9h-.9zM274.9,494.2h.9v.9h-.9zM274.1,508.2h.9v.9h-.9zM275.9,497.6h.9v.9h-.9zM277.6,489.4h.9v.9h-.9zM277.1,508.8h.9v.9h-.9zM270.3,491.5h.9v.9h-.9zM271.4,497.9h.9v.9h-.9zM271.8,499.2h.9v.9h-.9zM270.9,501.3h.9v.9h-.9zM276.8,502.6h.9v.9h-.9zM272.5,505.3h.9v.9h-.9zM268.8,494.7h.9v.9h-.9zM274.3,508.5h.9v.9h-.9zM273.2,503.7h.9v.9h-.9zM280.7,513.4h.9v.9h-.9zM281.1,493.7h.9v.9h-.9zM275.6,502.9h.9v.9h-.9zM277.1,503.0h.9v.9h-.9zM274.2,499.7h.9v.9h-.9zM269.5,504.5h.9v.9h-.9zM275.8,495.3h.9v.9h-.9zM281.3,499.4h.9v.9h-.9zM272.2,503.6h.9v.9h-.9zM276.3,504.0h.9v.9h-.9zM274.3,504.8h.9v.9h-.9zM275.1,508.0h.9v.9h-.9zM275.9,493.6h.9v.9h-.9zM270.8,503.5h.9v.9h-.9zM278.1,489.0h.9v.9h-.9zM276.9,498.9h.9v.9h-.9zM275.7,493.6h.9v.9h-.9zM270.5,495.2h.9v.9h-.9zM271.6,496.4h.9v.9h-.9zM275.0,499.7h.9v.9h-.9zM281.7,492.7h.9v.9h-.9zM273.0,500.1h.9v.9h-.9zM277.0,492.1h.9v.9h-.9zM269.3,501.2h.9v.9h-.9zM276.1,503.5h.9v.9h-.9zM277.0,488.5h.9v.9h-.9zM278.6,498.5h.9v.9h-.9zM282.4,496.6h.9v.9h-.9zM266.6,498.6h.9v.9h-.9zM275.4,501.6h.9v.9h-.9zM275.4,495.6h.9v.9h-.9zM268.4,498.2h.9v.9h-.9zM273.5,494.7h.9v.9h-.9zM274.9,497.2h.9v.9h-.9zM267.1,493.5h.9v.9h-.9zM271.5,497.5h.9v.9h-.9zM280.7,499.1h.9v.9h-.9zM276.7,484.5h.9v.9h-.9zM279.1,495.6h.9v.9h-.9zM276.6,491.7h.9v.9h-.9zM274.5,505.1h.9v.9h-.9zM274.5,500.9h.9v.9h-.9zM271.8,494.3h.9v.9h-.9zM275.6,498.1h.9v.9h-.9zM275.1,494.7h.9v.9h-.9zM273.2,504.7h.9v.9h-.9zM279.9,496.5h.9v.9h-.9zM272.2,500.2h.9v.9h-.9zM278.1,501.3h.9v.9h-.9zM278.7,498.0h.9v.9h-.9zM271.1,486.0h.9v.9h-.9zM277.8,501.2h.9v.9h-.9zM272.2,501.8h.9v.9h-.9zM270.3,506.6h.9v.9h-.9zM278.5,507.6h.9v.9h-.9zM273.0,509.4h.9v.9h-.9zM277.7,510.6h.9v.9h-.9zM268.3,505.9h.9v.9h-.9zM274.0,534.5h.9v.9h-.9zM274.3,514.3h.9v.9h-.9zM271.4,534.9h.9v.9h-.9zM270.7,516.8h.9v.9h-.9zM278.4,533.3h.9v.9h-.9zM272.4,520.0h.9v.9h-.9zM276.4,510.4h.9v.9h-.9zM274.7,524.4h.9v.9h-.9zM275.4,529.3h.9v.9h-.9zM269.2,510.0h.9v.9h-.9zM274.6,510.0h.9v.9h-.9zM275.2,519.9h.9v.9h-.9zM275.8,532.8h.9v.9h-.9zM273.8,522.4h.9v.9h-.9zM272.9,522.7h.9v.9h-.9zM272.3,511.9h.9v.9h-.9zM278.8,530.9h.9v.9h-.9zM272.0,518.7h.9v.9h-.9zM274.3,510.1h.9v.9h-.9zM276.5,512.0h.9v.9h-.9zM272.6,511.6h.9v.9h-.9zM271.2,511.1h.9v.9h-.9zM282.7,531.6h.9v.9h-.9zM274.6,519.8h.9v.9h-.9zM273.7,521.8h.9v.9h-.9zM279.4,530.5h.9v.9h-.9zM277.7,511.5h.9v.9h-.9zM278.0,512.1h.9v.9h-.9zM272.9,510.5h.9v.9h-.9zM274.7,511.6h.9v.9h-.9zM278.9,512.7h.9v.9h-.9zM277.3,519.3h.9v.9h-.9zM273.3,522.1h.9v.9h-.9zM280.1,534.2h.9v.9h-.9zM277.4,536.0h.9v.9h-.9zM275.2,510.3h.9v.9h-.9zM272.5,516.8h.9v.9h-.9zM271.5,514.0h.9v.9h-.9zM266.6,534.3h.9v.9h-.9zM268.1,515.6h.9v.9h-.9zM277.6,521.8h.9v.9h-.9zM276.7,521.9h.9v.9h-.9zM273.6,511.9h.9v.9h-.9zM273.6,516.5h.9v.9h-.9zM272.9,520.6h.9v.9h-.9zM274.8,511.3h.9v.9h-.9zM272.9,514.4h.9v.9h-.9zM272.3,511.4h.9v.9h-.9zM274.1,513.7h.9v.9h-.9zM276.1,520.0h.9v.9h-.9zM274.5,516.7h.9v.9h-.9zM274.8,532.1h.9v.9h-.9zM276.2,510.1h.9v.9h-.9zM276.3,527.0h.9v.9h-.9zM274.7,533.1h.9v.9h-.9zM272.5,529.0h.9v.9h-.9zM275.6,510.1h.9v.9h-.9zM275.5,519.3h.9v.9h-.9zM269.7,520.2h.9v.9h-.9zM269.3,525.6h.9v.9h-.9zM277.7,525.3h.9v.9h-.9zM280.9,532.3h.9v.9h-.9zM279.0,528.5h.9v.9h-.9zM276.8,518.0h.9v.9h-.9zM274.1,518.5h.9v.9h-.9zM279.9,527.7h.9v.9h-.9zM273.0,526.2h.9v.9h-.9zM278.6,510.3h.9v.9h-.9zM274.9,523.0h.9v.9h-.9zM274.7,510.4h.9v.9h-.9zM277.9,522.1h.9v.9h-.9zM274.3,521.8h.9v.9h-.9zM278.7,519.9h.9v.9h-.9zM267.6,528.1h.9v.9h-.9zM279.7,513.6h.9v.9h-.9zM277.1,512.6h.9v.9h-.9zM275.8,525.8h.9v.9h-.9zM273.4,511.4h.9v.9h-.9zM277.6,515.5h.9v.9h-.9zM269.1,535.7h.9v.9h-.9zM270.7,512.5h.9v.9h-.9zM270.7,514.5h.9v.9h-.9zM275.5,520.0h.9v.9h-.9zM280.0,516.0h.9v.9h-.9zM273.2,517.1h.9v.9h-.9zM272.3,527.9h.9v.9h-.9zM270.6,516.4h.9v.9h-.9zM276.6,522.5h.9v.9h-.9zM278.5,524.0h.9v.9h-.9zM271.1,515.2h.9v.9h-.9zM275.3,521.8h.9v.9h-.9zM273.8,522.3h.9v.9h-.9zM273.4,518.2h.9v.9h-.9zM275.4,512.8h.9v.9h-.9zM281.3,525.5h.9v.9h-.9zM268.6,525.7h.9v.9h-.9zM275.5,530.7h.9v.9h-.9zM273.0,523.3h.9v.9h-.9zM274.6,530.2h.9v.9h-.9zM272.2,523.7h.9v.9h-.9zM270.6,514.8h.9v.9h-.9zM276.6,522.9h.9v.9h-.9zM274.0,510.7h.9v.9h-.9zM273.9,511.5h.9v.9h-.9zM276.7,528.4h.9v.9h-.9zM273.4,526.0h.9v.9h-.9zM272.2,511.2h.9v.9h-.9zM274.6,510.3h.9v.9h-.9zM269.5,515.8h.9v.9h-.9zM273.0,510.4h.9v.9h-.9zM276.4,512.8h.9v.9h-.9zM274.6,512.4h.9v.9h-.9zM276.6,528.2h.9v.9h-.9zM273.9,517.0h.9v.9h-.9zM267.4,518.1h.9v.9h-.9zM275.1,533.7h.9v.9h-.9zM271.9,510.1h.9v.9h-.9zM276.6,522.0h.9v.9h-.9zM275.2,518.3h.9v.9h-.9zM273.5,516.5h.9v.9h-.9zM275.5,528.6h.9v.9h-.9zM276.2,520.9h.9v.9h-.9zM273.3,510.8h.9v.9h-.9zM274.2,511.3h.9v.9h-.9zM275.4,513.6h.9v.9h-.9zM270.7,520.6h.9v.9h-.9zM268.2,521.2h.9v.9h-.9zM279.4,520.2h.9v.9h-.9zM276.6,521.3h.9v.9h-.9zM275.5,519.9h.9v.9h-.9zM274.3,534.0h.9v.9h-.9zM273.6,527.7h.9v.9h-.9zM273.2,511.6h.9v.9h-.9zM273.6,510.2h.9v.9h-.9zM270.4,526.3h.9v.9h-.9zM275.0,523.9h.9v.9h-.9zM272.4,520.2h.9v.9h-.9zM275.9,518.3h.9v.9h-.9zM274.2,512.1h.9v.9h-.9zM279.5,513.8h.9v.9h-.9zM273.1,524.4h.9v.9h-.9zM271.5,526.8h.9v.9h-.9zM279.8,513.5h.9v.9h-.9zM274.7,525.5h.9v.9h-.9zM277.3,525.1h.9v.9h-.9zM273.2,515.6h.9v.9h-.9zM276.2,520.8h.9v.9h-.9zM272.8,525.8h.9v.9h-.9zM274.6,534.0h.9v.9h-.9zM275.1,511.0h.9v.9h-.9zM276.1,521.8h.9v.9h-.9zM280.8,510.4h.9v.9h-.9zM270.2,531.3h.9v.9h-.9zM279.4,513.7h.9v.9h-.9zM273.6,510.5h.9v.9h-.9zM272.1,533.3h.9v.9h-.9zM274.5,528.3h.9v.9h-.9zM277.9,518.9h.9v.9h-.9zM274.3,526.4h.9v.9h-.9zM278.2,518.0h.9v.9h-.9zM271.7,520.0h.9v.9h-.9zM273.6,514.7h.9v.9h-.9zM277.9,514.9h.9v.9h-.9zM274.5,510.5h.9v.9h-.9zM275.0,514.9h.9v.9h-.9zM270.7,510.3h.9v.9h-.9zM269.5,515.3h.9v.9h-.9zM276.1,512.4h.9v.9h-.9zM274.9,532.2h.9v.9h-.9zM274.1,517.4h.9v.9h-.9zM270.6,518.4h.9v.9h-.9zM270.6,511.5h.9v.9h-.9zM280.5,528.5h.9v.9h-.9zM274.9,512.3h.9v.9h-.9zM277.3,510.0h.9v.9h-.9zM267.3,522.2h.9v.9h-.9zM272.7,526.6h.9v.9h-.9zM275.9,522.5h.9v.9h-.9zM274.2,527.7h.9v.9h-.9zM277.2,512.5h.9v.9h-.9zM274.8,512.4h.9v.9h-.9zM274.4,510.0h.9v.9h-.9zM275.3,511.2h.9v.9h-.9zM270.7,525.8h.9v.9h-.9zM277.6,523.5h.9v.9h-.9zM272.4,510.0h.9v.9h-.9zM273.5,510.4h.9v.9h-.9zM275.3,513.2h.9v.9h-.9zM281.5,512.5h.9v.9h-.9zM273.8,522.7h.9v.9h-.9zM273.7,515.5h.9v.9h-.9zM275.2,516.2h.9v.9h-.9zM269.9,510.8h.9v.9h-.9zM273.6,515.0h.9v.9h-.9zM277.2,523.9h.9v.9h-.9zM269.0,515.6h.9v.9h-.9zM277.0,511.9h.9v.9h-.9zM272.6,512.5h.9v.9h-.9zM280.2,523.1h.9v.9h-.9zM268.7,514.5h.9v.9h-.9zM274.6,512.4h.9v.9h-.9zM276.8,511.7h.9v.9h-.9zM273.9,532.4h.9v.9h-.9zM274.0,510.4h.9v.9h-.9zM277.0,511.2h.9v.9h-.9zM274.0,527.6h.9v.9h-.9zM276.7,511.8h.9v.9h-.9zM280.5,510.2h.9v.9h-.9zM272.1,517.5h.9v.9h-.9zM274.1,525.7h.9v.9h-.9zM274.9,529.6h.9v.9h-.9zM277.0,517.1h.9v.9h-.9zM271.3,516.9h.9v.9h-.9zM271.2,513.7h.9v.9h-.9zM273.8,533.3h.9v.9h-.9zM274.8,515.5h.9v.9h-.9zM277.0,518.3h.9v.9h-.9zM280.0,520.3h.9v.9h-.9zM274.3,518.0h.9v.9h-.9zM276.0,512.6h.9v.9h-.9zM272.8,521.7h.9v.9h-.9zM271.0,510.1h.9v.9h-.9zM273.0,526.5h.9v.9h-.9zM270.6,518.1h.9v.9h-.9zM278.7,529.6h.9v.9h-.9zM273.7,515.7h.9v.9h-.9zM276.0,518.6h.9v.9h-.9zM270.2,526.5h.9v.9h-.9zM273.0,513.1h.9v.9h-.9zM273.3,519.7h.9v.9h-.9zM284.7,500.7h.9v.9h-.9zM277.1,501.1h.9v.9h-.9zM282.4,495.6h.9v.9h-.9zM283.7,509.5h.9v.9h-.9zM277.2,474.8h.9v.9h-.9zM280.6,513.9h.9v.9h-.9zM283.5,485.6h.9v.9h-.9zM283.0,492.4h.9v.9h-.9zM277.2,497.0h.9v.9h-.9zM277.6,492.0h.9v.9h-.9zM280.8,516.1h.9v.9h-.9zM282.5,502.5h.9v.9h-.9zM278.6,501.2h.9v.9h-.9zM274.3,480.0h.9v.9h-.9zM277.2,484.0h.9v.9h-.9zM270.2,480.0h.9v.9h-.9zM278.7,479.1h.9v.9h-.9z" fill="#111"/>
<rect x="258.80" y="474.60" width="28.40" height="77.80" fill="none" stroke="#d84a66" stroke-width="1.0" stroke-dasharray="2.6,2"/>
<line x1="258.80" y1="501.20" x2="287.20" y2="501.20" stroke="#e8a0b0" stroke-width="0.8"/>
<line x1="267.40" y1="501.20" x2="283.80" y2="501.20" stroke="#e01030" stroke-width="1.1"/>
<text x="237.00" y="525.70" font-size="5.2" fill="#dc3848">P5</text>
<text x="237.00" y="535.00" font-size="5.2" fill="#dc3848">26.3%</text>
<rect x="49.80" y="598.20" width="102.20" height="84.00" fill="#fff"/>
<line x1="49.80" y1="598.20" x2="152.00" y2="598.20" stroke="#c8c8ff" stroke-width="1.0"/>
<line x1="152.00" y1="598.20" x2="152.00" y2="682.20" stroke="#7070f0" stroke-width="1.0"/>
<line x1="49.80" y1="598.20" x2="49.80" y2="682.20" stroke="#b8b8ff" stroke-width="1.0"/>
<line x1="49.80" y1="682.20" x2="152.00" y2="682.20" stroke="#4a4af0" stroke-width="1.0"/>
<path d="M49.50,681.60h-3.4 M49.50,677.64h-2.8 M49.50,675.32h-2.8 M49.50,673.67h-2.8 M49.50,672.40h-2.8 M49.50,671.35h-2.8 M49.50,670.47h-2.8 M49.50,669.71h-2.8 M49.50,669.04h-2.8 M49.50,668.43h-3.4 M49.50,664.47h-2.8 M49.50,662.15h-2.8 M49.50,660.51h-2.8 M49.50,659.23h-2.8 M49.50,658.19h-2.8 M49.50,657.31h-2.8 M49.50,656.54h-2.8 M49.50,655.87h-2.8 M49.50,655.27h-3.4 M49.50,651.30h-2.8 M49.50,648.98h-2.8 M49.50,647.34h-2.8 M49.50,646.06h-2.8 M49.50,645.02h-2.8 M49.50,644.14h-2.8 M49.50,643.38h-2.8 M49.50,642.70h-2.8 M49.50,642.10h-3.4 M49.50,638.14h-2.8 M49.50,635.82h-2.8 M49.50,634.17h-2.8 M49.50,632.90h-2.8 M49.50,631.85h-2.8 M49.50,630.97h-2.8 M49.50,630.21h-2.8 M49.50,629.54h-2.8 M49.50,628.93h-3.4 M49.50,624.97h-2.8 M49.50,622.65h-2.8 M49.50,621.01h-2.8 M49.50,619.73h-2.8 M49.50,618.69h-2.8 M49.50,617.81h-2.8 M49.50,617.04h-2.8 M49.50,616.37h-2.8 M49.50,615.77h-3.4 M49.50,611.80h-2.8 M49.50,609.48h-2.8 M49.50,607.84h-2.8 M49.50,606.56h-2.8 M49.50,605.52h-2.8 M49.50,604.64h-2.8 M49.50,603.88h-2.8 M49.50,603.20h-2.8 M49.50,602.60h-3.4" fill="none" stroke="#2828e6" stroke-width="0.9"/>
<path d="M49.80,682.50v3.2 M54.93,682.50v2.8 M57.93,682.50v2.8 M60.06,682.50v2.8 M61.71,682.50v2.8 M63.05,682.50v2.8 M64.19,682.50v2.8 M65.18,682.50v2.8 M66.05,682.50v2.8 M66.83,682.50v3.2 M71.96,682.50v2.8 M74.96,682.50v2.8 M77.09,682.50v2.8 M78.74,682.50v2.8 M80.09,682.50v2.8 M81.23,682.50v2.8 M82.22,682.50v2.8 M83.09,682.50v2.8 M83.87,682.50v3.2 M88.99,682.50v2.8 M91.99,682.50v2.8 M94.12,682.50v2.8 M95.77,682.50v2.8 M97.12,682.50v2.8 M98.26,682.50v2.8 M99.25,682.50v2.8 M100.12,682.50v2.8 M100.90,682.50v3.2 M106.03,682.50v2.8 M109.03,682.50v2.8 M111.16,682.50v2.8 M112.81,682.50v2.8 M114.15,682.50v2.8 M115.29,682.50v2.8 M116.28,682.50v2.8 M117.15,682.50v2.8 M117.93,682.50v3.2 M123.06,682.50v2.8 M126.06,682.50v2.8 M128.19,682.50v2.8 M129.84,682.50v2.8 M131.19,682.50v2.8 M132.33,682.50v2.8 M133.32,682.50v2.8 M134.19,682.50v2.8 M134.97,682.50v3.2 M140.09,682.50v2.8 M143.09,682.50v2.8 M145.22,682.50v2.8 M146.87,682.50v2.8 M148.22,682.50v2.8 M149.36,682.50v2.8 M150.35,682.50v2.8 M151.22,682.50v2.8 M152.00,682.50v3.2" fill="none" stroke="#2828e6" stroke-width="0.9"/>
<text x="33.30" y="684.20" font-size="7.4" fill="#222">10<tspan font-size="4.59" dy="-3.11">1</tspan></text>
<text x="33.30" y="671.03" font-size="7.4" fill="#222">10<tspan font-size="4.59" dy="-3.11">2</tspan></text>
<text x="33.30" y="657.87" font-size="7.4" fill="#222">10<tspan font-size="4.59" dy="-3.11">3</tspan></text>
<text x="33.30" y="644.70" font-size="7.4" fill="#222">10<tspan font-size="4.59" dy="-3.11">4</tspan></text>
<text x="33.30" y="631.53" font-size="7.4" fill="#222">10<tspan font-size="4.59" dy="-3.11">5</tspan></text>
<text x="33.30" y="618.37" font-size="7.4" fill="#222">10<tspan font-size="4.59" dy="-3.11">6</tspan></text>
<text x="33.30" y="605.20" font-size="7.4" fill="#222">10<tspan font-size="4.59" dy="-3.11">7</tspan></text>
<text x="44.40" y="694.50" font-size="7.4" fill="#222">10<tspan font-size="4.59" dy="-3.11">1</tspan></text>
<text x="61.43" y="694.50" font-size="7.4" fill="#222">10<tspan font-size="4.59" dy="-3.11">2</tspan></text>
<text x="78.47" y="694.50" font-size="7.4" fill="#222">10<tspan font-size="4.59" dy="-3.11">3</tspan></text>
<text x="95.50" y="694.50" font-size="7.4" fill="#222">10<tspan font-size="4.59" dy="-3.11">4</tspan></text>
<text x="112.53" y="694.50" font-size="7.4" fill="#222">10<tspan font-size="4.59" dy="-3.11">5</tspan></text>
<text x="129.57" y="694.50" font-size="7.4" fill="#222">10<tspan font-size="4.59" dy="-3.11">6</tspan></text>
<text x="146.60" y="694.50" font-size="7.4" fill="#222">10<tspan font-size="4.59" dy="-3.11">7</tspan></text>
<text x="74.00" y="594.80" font-size="11.2">si-P53</text>
<ellipse cx="139.60" cy="617.98" rx="7.37" ry="9.97" fill="#000"/>
<ellipse cx="139.30" cy="624.80" rx="5.32" ry="5.78" fill="#000"/>
<path d="M140.0,625.4h.9v.9h-.9zM135.9,624.0h.9v.9h-.9zM138.6,617.1h.9v.9h-.9zM147.2,619.4h.9v.9h-.9zM139.4,622.5h.9v.9h-.9zM144.1,618.3h.9v.9h-.9zM142.0,613.1h.9v.9h-.9zM138.1,616.1h.9v.9h-.9zM134.3,610.2h.9v.9h-.9zM133.1,617.2h.9v.9h-.9zM138.9,616.7h.9v.9h-.9zM139.9,611.1h.9v.9h-.9zM139.3,619.8h.9v.9h-.9zM142.6,613.8h.9v.9h-.9zM138.0,607.4h.9v.9h-.9zM137.6,606.4h.9v.9h-.9zM133.9,624.6h.9v.9h-.9zM130.8,622.9h.9v.9h-.9zM140.9,616.8h.9v.9h-.9zM141.4,621.4h.9v.9h-.9zM143.8,617.2h.9v.9h-.9zM137.2,615.2h.9v.9h-.9zM135.7,618.3h.9v.9h-.9zM136.5,624.4h.9v.9h-.9zM132.1,612.5h.9v.9h-.9zM138.5,615.6h.9v.9h-.9zM143.9,614.5h.9v.9h-.9zM139.0,614.8h.9v.9h-.9zM142.2,612.2h.9v.9h-.9zM139.3,620.5h.9v.9h-.9zM145.7,623.7h.9v.9h-.9zM137.7,620.2h.9v.9h-.9zM137.7,627.6h.9v.9h-.9zM140.4,617.3h.9v.9h-.9zM138.7,617.4h.9v.9h-.9zM138.9,613.6h.9v.9h-.9zM125.2,617.8h.9v.9h-.9zM139.0,620.6h.9v.9h-.9zM138.8,617.7h.9v.9h-.9zM140.9,623.9h.9v.9h-.9zM137.8,616.4h.9v.9h-.9zM147.4,621.4h.9v.9h-.9zM135.7,631.3h.9v.9h-.9zM142.7,615.2h.9v.9h-.9zM134.9,620.1h.9v.9h-.9zM136.3,612.7h.9v.9h-.9zM134.4,615.7h.9v.9h-.9zM144.0,616.1h.9v.9h-.9zM133.8,622.2h.9v.9h-.9zM139.9,623.2h.9v.9h-.9zM144.4,617.6h.9v.9h-.9zM139.0,618.2h.9v.9h-.9zM135.1,622.2h.9v.9h-.9zM145.1,619.5h.9v.9h-.9zM138.7,617.1h.9v.9h-.9zM136.5,614.1h.9v.9h-.9zM138.0,613.8h.9v.9h-.9zM137.9,609.8h.9v.9h-.9zM141.0,618.8h.9v.9h-.9zM139.6,624.6h.9v.9h-.9zM136.7,615.8h.9v.9h-.9zM137.3,622.1h.9v.9h-.9zM135.9,623.9h.9v.9h-.9zM138.4,623.6h.9v.9h-.9zM139.7,617.2h.9v.9h-.9zM133.7,614.7h.9v.9h-.9zM138.6,622.1h.9v.9h-.9zM140.6,614.6h.9v.9h-.9zM141.2,624.0h.9v.9h-.9zM139.0,616.1h.9v.9h-.9zM138.0,623.0h.9v.9h-.9zM141.8,613.4h.9v.9h-.9zM141.1,615.8h.9v.9h-.9zM136.6,625.4h.9v.9h-.9zM142.9,614.5h.9v.9h-.9zM139.9,621.3h.9v.9h-.9zM137.0,617.8h.9v.9h-.9zM142.3,608.6h.9v.9h-.9zM140.9,622.6h.9v.9h-.9zM141.6,611.1h.9v.9h-.9zM140.9,613.7h.9v.9h-.9zM141.9,621.8h.9v.9h-.9zM140.5,614.3h.9v.9h-.9zM137.2,623.2h.9v.9h-.9zM136.0,621.2h.9v.9h-.9zM141.6,617.0h.9v.9h-.9zM149.2,618.9h.9v.9h-.9zM130.6,623.9h.9v.9h-.9zM142.1,616.8h.9v.9h-.9zM139.4,608.0h.9v.9h-.9zM137.1,612.8h.9v.9h-.9zM138.7,623.4h.9v.9h-.9zM139.8,620.6h.9v.9h-.9zM136.8,616.1h.9v.9h-.9zM140.0,616.9h.9v.9h-.9zM144.7,613.7h.9v.9h-.9zM147.2,613.1h.9v.9h-.9zM143.8,614.2h.9v.9h-.9zM146.2,619.3h.9v.9h-.9zM141.2,622.6h.9v.9h-.9zM137.1,612.7h.9v.9h-.9zM131.5,625.2h.9v.9h-.9zM136.8,615.2h.9v.9h-.9zM139.5,629.5h.9v.9h-.9zM132.7,619.9h.9v.9h-.9zM138.0,621.4h.9v.9h-.9zM132.4,616.3h.9v.9h-.9zM143.0,627.1h.9v.9h-.9zM146.0,613.8h.9v.9h-.9zM139.8,617.9h.9v.9h-.9zM134.1,610.5h.9v.9h-.9zM142.6,619.9h.9v.9h-.9zM139.0,625.2h.9v.9h-.9zM135.6,621.4h.9v.9h-.9zM139.6,618.2h.9v.9h-.9zM141.6,619.5h.9v.9h-.9zM140.7,620.0h.9v.9h-.9zM147.4,616.8h.9v.9h-.9zM143.6,621.9h.9v.9h-.9zM138.2,622.9h.9v.9h-.9zM136.2,624.9h.9v.9h-.9zM136.4,615.8h.9v.9h-.9zM140.9,623.1h.9v.9h-.9zM143.2,623.4h.9v.9h-.9zM138.8,613.2h.9v.9h-.9zM141.8,620.2h.9v.9h-.9zM135.8,623.9h.9v.9h-.9zM140.4,613.2h.9v.9h-.9zM141.4,611.2h.9v.9h-.9zM136.1,620.7h.9v.9h-.9zM133.4,618.7h.9v.9h-.9zM134.2,622.6h.9v.9h-.9zM136.7,619.5h.9v.9h-.9zM133.6,616.6h.9v.9h-.9zM143.4,621.0h.9v.9h-.9zM132.2,623.6h.9v.9h-.9zM143.2,616.4h.9v.9h-.9zM145.3,612.6h.9v.9h-.9zM139.3,624.7h.9v.9h-.9zM144.8,625.6h.9v.9h-.9zM141.2,610.6h.9v.9h-.9zM139.1,611.4h.9v.9h-.9zM143.8,622.9h.9v.9h-.9zM141.8,618.6h.9v.9h-.9zM139.8,616.9h.9v.9h-.9zM141.1,619.9h.9v.9h-.9zM141.4,616.1h.9v.9h-.9zM147.2,620.1h.9v.9h-.9zM145.2,625.9h.9v.9h-.9zM136.1,609.2h.9v.9h-.9zM144.6,616.4h.9v.9h-.9zM139.9,617.1h.9v.9h-.9zM140.1,611.9h.9v.9h-.9zM139.2,615.9h.9v.9h-.9zM139.5,605.6h.9v.9h-.9zM142.9,620.3h.9v.9h-.9zM132.7,614.4h.9v.9h-.9zM139.7,622.0h.9v.9h-.9zM139.6,626.1h.9v.9h-.9zM139.7,613.0h.9v.9h-.9zM136.9,622.6h.9v.9h-.9zM137.1,623.1h.9v.9h-.9zM143.7,621.8h.9v.9h-.9zM143.7,617.5h.9v.9h-.9zM139.6,615.2h.9v.9h-.9zM137.2,609.9h.9v.9h-.9zM137.4,612.6h.9v.9h-.9zM133.9,619.3h.9v.9h-.9zM141.4,616.6h.9v.9h-.9zM145.1,623.7h.9v.9h-.9zM143.8,615.2h.9v.9h-.9zM133.6,621.6h.9v.9h-.9zM140.8,622.5h.9v.9h-.9zM141.3,625.5h.9v.9h-.9zM138.4,622.2h.9v.9h-.9zM136.0,605.7h.9v.9h-.9zM137.8,626.8h.9v.9h-.9zM132.9,624.1h.9v.9h-.9zM136.9,616.3h.9v.9h-.9zM139.8,619.7h.9v.9h-.9zM135.7,619.2h.9v.9h-.9zM141.4,623.1h.9v.9h-.9zM136.6,627.1h.9v.9h-.9zM147.2,631.8h.9v.9h-.9zM134.2,619.5h.9v.9h-.9zM132.2,620.6h.9v.9h-.9zM141.8,612.1h.9v.9h-.9zM133.3,619.5h.9v.9h-.9zM142.1,614.1h.9v.9h-.9zM138.6,604.5h.9v.9h-.9zM136.8,619.3h.9v.9h-.9zM140.2,627.2h.9v.9h-.9zM141.4,615.2h.9v.9h-.9zM140.7,622.5h.9v.9h-.9zM142.0,626.5h.9v.9h-.9zM139.3,629.6h.9v.9h-.9zM138.0,623.8h.9v.9h-.9zM139.4,616.2h.9v.9h-.9zM145.9,624.3h.9v.9h-.9zM138.6,623.5h.9v.9h-.9zM134.3,614.5h.9v.9h-.9zM143.2,618.7h.9v.9h-.9zM135.4,621.0h.9v.9h-.9zM140.9,625.6h.9v.9h-.9zM143.4,617.0h.9v.9h-.9zM137.7,617.7h.9v.9h-.9zM138.7,626.6h.9v.9h-.9zM146.0,626.0h.9v.9h-.9zM141.1,617.1h.9v.9h-.9zM143.2,616.6h.9v.9h-.9zM140.5,609.3h.9v.9h-.9zM137.9,626.5h.9v.9h-.9zM135.5,610.3h.9v.9h-.9zM138.9,627.7h.9v.9h-.9zM145.4,616.5h.9v.9h-.9zM137.7,617.9h.9v.9h-.9zM135.9,618.7h.9v.9h-.9zM138.4,610.3h.9v.9h-.9zM137.3,617.1h.9v.9h-.9zM136.2,612.3h.9v.9h-.9zM143.2,629.0h.9v.9h-.9zM138.5,616.2h.9v.9h-.9zM141.6,617.2h.9v.9h-.9zM136.5,626.2h.9v.9h-.9zM135.4,614.5h.9v.9h-.9zM136.9,613.6h.9v.9h-.9zM138.6,621.7h.9v.9h-.9zM145.4,622.2h.9v.9h-.9zM139.7,611.6h.9v.9h-.9zM139.4,613.3h.9v.9h-.9zM139.2,623.9h.9v.9h-.9zM140.4,617.3h.9v.9h-.9zM136.6,618.4h.9v.9h-.9zM140.0,613.4h.9v.9h-.9zM137.6,623.4h.9v.9h-.9zM133.0,616.1h.9v.9h-.9zM134.9,627.0h.9v.9h-.9zM142.0,621.3h.9v.9h-.9zM141.2,620.1h.9v.9h-.9zM140.8,609.7h.9v.9h-.9zM140.6,621.8h.9v.9h-.9zM133.9,623.1h.9v.9h-.9zM142.3,610.1h.9v.9h-.9zM137.7,616.8h.9v.9h-.9zM137.5,620.7h.9v.9h-.9zM134.5,617.3h.9v.9h-.9zM140.5,622.5h.9v.9h-.9zM139.8,617.2h.9v.9h-.9zM142.4,607.5h.9v.9h-.9zM143.3,616.8h.9v.9h-.9zM134.6,616.1h.9v.9h-.9zM138.3,614.2h.9v.9h-.9zM142.5,613.6h.9v.9h-.9zM134.4,613.2h.9v.9h-.9zM146.5,618.6h.9v.9h-.9zM137.2,613.0h.9v.9h-.9zM135.2,617.6h.9v.9h-.9zM141.3,624.9h.9v.9h-.9zM144.2,620.0h.9v.9h-.9zM137.0,613.7h.9v.9h-.9zM130.3,612.9h.9v.9h-.9zM141.3,616.6h.9v.9h-.9zM141.1,611.1h.9v.9h-.9zM143.2,620.1h.9v.9h-.9zM139.8,620.7h.9v.9h-.9zM130.7,615.4h.9v.9h-.9zM136.0,628.5h.9v.9h-.9zM138.9,615.7h.9v.9h-.9zM143.0,612.7h.9v.9h-.9zM145.3,614.6h.9v.9h-.9zM139.4,613.4h.9v.9h-.9zM142.8,606.5h.9v.9h-.9zM142.4,614.0h.9v.9h-.9zM139.8,612.1h.9v.9h-.9zM140.5,619.5h.9v.9h-.9zM142.0,620.2h.9v.9h-.9zM142.1,624.0h.9v.9h-.9zM138.0,612.0h.9v.9h-.9zM134.5,622.3h.9v.9h-.9zM138.1,624.3h.9v.9h-.9zM139.8,612.9h.9v.9h-.9zM143.2,629.2h.9v.9h-.9zM138.9,613.3h.9v.9h-.9zM136.2,623.4h.9v.9h-.9zM137.3,616.3h.9v.9h-.9zM142.3,618.6h.9v.9h-.9zM140.1,615.5h.9v.9h-.9zM137.0,619.4h.9v.9h-.9zM140.2,621.8h.9v.9h-.9zM137.6,620.4h.9v.9h-.9zM141.5,619.0h.9v.9h-.9zM141.9,624.1h.9v.9h-.9zM140.4,618.9h.9v.9h-.9zM135.7,620.3h.9v.9h-.9zM139.2,616.8h.9v.9h-.9zM136.3,621.7h.9v.9h-.9zM149.8,620.9h.9v.9h-.9zM139.9,620.9h.9v.9h-.9zM137.2,619.0h.9v.9h-.9zM137.0,615.0h.9v.9h-.9zM140.5,619.8h.9v.9h-.9zM139.2,614.1h.9v.9h-.9zM140.7,612.5h.9v.9h-.9zM142.7,616.6h.9v.9h-.9zM139.6,622.8h.9v.9h-.9zM141.8,611.4h.9v.9h-.9zM138.6,620.5h.9v.9h-.9zM139.3,618.2h.9v.9h-.9zM141.3,619.0h.9v.9h-.9zM140.1,619.8h.9v.9h-.9zM145.1,621.2h.9v.9h-.9zM141.8,616.3h.9v.9h-.9zM144.1,617.5h.9v.9h-.9zM142.6,606.9h.9v.9h-.9zM140.6,618.0h.9v.9h-.9zM137.8,625.6h.9v.9h-.9zM141.2,617.7h.9v.9h-.9zM137.5,628.9h.9v.9h-.9zM142.6,622.1h.9v.9h-.9zM136.6,625.7h.9v.9h-.9zM141.8,617.0h.9v.9h-.9zM139.2,609.5h.9v.9h-.9zM142.2,612.5h.9v.9h-.9zM143.0,616.1h.9v.9h-.9zM137.1,620.5h.9v.9h-.9zM140.4,612.3h.9v.9h-.9zM139.3,621.8h.9v.9h-.9zM138.6,611.1h.9v.9h-.9zM138.6,613.2h.9v.9h-.9zM137.3,618.8h.9v.9h-.9zM139.4,617.3h.9v.9h-.9zM133.0,620.4h.9v.9h-.9zM138.8,616.3h.9v.9h-.9zM140.2,629.1h.9v.9h-.9zM142.6,614.2h.9v.9h-.9zM144.8,613.1h.9v.9h-.9zM137.7,623.1h.9v.9h-.9zM143.2,620.9h.9v.9h-.9zM141.4,617.8h.9v.9h-.9zM137.8,617.4h.9v.9h-.9zM144.7,622.4h.9v.9h-.9zM139.7,620.2h.9v.9h-.9zM142.9,625.0h.9v.9h-.9zM139.1,618.1h.9v.9h-.9zM140.9,632.8h.9v.9h-.9zM140.6,625.5h.9v.9h-.9zM133.5,623.2h.9v.9h-.9zM134.0,612.6h.9v.9h-.9zM137.1,617.7h.9v.9h-.9zM140.3,620.5h.9v.9h-.9zM140.5,616.1h.9v.9h-.9zM149.9,620.7h.9v.9h-.9zM142.3,629.6h.9v.9h-.9zM143.4,621.7h.9v.9h-.9zM140.9,628.7h.9v.9h-.9zM135.3,613.2h.9v.9h-.9zM140.2,607.3h.9v.9h-.9zM136.5,624.7h.9v.9h-.9zM137.8,619.4h.9v.9h-.9zM142.3,612.1h.9v.9h-.9zM140.7,615.1h.9v.9h-.9zM135.3,617.0h.9v.9h-.9zM139.4,616.3h.9v.9h-.9zM137.0,623.7h.9v.9h-.9zM144.2,621.5h.9v.9h-.9zM139.2,612.7h.9v.9h-.9zM136.3,612.4h.9v.9h-.9zM140.4,623.5h.9v.9h-.9zM143.2,618.4h.9v.9h-.9zM138.1,619.5h.9v.9h-.9zM140.1,621.8h.9v.9h-.9zM145.4,614.8h.9v.9h-.9zM132.5,610.2h.9v.9h-.9zM135.5,617.2h.9v.9h-.9zM147.8,614.7h.9v.9h-.9zM144.0,616.5h.9v.9h-.9zM140.2,612.9h.9v.9h-.9zM148.6,618.3h.9v.9h-.9zM137.2,630.9h.9v.9h-.9zM140.3,620.8h.9v.9h-.9zM139.0,614.0h.9v.9h-.9zM133.9,617.5h.9v.9h-.9zM146.0,620.8h.9v.9h-.9zM138.9,624.3h.9v.9h-.9zM135.9,626.0h.9v.9h-.9zM139.5,614.0h.9v.9h-.9zM142.3,621.3h.9v.9h-.9zM138.2,619.7h.9v.9h-.9zM143.5,626.2h.9v.9h-.9zM136.2,604.1h.9v.9h-.9zM147.7,617.1h.9v.9h-.9zM137.9,620.9h.9v.9h-.9zM137.9,624.2h.9v.9h-.9zM134.7,617.4h.9v.9h-.9zM134.6,626.8h.9v.9h-.9zM138.6,624.5h.9v.9h-.9zM145.1,612.0h.9v.9h-.9zM138.7,622.4h.9v.9h-.9zM139.8,617.8h.9v.9h-.9zM142.9,623.5h.9v.9h-.9zM137.3,617.8h.9v.9h-.9zM142.2,619.7h.9v.9h-.9zM140.2,612.4h.9v.9h-.9zM146.6,617.2h.9v.9h-.9zM140.7,618.3h.9v.9h-.9zM139.9,619.3h.9v.9h-.9zM136.3,620.6h.9v.9h-.9zM144.4,620.7h.9v.9h-.9zM142.5,621.2h.9v.9h-.9zM139.7,628.4h.9v.9h-.9zM136.9,620.6h.9v.9h-.9zM143.7,620.1h.9v.9h-.9zM135.4,612.5h.9v.9h-.9zM145.8,613.3h.9v.9h-.9zM139.6,621.5h.9v.9h-.9zM140.0,608.8h.9v.9h-.9zM132.1,617.9h.9v.9h-.9zM136.5,617.1h.9v.9h-.9zM140.0,619.4h.9v.9h-.9zM143.3,615.1h.9v.9h-.9zM141.7,611.6h.9v.9h-.9zM135.4,621.9h.9v.9h-.9zM140.8,621.6h.9v.9h-.9zM135.7,616.9h.9v.9h-.9zM137.0,623.4h.9v.9h-.9zM141.0,612.8h.9v.9h-.9zM141.8,617.7h.9v.9h-.9zM137.7,624.7h.9v.9h-.9zM133.0,624.2h.9v.9h-.9zM138.8,617.6h.9v.9h-.9zM135.1,615.3h.9v.9h-.9zM136.4,618.8h.9v.9h-.9zM137.4,606.7h.9v.9h-.9zM144.4,623.4h.9v.9h-.9zM136.3,623.3h.9v.9h-.9zM138.0,615.6h.9v.9h-.9zM141.8,616.8h.9v.9h-.9zM134.0,625.4h.9v.9h-.9zM138.3,622.5h.9v.9h-.9zM148.7,614.4h.9v.9h-.9zM138.0,623.5h.9v.9h-.9zM139.2,621.4h.9v.9h-.9zM139.6,634.0h.9v.9h-.9zM142.1,620.4h.9v.9h-.9zM140.1,620.6h.9v.9h-.9zM133.1,617.0h.9v.9h-.9zM142.6,611.9h.9v.9h-.9zM139.8,618.0h.9v.9h-.9zM137.6,632.3h.9v.9h-.9zM142.5,620.3h.9v.9h-.9zM136.5,619.0h.9v.9h-.9zM138.4,618.0h.9v.9h-.9zM140.5,632.3h.9v.9h-.9zM145.0,627.9h.9v.9h-.9zM145.1,634.1h.9v.9h-.9zM137.0,611.4h.9v.9h-.9zM140.4,619.9h.9v.9h-.9zM139.7,615.1h.9v.9h-.9zM142.4,628.0h.9v.9h-.9zM140.5,617.3h.9v.9h-.9zM144.4,616.8h.9v.9h-.9zM138.2,620.3h.9v.9h-.9zM130.5,628.9h.9v.9h-.9zM139.2,621.4h.9v.9h-.9zM140.9,620.8h.9v.9h-.9zM134.3,628.3h.9v.9h-.9zM141.9,620.2h.9v.9h-.9zM142.6,618.0h.9v.9h-.9zM133.6,629.3h.9v.9h-.9zM133.4,619.3h.9v.9h-.9zM139.3,619.6h.9v.9h-.9zM135.9,626.1h.9v.9h-.9zM140.6,611.5h.9v.9h-.9zM134.8,620.0h.9v.9h-.9zM135.0,620.9h.9v.9h-.9zM140.9,615.3h.9v.9h-.9zM131.9,611.3h.9v.9h-.9zM141.1,615.7h.9v.9h-.9zM147.1,616.1h.9v.9h-.9zM141.2,622.3h.9v.9h-.9zM140.0,620.2h.9v.9h-.9zM143.7,617.7h.9v.9h-.9zM141.0,616.5h.9v.9h-.9zM147.6,619.5h.9v.9h-.9zM143.0,602.1h.9v.9h-.9zM137.7,612.3h.9v.9h-.9zM139.8,616.1h.9v.9h-.9zM135.4,617.0h.9v.9h-.9zM142.9,624.5h.9v.9h-.9zM137.5,624.4h.9v.9h-.9zM137.1,622.0h.9v.9h-.9zM136.2,624.3h.9v.9h-.9zM148.9,616.9h.9v.9h-.9zM144.5,610.5h.9v.9h-.9zM137.1,633.3h.9v.9h-.9zM139.3,621.3h.9v.9h-.9zM133.1,618.5h.9v.9h-.9zM136.5,625.2h.9v.9h-.9zM137.5,632.6h.9v.9h-.9zM135.2,620.3h.9v.9h-.9zM131.6,616.3h.9v.9h-.9zM144.5,617.9h.9v.9h-.9zM134.4,621.3h.9v.9h-.9zM143.4,621.0h.9v.9h-.9zM143.6,610.7h.9v.9h-.9zM146.9,622.5h.9v.9h-.9zM131.2,628.9h.9v.9h-.9zM137.7,621.4h.9v.9h-.9zM131.7,615.0h.9v.9h-.9zM132.3,623.2h.9v.9h-.9zM138.7,613.4h.9v.9h-.9zM138.1,624.7h.9v.9h-.9zM136.5,621.7h.9v.9h-.9zM137.7,616.9h.9v.9h-.9zM140.3,623.7h.9v.9h-.9zM138.0,616.5h.9v.9h-.9zM142.7,620.9h.9v.9h-.9zM139.4,619.8h.9v.9h-.9zM130.8,615.5h.9v.9h-.9zM133.2,616.6h.9v.9h-.9zM143.2,609.2h.9v.9h-.9zM143.3,615.4h.9v.9h-.9zM138.8,615.9h.9v.9h-.9zM142.4,614.8h.9v.9h-.9zM131.3,620.3h.9v.9h-.9zM139.0,622.0h.9v.9h-.9zM142.0,611.8h.9v.9h-.9zM140.4,619.2h.9v.9h-.9zM139.3,619.0h.9v.9h-.9zM140.9,615.4h.9v.9h-.9zM139.0,623.9h.9v.9h-.9zM135.4,618.1h.9v.9h-.9zM135.5,612.6h.9v.9h-.9zM137.9,619.5h.9v.9h-.9zM145.7,617.4h.9v.9h-.9zM143.3,621.5h.9v.9h-.9zM139.9,601.4h.9v.9h-.9zM140.1,618.8h.9v.9h-.9zM135.4,619.2h.9v.9h-.9zM145.5,612.1h.9v.9h-.9zM137.6,623.5h.9v.9h-.9zM132.4,612.8h.9v.9h-.9zM140.8,623.8h.9v.9h-.9zM144.5,622.7h.9v.9h-.9zM148.8,620.6h.9v.9h-.9zM134.4,617.4h.9v.9h-.9zM142.1,620.6h.9v.9h-.9zM131.9,620.6h.9v.9h-.9zM136.4,617.4h.9v.9h-.9zM145.4,617.6h.9v.9h-.9zM137.0,617.8h.9v.9h-.9zM137.0,629.8h.9v.9h-.9zM142.9,623.5h.9v.9h-.9zM136.9,615.0h.9v.9h-.9zM140.6,606.5h.9v.9h-.9zM143.7,611.4h.9v.9h-.9zM140.0,620.4h.9v.9h-.9zM136.4,620.5h.9v.9h-.9zM142.4,629.0h.9v.9h-.9zM141.2,628.5h.9v.9h-.9zM141.5,617.4h.9v.9h-.9zM143.0,615.6h.9v.9h-.9zM140.2,621.9h.9v.9h-.9zM144.2,620.0h.9v.9h-.9zM133.8,625.7h.9v.9h-.9zM140.3,616.9h.9v.9h-.9zM136.4,621.7h.9v.9h-.9zM140.9,622.3h.9v.9h-.9zM139.1,627.0h.9v.9h-.9zM138.6,620.8h.9v.9h-.9zM140.4,624.4h.9v.9h-.9zM136.8,616.9h.9v.9h-.9zM138.7,614.8h.9v.9h-.9zM137.0,611.8h.9v.9h-.9zM142.6,626.7h.9v.9h-.9zM135.7,622.7h.9v.9h-.9zM135.0,614.0h.9v.9h-.9zM138.3,619.2h.9v.9h-.9zM141.4,607.8h.9v.9h-.9zM137.5,632.7h.9v.9h-.9zM138.3,645.8h.9v.9h-.9zM140.6,638.2h.9v.9h-.9zM146.0,649.4h.9v.9h-.9zM142.9,629.6h.9v.9h-.9zM139.5,627.1h.9v.9h-.9zM136.9,639.2h.9v.9h-.9zM143.8,635.1h.9v.9h-.9zM134.3,626.4h.9v.9h-.9zM138.6,632.4h.9v.9h-.9zM141.7,633.9h.9v.9h-.9zM137.2,632.7h.9v.9h-.9zM140.5,635.1h.9v.9h-.9zM137.9,626.3h.9v.9h-.9zM137.0,640.7h.9v.9h-.9zM138.7,645.5h.9v.9h-.9zM129.8,645.2h.9v.9h-.9zM137.0,643.4h.9v.9h-.9zM139.5,640.2h.9v.9h-.9zM140.0,637.9h.9v.9h-.9zM137.4,639.8h.9v.9h-.9zM142.4,634.6h.9v.9h-.9zM138.4,628.0h.9v.9h-.9zM136.1,630.3h.9v.9h-.9zM137.3,626.4h.9v.9h-.9zM138.7,639.4h.9v.9h-.9zM138.2,627.0h.9v.9h-.9zM140.8,630.8h.9v.9h-.9zM140.4,634.9h.9v.9h-.9zM140.2,632.5h.9v.9h-.9zM137.9,627.3h.9v.9h-.9zM139.5,626.4h.9v.9h-.9zM145.0,633.9h.9v.9h-.9zM136.8,633.3h.9v.9h-.9zM141.7,630.6h.9v.9h-.9zM140.5,629.0h.9v.9h-.9zM145.9,647.5h.9v.9h-.9zM144.4,632.3h.9v.9h-.9zM139.0,631.3h.9v.9h-.9zM146.7,627.2h.9v.9h-.9zM137.6,634.8h.9v.9h-.9zM139.5,627.6h.9v.9h-.9zM141.1,649.4h.9v.9h-.9zM134.2,646.0h.9v.9h-.9zM138.3,626.4h.9v.9h-.9zM135.1,627.6h.9v.9h-.9zM142.2,631.9h.9v.9h-.9zM139.1,640.7h.9v.9h-.9zM138.5,626.9h.9v.9h-.9zM137.6,633.1h.9v.9h-.9zM142.9,630.1h.9v.9h-.9zM136.0,633.0h.9v.9h-.9zM134.5,638.2h.9v.9h-.9zM141.8,628.1h.9v.9h-.9zM137.0,634.0h.9v.9h-.9zM138.2,626.1h.9v.9h-.9zM138.4,627.0h.9v.9h-.9zM137.9,640.6h.9v.9h-.9zM145.1,633.0h.9v.9h-.9zM137.8,639.5h.9v.9h-.9zM143.1,630.1h.9v.9h-.9zM140.7,640.2h.9v.9h-.9zM140.2,646.7h.9v.9h-.9zM141.6,649.2h.9v.9h-.9zM134.4,639.9h.9v.9h-.9zM140.0,626.8h.9v.9h-.9zM137.6,634.0h.9v.9h-.9zM136.3,626.9h.9v.9h-.9zM135.5,626.7h.9v.9h-.9zM135.6,626.7h.9v.9h-.9zM143.8,626.0h.9v.9h-.9zM142.1,630.4h.9v.9h-.9zM143.6,631.8h.9v.9h-.9zM139.5,628.2h.9v.9h-.9zM142.2,638.7h.9v.9h-.9zM139.6,638.6h.9v.9h-.9zM142.9,627.0h.9v.9h-.9zM140.3,629.2h.9v.9h-.9zM144.7,648.8h.9v.9h-.9zM142.7,630.4h.9v.9h-.9zM135.0,642.3h.9v.9h-.9zM141.0,629.2h.9v.9h-.9zM134.8,627.6h.9v.9h-.9zM141.1,629.5h.9v.9h-.9zM138.5,627.7h.9v.9h-.9zM140.2,629.0h.9v.9h-.9zM135.7,634.8h.9v.9h-.9zM138.5,628.6h.9v.9h-.9zM142.1,626.0h.9v.9h-.9zM140.0,627.3h.9v.9h-.9zM139.1,634.7h.9v.9h-.9zM144.8,635.6h.9v.9h-.9zM139.3,637.4h.9v.9h-.9zM136.1,631.2h.9v.9h-.9zM144.3,628.9h.9v.9h-.9zM141.6,632.9h.9v.9h-.9zM142.9,626.4h.9v.9h-.9zM137.8,636.3h.9v.9h-.9zM147.6,631.4h.9v.9h-.9zM147.3,627.0h.9v.9h-.9zM141.1,629.9h.9v.9h-.9zM139.6,632.9h.9v.9h-.9zM139.7,632.4h.9v.9h-.9zM146.2,630.9h.9v.9h-.9zM139.3,626.0h.9v.9h-.9zM139.7,638.9h.9v.9h-.9zM140.5,644.6h.9v.9h-.9zM139.1,637.8h.9v.9h-.9zM137.2,628.8h.9v.9h-.9zM140.0,628.8h.9v.9h-.9zM138.8,626.6h.9v.9h-.9zM138.5,648.5h.9v.9h-.9zM141.3,626.1h.9v.9h-.9zM139.2,626.3h.9v.9h-.9zM134.2,640.1h.9v.9h-.9zM138.6,633.1h.9v.9h-.9zM143.6,636.5h.9v.9h-.9zM141.8,633.2h.9v.9h-.9zM140.9,648.4h.9v.9h-.9zM139.6,637.9h.9v.9h-.9zM134.8,646.9h.9v.9h-.9zM141.9,634.5h.9v.9h-.9zM135.8,630.4h.9v.9h-.9zM140.4,626.0h.9v.9h-.9zM139.4,628.8h.9v.9h-.9zM137.3,632.2h.9v.9h-.9zM137.1,628.1h.9v.9h-.9zM143.2,640.1h.9v.9h-.9zM137.3,648.2h.9v.9h-.9zM139.9,629.4h.9v.9h-.9zM139.8,626.1h.9v.9h-.9zM143.7,635.9h.9v.9h-.9zM140.1,627.9h.9v.9h-.9zM140.7,627.1h.9v.9h-.9zM139.4,632.9h.9v.9h-.9zM145.9,634.6h.9v.9h-.9zM138.9,629.4h.9v.9h-.9zM140.0,639.7h.9v.9h-.9zM136.2,640.3h.9v.9h-.9zM143.0,628.3h.9v.9h-.9zM139.9,627.6h.9v.9h-.9zM141.6,635.7h.9v.9h-.9zM139.4,636.8h.9v.9h-.9zM138.1,640.9h.9v.9h-.9zM137.1,632.4h.9v.9h-.9zM142.0,631.3h.9v.9h-.9zM136.4,627.3h.9v.9h-.9zM142.4,639.1h.9v.9h-.9zM142.1,646.5h.9v.9h-.9zM146.1,642.1h.9v.9h-.9zM141.3,639.1h.9v.9h-.9zM139.4,641.2h.9v.9h-.9zM142.9,645.8h.9v.9h-.9zM142.8,647.8h.9v.9h-.9zM143.4,628.6h.9v.9h-.9zM134.6,631.4h.9v.9h-.9zM140.7,626.7h.9v.9h-.9zM144.9,631.1h.9v.9h-.9zM133.5,629.0h.9v.9h-.9zM141.9,628.0h.9v.9h-.9zM141.9,626.0h.9v.9h-.9zM138.8,630.3h.9v.9h-.9zM139.3,649.0h.9v.9h-.9zM141.0,645.4h.9v.9h-.9zM140.8,627.9h.9v.9h-.9zM146.1,627.7h.9v.9h-.9zM138.2,645.9h.9v.9h-.9zM141.7,627.5h.9v.9h-.9zM136.8,634.0h.9v.9h-.9zM138.5,633.1h.9v.9h-.9zM143.1,628.7h.9v.9h-.9zM133.2,640.4h.9v.9h-.9zM141.9,642.8h.9v.9h-.9zM140.5,627.4h.9v.9h-.9zM145.5,626.8h.9v.9h-.9zM138.1,646.4h.9v.9h-.9zM142.0,634.4h.9v.9h-.9zM141.5,626.1h.9v.9h-.9zM139.3,646.0h.9v.9h-.9zM142.5,647.7h.9v.9h-.9zM141.7,627.3h.9v.9h-.9zM138.3,637.5h.9v.9h-.9zM141.8,626.4h.9v.9h-.9zM137.9,629.5h.9v.9h-.9zM137.6,637.2h.9v.9h-.9zM138.4,626.6h.9v.9h-.9zM145.7,634.9h.9v.9h-.9zM140.5,629.5h.9v.9h-.9zM139.0,627.0h.9v.9h-.9zM140.8,629.0h.9v.9h-.9zM137.3,634.0h.9v.9h-.9zM141.0,628.6h.9v.9h-.9zM140.2,632.6h.9v.9h-.9zM136.2,640.9h.9v.9h-.9zM140.9,632.5h.9v.9h-.9zM141.0,643.8h.9v.9h-.9zM137.0,632.4h.9v.9h-.9zM142.3,643.8h.9v.9h-.9zM137.8,630.1h.9v.9h-.9zM141.6,626.0h.9v.9h-.9zM136.1,634.0h.9v.9h-.9zM140.0,631.7h.9v.9h-.9zM139.2,632.2h.9v.9h-.9zM137.4,649.2h.9v.9h-.9zM140.7,626.5h.9v.9h-.9zM138.1,641.9h.9v.9h-.9zM142.7,628.1h.9v.9h-.9zM141.6,643.5h.9v.9h-.9zM146.3,643.7h.9v.9h-.9zM134.3,626.1h.9v.9h-.9zM143.4,630.2h.9v.9h-.9zM142.7,631.7h.9v.9h-.9zM143.0,640.1h.9v.9h-.9zM128.4,637.9h.9v.9h-.9zM138.3,644.9h.9v.9h-.9zM139.2,645.5h.9v.9h-.9zM144.0,626.3h.9v.9h-.9zM142.3,628.4h.9v.9h-.9zM141.7,637.4h.9v.9h-.9zM140.0,639.1h.9v.9h-.9zM133.2,626.1h.9v.9h-.9zM139.2,627.5h.9v.9h-.9zM139.4,638.8h.9v.9h-.9zM135.1,640.9h.9v.9h-.9zM141.7,638.6h.9v.9h-.9zM139.8,633.8h.9v.9h-.9zM140.6,648.7h.9v.9h-.9zM143.2,626.6h.9v.9h-.9zM135.8,643.8h.9v.9h-.9zM140.9,637.7h.9v.9h-.9zM149.1,630.0h.9v.9h-.9zM146.1,600.7h.9v.9h-.9zM142.9,625.3h.9v.9h-.9zM149.3,635.9h.9v.9h-.9zM148.2,622.1h.9v.9h-.9zM144.4,626.3h.9v.9h-.9zM143.1,602.2h.9v.9h-.9zM142.6,622.0h.9v.9h-.9zM147.7,613.1h.9v.9h-.9zM148.9,615.9h.9v.9h-.9zM142.5,622.8h.9v.9h-.9zM147.4,628.8h.9v.9h-.9zM146.3,610.0h.9v.9h-.9zM146.8,607.7h.9v.9h-.9zM147.8,611.1h.9v.9h-.9zM149.7,616.9h.9v.9h-.9zM144.1,613.1h.9v.9h-.9zM143.2,610.7h.9v.9h-.9zM143.4,615.5h.9v.9h-.9zM149.2,619.5h.9v.9h-.9zM143.0,612.3h.9v.9h-.9zM142.2,623.5h.9v.9h-.9zM150.2,613.8h.9v.9h-.9zM146.2,618.5h.9v.9h-.9zM147.2,641.0h.9v.9h-.9zM150.4,621.9h.9v.9h-.9zM144.4,631.9h.9v.9h-.9zM145.8,605.5h.9v.9h-.9zM149.2,618.6h.9v.9h-.9zM143.9,618.7h.9v.9h-.9zM143.4,610.5h.9v.9h-.9zM144.5,631.3h.9v.9h-.9zM148.8,612.9h.9v.9h-.9zM147.1,609.7h.9v.9h-.9zM143.3,621.4h.9v.9h-.9zM148.0,615.6h.9v.9h-.9zM148.0,616.5h.9v.9h-.9zM143.8,618.6h.9v.9h-.9zM143.5,622.0h.9v.9h-.9zM147.2,608.5h.9v.9h-.9zM142.7,633.3h.9v.9h-.9zM143.5,616.0h.9v.9h-.9zM141.9,611.7h.9v.9h-.9zM145.7,618.4h.9v.9h-.9zM143.0,625.5h.9v.9h-.9zM150.1,605.2h.9v.9h-.9zM145.3,615.9h.9v.9h-.9zM150.5,600.1h.9v.9h-.9zM144.9,606.1h.9v.9h-.9zM147.2,617.3h.9v.9h-.9zM143.1,623.1h.9v.9h-.9zM147.1,633.8h.9v.9h-.9zM142.5,604.1h.9v.9h-.9zM143.0,616.2h.9v.9h-.9zM142.5,627.5h.9v.9h-.9zM151.1,624.5h.9v.9h-.9zM150.0,607.8h.9v.9h-.9zM146.9,627.3h.9v.9h-.9zM142.0,601.1h.9v.9h-.9zM146.3,625.0h.9v.9h-.9zM145.6,614.0h.9v.9h-.9zM141.9,618.4h.9v.9h-.9zM146.6,609.7h.9v.9h-.9zM144.9,630.1h.9v.9h-.9zM148.7,610.2h.9v.9h-.9zM148.4,633.8h.9v.9h-.9zM142.3,609.1h.9v.9h-.9zM144.6,631.7h.9v.9h-.9zM144.7,633.9h.9v.9h-.9zM145.5,624.8h.9v.9h-.9zM150.2,610.6h.9v.9h-.9zM148.2,626.9h.9v.9h-.9zM150.9,623.8h.9v.9h-.9zM147.5,617.7h.9v.9h-.9zM142.2,610.9h.9v.9h-.9zM145.7,632.9h.9v.9h-.9zM146.2,606.2h.9v.9h-.9zM144.4,633.2h.9v.9h-.9zM148.4,617.2h.9v.9h-.9zM148.2,613.0h.9v.9h-.9zM148.7,605.8h.9v.9h-.9zM145.2,618.0h.9v.9h-.9zM146.8,608.1h.9v.9h-.9zM142.9,616.6h.9v.9h-.9zM144.4,605.8h.9v.9h-.9zM147.0,614.4h.9v.9h-.9zM144.5,615.2h.9v.9h-.9zM147.1,617.3h.9v.9h-.9zM148.1,626.1h.9v.9h-.9zM149.0,634.4h.9v.9h-.9zM142.9,602.6h.9v.9h-.9zM150.7,619.4h.9v.9h-.9zM144.3,618.8h.9v.9h-.9zM146.1,612.7h.9v.9h-.9zM144.4,610.4h.9v.9h-.9zM147.4,612.7h.9v.9h-.9zM146.6,621.6h.9v.9h-.9zM142.3,613.9h.9v.9h-.9zM147.2,613.8h.9v.9h-.9zM142.5,600.9h.9v.9h-.9zM150.3,612.2h.9v.9h-.9zM145.0,627.2h.9v.9h-.9zM146.4,618.6h.9v.9h-.9zM143.8,635.1h.9v.9h-.9zM143.2,624.0h.9v.9h-.9zM142.3,612.8h.9v.9h-.9zM149.3,617.0h.9v.9h-.9zM145.1,634.5h.9v.9h-.9zM146.1,621.9h.9v.9h-.9zM147.3,615.5h.9v.9h-.9zM144.1,613.1h.9v.9h-.9zM144.6,619.9h.9v.9h-.9zM150.3,634.4h.9v.9h-.9zM145.8,618.5h.9v.9h-.9zM142.7,632.0h.9v.9h-.9zM144.4,637.9h.9v.9h-.9zM151.0,606.3h.9v.9h-.9zM143.5,621.3h.9v.9h-.9zM146.4,630.2h.9v.9h-.9zM145.1,619.2h.9v.9h-.9zM144.7,599.5h.9v.9h-.9zM149.9,604.3h.9v.9h-.9zM144.7,607.1h.9v.9h-.9zM143.2,619.4h.9v.9h-.9zM146.3,622.3h.9v.9h-.9zM145.3,619.7h.9v.9h-.9zM150.7,616.2h.9v.9h-.9zM144.0,638.0h.9v.9h-.9zM147.1,616.6h.9v.9h-.9zM150.5,630.5h.9v.9h-.9zM149.7,625.5h.9v.9h-.9zM145.7,623.0h.9v.9h-.9zM147.0,600.2h.9v.9h-.9zM140.5,601.5h.9v.9h-.9zM150.8,600.4h.9v.9h-.9z" fill="#111"/>
<rect x="122.30" y="598.50" width="28.90" height="77.90" fill="none" stroke="#d84a66" stroke-width="1.0" stroke-dasharray="2.6,2"/>
<line x1="122.30" y1="625.20" x2="151.20" y2="625.20" stroke="#e8a0b0" stroke-width="0.8"/>
<line x1="132.00" y1="625.20" x2="149.20" y2="625.20" stroke="#e01030" stroke-width="1.1"/>
<text x="101.10" y="645.50" font-size="5.2" fill="#dc3848">P6</text>
<text x="101.10" y="654.80" font-size="5.2" fill="#dc3848">2.7%</text>
<rect x="185.80" y="597.00" width="102.20" height="85.20" fill="#fff"/>
<line x1="185.80" y1="597.00" x2="288.00" y2="597.00" stroke="#c8c8ff" stroke-width="1.0"/>
<line x1="288.00" y1="597.00" x2="288.00" y2="682.20" stroke="#7070f0" stroke-width="1.0"/>
<line x1="185.80" y1="597.00" x2="185.80" y2="682.20" stroke="#b8b8ff" stroke-width="1.0"/>
<line x1="185.80" y1="682.20" x2="288.00" y2="682.20" stroke="#4a4af0" stroke-width="1.0"/>
<path d="M185.50,681.60h-3.4 M185.50,677.58h-2.8 M185.50,675.22h-2.8 M185.50,673.55h-2.8 M185.50,672.26h-2.8 M185.50,671.20h-2.8 M185.50,670.30h-2.8 M185.50,669.53h-2.8 M185.50,668.84h-2.8 M185.50,668.23h-3.4 M185.50,664.21h-2.8 M185.50,661.86h-2.8 M185.50,660.19h-2.8 M185.50,658.89h-2.8 M185.50,657.83h-2.8 M185.50,656.94h-2.8 M185.50,656.16h-2.8 M185.50,655.48h-2.8 M185.50,654.87h-3.4 M185.50,650.84h-2.8 M185.50,648.49h-2.8 M185.50,646.82h-2.8 M185.50,645.52h-2.8 M185.50,644.47h-2.8 M185.50,643.57h-2.8 M185.50,642.80h-2.8 M185.50,642.11h-2.8 M185.50,641.50h-3.4 M185.50,637.48h-2.8 M185.50,635.12h-2.8 M185.50,633.45h-2.8 M185.50,632.16h-2.8 M185.50,631.10h-2.8 M185.50,630.20h-2.8 M185.50,629.43h-2.8 M185.50,628.74h-2.8 M185.50,628.13h-3.4 M185.50,624.11h-2.8 M185.50,621.76h-2.8 M185.50,620.09h-2.8 M185.50,618.79h-2.8 M185.50,617.73h-2.8 M185.50,616.84h-2.8 M185.50,616.06h-2.8 M185.50,615.38h-2.8 M185.50,614.77h-3.4 M185.50,610.74h-2.8 M185.50,608.39h-2.8 M185.50,606.72h-2.8 M185.50,605.42h-2.8 M185.50,604.37h-2.8 M185.50,603.47h-2.8 M185.50,602.70h-2.8 M185.50,602.01h-2.8 M185.50,601.40h-3.4" fill="none" stroke="#2828e6" stroke-width="0.9"/>
<path d="M185.80,682.50v3.2 M190.93,682.50v2.8 M193.93,682.50v2.8 M196.06,682.50v2.8 M197.71,682.50v2.8 M199.05,682.50v2.8 M200.19,682.50v2.8 M201.18,682.50v2.8 M202.05,682.50v2.8 M202.83,682.50v3.2 M207.96,682.50v2.8 M210.96,682.50v2.8 M213.09,682.50v2.8 M214.74,682.50v2.8 M216.09,682.50v2.8 M217.23,682.50v2.8 M218.22,682.50v2.8 M219.09,682.50v2.8 M219.87,682.50v3.2 M224.99,682.50v2.8 M227.99,682.50v2.8 M230.12,682.50v2.8 M231.77,682.50v2.8 M233.12,682.50v2.8 M234.26,682.50v2.8 M235.25,682.50v2.8 M236.12,682.50v2.8 M236.90,682.50v3.2 M242.03,682.50v2.8 M245.03,682.50v2.8 M247.16,682.50v2.8 M248.81,682.50v2.8 M250.15,682.50v2.8 M251.29,682.50v2.8 M252.28,682.50v2.8 M253.15,682.50v2.8 M253.93,682.50v3.2 M259.06,682.50v2.8 M262.06,682.50v2.8 M264.19,682.50v2.8 M265.84,682.50v2.8 M267.19,682.50v2.8 M268.33,682.50v2.8 M269.32,682.50v2.8 M270.19,682.50v2.8 M270.97,682.50v3.2 M276.09,682.50v2.8 M279.09,682.50v2.8 M281.22,682.50v2.8 M282.87,682.50v2.8 M284.22,682.50v2.8 M285.36,682.50v2.8 M286.35,682.50v2.8 M287.22,682.50v2.8 M288.00,682.50v3.2" fill="none" stroke="#2828e6" stroke-width="0.9"/>
<text x="169.30" y="684.20" font-size="7.4" fill="#222">10<tspan font-size="4.59" dy="-3.11">1</tspan></text>
<text x="169.30" y="670.83" font-size="7.4" fill="#222">10<tspan font-size="4.59" dy="-3.11">2</tspan></text>
<text x="169.30" y="657.47" font-size="7.4" fill="#222">10<tspan font-size="4.59" dy="-3.11">3</tspan></text>
<text x="169.30" y="644.10" font-size="7.4" fill="#222">10<tspan font-size="4.59" dy="-3.11">4</tspan></text>
<text x="169.30" y="630.73" font-size="7.4" fill="#222">10<tspan font-size="4.59" dy="-3.11">5</tspan></text>
<text x="169.30" y="617.37" font-size="7.4" fill="#222">10<tspan font-size="4.59" dy="-3.11">6</tspan></text>
<text x="169.30" y="604.00" font-size="7.4" fill="#222">10<tspan font-size="4.59" dy="-3.11">7</tspan></text>
<text x="179.60" y="694.50" font-size="7.4" fill="#222">10<tspan font-size="4.59" dy="-3.11">1</tspan></text>
<text x="196.63" y="694.50" font-size="7.4" fill="#222">10<tspan font-size="4.59" dy="-3.11">2</tspan></text>
<text x="213.67" y="694.50" font-size="7.4" fill="#222">10<tspan font-size="4.59" dy="-3.11">3</tspan></text>
<text x="230.70" y="694.50" font-size="7.4" fill="#222">10<tspan font-size="4.59" dy="-3.11">4</tspan></text>
<text x="247.73" y="694.50" font-size="7.4" fill="#222">10<tspan font-size="4.59" dy="-3.11">5</tspan></text>
<text x="264.77" y="694.50" font-size="7.4" fill="#222">10<tspan font-size="4.59" dy="-3.11">6</tspan></text>
<text x="281.80" y="694.50" font-size="7.4" fill="#222">10<tspan font-size="4.59" dy="-3.11">7</tspan></text>
<text x="187.40" y="595.00" font-size="11.2">si-RBCK1+si-P53</text>
<ellipse cx="275.40" cy="617.81" rx="7.18" ry="9.21" fill="#000"/>
<ellipse cx="275.10" cy="624.12" rx="5.18" ry="5.33" fill="#000"/>
<path d="M275.6,620.7h.9v.9h-.9zM273.6,620.1h.9v.9h-.9zM279.0,620.4h.9v.9h-.9zM281.5,613.8h.9v.9h-.9zM275.7,614.7h.9v.9h-.9zM272.3,617.4h.9v.9h-.9zM276.3,620.4h.9v.9h-.9zM277.4,629.7h.9v.9h-.9zM278.8,610.2h.9v.9h-.9zM276.2,615.1h.9v.9h-.9zM273.4,625.0h.9v.9h-.9zM274.5,608.3h.9v.9h-.9zM276.6,616.8h.9v.9h-.9zM270.8,613.6h.9v.9h-.9zM273.0,618.2h.9v.9h-.9zM273.7,618.7h.9v.9h-.9zM282.6,614.2h.9v.9h-.9zM272.3,617.0h.9v.9h-.9zM279.7,614.7h.9v.9h-.9zM281.0,611.6h.9v.9h-.9zM271.4,618.0h.9v.9h-.9zM272.0,615.1h.9v.9h-.9zM277.2,622.0h.9v.9h-.9zM275.8,616.9h.9v.9h-.9zM280.6,620.4h.9v.9h-.9zM274.5,624.5h.9v.9h-.9zM271.9,619.1h.9v.9h-.9zM278.0,618.2h.9v.9h-.9zM273.2,620.1h.9v.9h-.9zM273.3,615.3h.9v.9h-.9zM271.4,625.0h.9v.9h-.9zM273.3,624.2h.9v.9h-.9zM276.9,617.0h.9v.9h-.9zM278.0,619.7h.9v.9h-.9zM275.9,611.3h.9v.9h-.9zM275.7,622.9h.9v.9h-.9zM277.3,623.4h.9v.9h-.9zM281.2,620.4h.9v.9h-.9zM274.5,605.4h.9v.9h-.9zM278.6,618.8h.9v.9h-.9zM282.0,616.4h.9v.9h-.9zM267.5,624.8h.9v.9h-.9zM270.2,611.8h.9v.9h-.9zM274.7,621.5h.9v.9h-.9zM273.4,619.3h.9v.9h-.9zM268.1,627.1h.9v.9h-.9zM275.1,618.9h.9v.9h-.9zM277.7,619.2h.9v.9h-.9zM276.2,613.6h.9v.9h-.9zM275.0,620.5h.9v.9h-.9zM279.5,617.7h.9v.9h-.9zM275.8,620.0h.9v.9h-.9zM277.6,619.4h.9v.9h-.9zM274.4,615.7h.9v.9h-.9zM279.8,619.8h.9v.9h-.9zM275.5,636.1h.9v.9h-.9zM278.8,622.7h.9v.9h-.9zM276.0,613.1h.9v.9h-.9zM279.8,617.8h.9v.9h-.9zM275.6,623.5h.9v.9h-.9zM279.4,619.5h.9v.9h-.9zM275.5,629.0h.9v.9h-.9zM277.6,613.1h.9v.9h-.9zM278.3,619.1h.9v.9h-.9zM275.5,621.8h.9v.9h-.9zM276.3,628.5h.9v.9h-.9zM276.2,619.6h.9v.9h-.9zM279.9,615.4h.9v.9h-.9zM279.3,618.0h.9v.9h-.9zM280.0,614.0h.9v.9h-.9zM277.0,610.1h.9v.9h-.9zM273.7,618.4h.9v.9h-.9zM277.3,628.4h.9v.9h-.9zM282.6,611.5h.9v.9h-.9zM272.5,624.7h.9v.9h-.9zM277.1,611.3h.9v.9h-.9zM277.3,612.6h.9v.9h-.9zM272.1,611.9h.9v.9h-.9zM274.4,629.8h.9v.9h-.9zM276.9,617.8h.9v.9h-.9zM285.2,615.9h.9v.9h-.9zM274.8,617.0h.9v.9h-.9zM277.0,616.7h.9v.9h-.9zM281.1,616.8h.9v.9h-.9zM277.6,619.4h.9v.9h-.9zM272.1,613.3h.9v.9h-.9zM275.2,606.6h.9v.9h-.9zM275.5,618.7h.9v.9h-.9zM276.0,617.9h.9v.9h-.9zM276.8,616.5h.9v.9h-.9zM277.9,610.0h.9v.9h-.9zM278.9,613.8h.9v.9h-.9zM277.3,615.9h.9v.9h-.9zM273.7,614.3h.9v.9h-.9zM280.6,612.8h.9v.9h-.9zM270.7,619.4h.9v.9h-.9zM276.4,618.5h.9v.9h-.9zM271.7,615.0h.9v.9h-.9zM278.9,613.1h.9v.9h-.9zM277.8,622.0h.9v.9h-.9zM275.9,612.1h.9v.9h-.9zM282.8,618.9h.9v.9h-.9zM276.2,616.4h.9v.9h-.9zM271.7,617.0h.9v.9h-.9zM276.2,614.0h.9v.9h-.9zM275.9,624.2h.9v.9h-.9zM277.1,617.8h.9v.9h-.9zM279.5,623.0h.9v.9h-.9zM278.9,614.3h.9v.9h-.9zM268.4,622.4h.9v.9h-.9zM275.6,616.4h.9v.9h-.9zM277.3,616.0h.9v.9h-.9zM273.0,627.5h.9v.9h-.9zM269.2,622.6h.9v.9h-.9zM279.3,627.3h.9v.9h-.9zM276.4,620.9h.9v.9h-.9zM271.9,618.5h.9v.9h-.9zM267.3,615.4h.9v.9h-.9zM275.3,617.8h.9v.9h-.9zM273.5,624.2h.9v.9h-.9zM269.2,619.0h.9v.9h-.9zM273.9,618.5h.9v.9h-.9zM275.6,628.2h.9v.9h-.9zM271.3,625.1h.9v.9h-.9zM280.8,617.7h.9v.9h-.9zM273.0,612.0h.9v.9h-.9zM272.1,628.7h.9v.9h-.9zM267.0,620.6h.9v.9h-.9zM272.7,627.9h.9v.9h-.9zM276.6,611.5h.9v.9h-.9zM273.4,619.3h.9v.9h-.9zM275.9,613.5h.9v.9h-.9zM274.3,616.0h.9v.9h-.9zM277.3,619.7h.9v.9h-.9zM276.3,615.3h.9v.9h-.9zM278.5,615.5h.9v.9h-.9zM272.2,616.1h.9v.9h-.9zM274.1,616.7h.9v.9h-.9zM267.9,625.2h.9v.9h-.9zM277.8,625.0h.9v.9h-.9zM273.9,622.1h.9v.9h-.9zM276.2,618.4h.9v.9h-.9zM282.4,615.3h.9v.9h-.9zM277.6,609.5h.9v.9h-.9zM277.6,617.4h.9v.9h-.9zM271.5,615.3h.9v.9h-.9zM267.2,612.9h.9v.9h-.9zM276.1,604.9h.9v.9h-.9zM279.6,623.3h.9v.9h-.9zM272.5,610.8h.9v.9h-.9zM270.0,611.8h.9v.9h-.9zM272.5,629.4h.9v.9h-.9zM271.0,622.1h.9v.9h-.9zM280.2,613.5h.9v.9h-.9zM274.4,621.7h.9v.9h-.9zM272.9,624.7h.9v.9h-.9zM283.7,618.1h.9v.9h-.9zM272.2,621.3h.9v.9h-.9zM276.7,614.5h.9v.9h-.9zM274.9,618.7h.9v.9h-.9zM277.4,624.1h.9v.9h-.9zM273.5,611.7h.9v.9h-.9zM269.1,627.7h.9v.9h-.9zM273.8,616.2h.9v.9h-.9zM285.0,624.0h.9v.9h-.9zM284.1,617.4h.9v.9h-.9zM272.7,615.6h.9v.9h-.9zM277.9,620.4h.9v.9h-.9zM277.0,629.8h.9v.9h-.9zM280.7,612.8h.9v.9h-.9zM277.1,621.3h.9v.9h-.9zM272.5,630.1h.9v.9h-.9zM279.0,626.0h.9v.9h-.9zM273.3,612.5h.9v.9h-.9zM278.3,617.3h.9v.9h-.9zM273.1,617.8h.9v.9h-.9zM276.2,619.0h.9v.9h-.9zM274.6,620.7h.9v.9h-.9zM286.7,624.3h.9v.9h-.9zM273.4,628.7h.9v.9h-.9zM273.5,610.4h.9v.9h-.9zM279.9,612.7h.9v.9h-.9zM269.8,615.4h.9v.9h-.9zM274.6,611.9h.9v.9h-.9zM273.1,618.3h.9v.9h-.9zM277.9,613.4h.9v.9h-.9zM277.6,619.6h.9v.9h-.9zM277.5,615.5h.9v.9h-.9zM270.8,623.2h.9v.9h-.9zM277.6,614.8h.9v.9h-.9zM272.3,621.8h.9v.9h-.9zM283.2,620.1h.9v.9h-.9zM285.2,619.8h.9v.9h-.9zM276.7,620.7h.9v.9h-.9zM276.0,624.7h.9v.9h-.9zM269.3,619.5h.9v.9h-.9zM278.3,627.1h.9v.9h-.9zM281.5,618.1h.9v.9h-.9zM283.5,612.6h.9v.9h-.9zM269.9,625.1h.9v.9h-.9zM278.0,612.4h.9v.9h-.9zM279.6,622.7h.9v.9h-.9zM278.2,616.0h.9v.9h-.9zM274.5,617.5h.9v.9h-.9zM273.4,615.4h.9v.9h-.9zM279.0,612.4h.9v.9h-.9zM272.5,628.5h.9v.9h-.9zM272.9,615.0h.9v.9h-.9zM281.7,611.7h.9v.9h-.9zM272.1,611.7h.9v.9h-.9zM271.6,614.5h.9v.9h-.9zM279.0,617.9h.9v.9h-.9zM280.8,622.3h.9v.9h-.9zM270.5,618.4h.9v.9h-.9zM273.0,616.1h.9v.9h-.9zM275.9,620.2h.9v.9h-.9zM277.1,607.4h.9v.9h-.9zM274.8,615.9h.9v.9h-.9zM282.6,617.0h.9v.9h-.9zM275.2,618.3h.9v.9h-.9zM278.4,612.4h.9v.9h-.9zM274.9,617.6h.9v.9h-.9zM275.3,617.0h.9v.9h-.9zM273.2,618.7h.9v.9h-.9zM270.2,626.6h.9v.9h-.9zM275.3,608.9h.9v.9h-.9zM274.2,623.1h.9v.9h-.9zM274.6,617.5h.9v.9h-.9zM266.4,625.6h.9v.9h-.9zM275.6,608.1h.9v.9h-.9zM273.6,625.8h.9v.9h-.9zM276.9,610.6h.9v.9h-.9zM273.2,619.5h.9v.9h-.9zM283.5,619.5h.9v.9h-.9zM278.2,616.6h.9v.9h-.9zM275.5,613.1h.9v.9h-.9zM270.2,611.3h.9v.9h-.9zM273.1,624.7h.9v.9h-.9zM275.2,624.4h.9v.9h-.9zM278.4,619.1h.9v.9h-.9zM273.4,629.3h.9v.9h-.9zM279.8,624.7h.9v.9h-.9zM285.2,626.1h.9v.9h-.9zM276.3,620.2h.9v.9h-.9zM277.6,629.8h.9v.9h-.9zM273.5,618.3h.9v.9h-.9zM273.1,623.0h.9v.9h-.9zM277.7,618.1h.9v.9h-.9zM275.7,628.1h.9v.9h-.9zM283.2,627.2h.9v.9h-.9zM273.9,624.6h.9v.9h-.9zM282.1,622.8h.9v.9h-.9zM278.1,625.6h.9v.9h-.9zM281.9,619.8h.9v.9h-.9zM276.5,621.4h.9v.9h-.9zM278.8,619.3h.9v.9h-.9zM270.2,631.1h.9v.9h-.9zM272.5,615.3h.9v.9h-.9zM277.8,618.1h.9v.9h-.9zM277.5,630.8h.9v.9h-.9zM281.0,616.0h.9v.9h-.9zM276.7,618.1h.9v.9h-.9zM280.4,613.8h.9v.9h-.9zM271.7,609.7h.9v.9h-.9zM277.5,620.4h.9v.9h-.9zM278.3,622.7h.9v.9h-.9zM270.7,616.5h.9v.9h-.9zM271.2,624.7h.9v.9h-.9zM278.9,611.0h.9v.9h-.9zM277.6,619.0h.9v.9h-.9zM276.0,622.0h.9v.9h-.9zM273.1,616.8h.9v.9h-.9zM272.9,615.0h.9v.9h-.9zM271.4,624.4h.9v.9h-.9zM277.8,617.2h.9v.9h-.9zM269.0,630.1h.9v.9h-.9zM275.6,619.5h.9v.9h-.9zM278.0,627.2h.9v.9h-.9zM274.3,606.3h.9v.9h-.9zM274.3,618.3h.9v.9h-.9zM273.3,625.9h.9v.9h-.9zM273.7,620.0h.9v.9h-.9zM272.3,622.3h.9v.9h-.9zM272.8,622.7h.9v.9h-.9zM276.0,619.2h.9v.9h-.9zM276.7,610.2h.9v.9h-.9zM273.7,619.5h.9v.9h-.9zM274.0,624.6h.9v.9h-.9zM278.9,614.7h.9v.9h-.9zM280.1,617.3h.9v.9h-.9zM277.7,624.7h.9v.9h-.9zM271.1,614.2h.9v.9h-.9zM275.3,617.2h.9v.9h-.9zM269.0,621.8h.9v.9h-.9zM276.1,619.5h.9v.9h-.9zM276.7,622.1h.9v.9h-.9zM272.3,620.1h.9v.9h-.9zM273.8,616.0h.9v.9h-.9zM272.1,624.6h.9v.9h-.9zM265.9,614.8h.9v.9h-.9zM278.2,616.8h.9v.9h-.9zM272.9,623.8h.9v.9h-.9zM271.8,617.0h.9v.9h-.9zM277.1,615.7h.9v.9h-.9zM273.5,618.8h.9v.9h-.9zM279.3,613.7h.9v.9h-.9zM277.6,618.1h.9v.9h-.9zM274.1,611.6h.9v.9h-.9zM282.2,621.3h.9v.9h-.9zM276.5,616.8h.9v.9h-.9zM281.8,615.1h.9v.9h-.9zM271.5,614.4h.9v.9h-.9zM275.3,620.0h.9v.9h-.9zM267.7,619.9h.9v.9h-.9zM276.5,623.9h.9v.9h-.9zM274.2,626.0h.9v.9h-.9zM283.3,615.6h.9v.9h-.9zM274.4,623.5h.9v.9h-.9zM280.2,618.4h.9v.9h-.9zM279.1,620.7h.9v.9h-.9zM279.0,620.9h.9v.9h-.9zM278.1,616.1h.9v.9h-.9zM276.5,615.2h.9v.9h-.9zM283.1,612.6h.9v.9h-.9zM276.0,618.3h.9v.9h-.9zM278.6,618.4h.9v.9h-.9zM271.3,617.7h.9v.9h-.9zM280.1,622.3h.9v.9h-.9zM272.7,612.0h.9v.9h-.9zM270.5,617.9h.9v.9h-.9zM274.9,616.6h.9v.9h-.9zM273.5,619.4h.9v.9h-.9zM280.6,623.6h.9v.9h-.9zM273.8,622.5h.9v.9h-.9zM274.5,625.0h.9v.9h-.9zM279.5,623.2h.9v.9h-.9zM284.2,623.7h.9v.9h-.9zM279.1,625.6h.9v.9h-.9zM271.5,616.8h.9v.9h-.9zM274.2,622.8h.9v.9h-.9zM275.7,612.1h.9v.9h-.9zM272.5,617.4h.9v.9h-.9zM273.7,616.1h.9v.9h-.9zM269.8,619.1h.9v.9h-.9zM270.5,616.5h.9v.9h-.9zM273.1,616.9h.9v.9h-.9zM281.1,616.3h.9v.9h-.9zM273.9,605.7h.9v.9h-.9zM272.1,619.7h.9v.9h-.9zM274.3,622.5h.9v.9h-.9zM274.3,622.5h.9v.9h-.9zM276.5,624.0h.9v.9h-.9zM274.4,623.0h.9v.9h-.9zM273.6,614.5h.9v.9h-.9zM279.9,611.4h.9v.9h-.9zM271.9,626.8h.9v.9h-.9zM276.2,620.4h.9v.9h-.9zM276.4,618.3h.9v.9h-.9zM283.2,618.7h.9v.9h-.9zM281.1,618.4h.9v.9h-.9zM272.8,617.1h.9v.9h-.9zM275.7,631.6h.9v.9h-.9zM273.1,620.7h.9v.9h-.9zM269.5,621.3h.9v.9h-.9zM275.0,620.4h.9v.9h-.9zM275.8,616.1h.9v.9h-.9zM275.8,618.5h.9v.9h-.9zM279.6,618.1h.9v.9h-.9zM275.0,611.8h.9v.9h-.9zM278.9,617.6h.9v.9h-.9zM272.0,624.6h.9v.9h-.9zM279.1,618.3h.9v.9h-.9zM275.7,611.7h.9v.9h-.9zM266.3,619.1h.9v.9h-.9zM269.6,621.7h.9v.9h-.9zM274.1,619.7h.9v.9h-.9zM273.4,620.6h.9v.9h-.9zM278.5,619.0h.9v.9h-.9zM278.4,622.3h.9v.9h-.9zM274.9,609.7h.9v.9h-.9zM277.9,615.3h.9v.9h-.9zM268.6,625.2h.9v.9h-.9zM282.4,625.2h.9v.9h-.9zM278.4,611.3h.9v.9h-.9zM269.7,621.5h.9v.9h-.9zM279.1,613.7h.9v.9h-.9zM274.6,622.8h.9v.9h-.9zM283.2,620.6h.9v.9h-.9zM271.4,612.8h.9v.9h-.9zM275.6,621.6h.9v.9h-.9zM267.5,619.7h.9v.9h-.9zM272.9,622.5h.9v.9h-.9zM268.9,623.2h.9v.9h-.9zM281.0,625.5h.9v.9h-.9zM281.4,618.9h.9v.9h-.9zM275.8,612.6h.9v.9h-.9zM275.2,614.2h.9v.9h-.9zM277.7,622.0h.9v.9h-.9zM274.8,626.4h.9v.9h-.9zM270.1,615.4h.9v.9h-.9zM282.0,617.0h.9v.9h-.9zM278.1,605.2h.9v.9h-.9zM281.2,614.7h.9v.9h-.9zM272.7,623.3h.9v.9h-.9zM275.6,609.3h.9v.9h-.9zM280.6,613.4h.9v.9h-.9zM273.9,614.9h.9v.9h-.9zM273.6,616.0h.9v.9h-.9zM273.9,615.8h.9v.9h-.9zM285.1,619.7h.9v.9h-.9zM277.7,615.1h.9v.9h-.9zM282.3,620.9h.9v.9h-.9zM275.7,615.4h.9v.9h-.9zM278.4,609.4h.9v.9h-.9zM272.6,616.5h.9v.9h-.9zM276.7,618.9h.9v.9h-.9zM269.6,621.3h.9v.9h-.9zM273.6,615.5h.9v.9h-.9zM275.8,616.5h.9v.9h-.9zM273.6,616.2h.9v.9h-.9zM278.0,618.4h.9v.9h-.9zM276.2,614.9h.9v.9h-.9zM279.9,618.8h.9v.9h-.9zM272.4,623.7h.9v.9h-.9zM270.0,614.6h.9v.9h-.9zM278.5,615.9h.9v.9h-.9zM274.1,616.4h.9v.9h-.9zM275.4,620.6h.9v.9h-.9zM277.7,614.8h.9v.9h-.9zM273.4,608.2h.9v.9h-.9zM273.4,620.6h.9v.9h-.9zM275.5,624.2h.9v.9h-.9zM274.3,619.6h.9v.9h-.9zM278.7,612.4h.9v.9h-.9zM280.6,611.2h.9v.9h-.9zM274.3,608.9h.9v.9h-.9zM274.2,613.1h.9v.9h-.9zM279.0,607.9h.9v.9h-.9zM277.1,620.1h.9v.9h-.9zM277.5,623.2h.9v.9h-.9zM278.5,613.6h.9v.9h-.9zM277.7,614.5h.9v.9h-.9zM272.7,616.8h.9v.9h-.9zM273.4,615.2h.9v.9h-.9zM279.3,618.5h.9v.9h-.9zM268.0,614.2h.9v.9h-.9zM273.4,629.7h.9v.9h-.9zM276.3,615.5h.9v.9h-.9zM277.0,606.5h.9v.9h-.9zM281.2,616.4h.9v.9h-.9zM271.6,622.4h.9v.9h-.9zM272.3,612.6h.9v.9h-.9zM278.4,628.1h.9v.9h-.9zM274.0,617.8h.9v.9h-.9zM274.8,620.3h.9v.9h-.9zM273.7,618.9h.9v.9h-.9zM272.3,617.5h.9v.9h-.9zM278.5,610.6h.9v.9h-.9zM278.1,626.9h.9v.9h-.9zM272.7,616.3h.9v.9h-.9zM275.8,618.0h.9v.9h-.9zM271.2,622.4h.9v.9h-.9zM277.8,623.4h.9v.9h-.9zM278.1,615.2h.9v.9h-.9zM274.7,615.1h.9v.9h-.9zM285.3,616.3h.9v.9h-.9zM278.8,625.8h.9v.9h-.9zM274.9,619.4h.9v.9h-.9zM276.9,626.3h.9v.9h-.9zM270.7,619.7h.9v.9h-.9zM277.1,620.6h.9v.9h-.9zM272.3,622.9h.9v.9h-.9zM277.2,613.3h.9v.9h-.9zM271.3,628.3h.9v.9h-.9zM273.0,610.3h.9v.9h-.9zM276.9,612.8h.9v.9h-.9zM275.3,620.8h.9v.9h-.9zM271.8,611.2h.9v.9h-.9zM282.5,611.7h.9v.9h-.9zM270.9,618.2h.9v.9h-.9zM277.0,617.8h.9v.9h-.9zM271.9,622.8h.9v.9h-.9zM271.1,614.1h.9v.9h-.9zM277.9,623.4h.9v.9h-.9zM277.1,622.8h.9v.9h-.9zM276.9,622.3h.9v.9h-.9zM272.7,614.6h.9v.9h-.9zM277.6,623.3h.9v.9h-.9zM273.8,614.5h.9v.9h-.9zM274.8,623.7h.9v.9h-.9zM275.0,617.0h.9v.9h-.9zM274.8,616.8h.9v.9h-.9zM277.4,616.2h.9v.9h-.9zM275.9,617.1h.9v.9h-.9zM272.4,618.5h.9v.9h-.9zM276.5,609.7h.9v.9h-.9zM276.3,619.5h.9v.9h-.9zM274.9,613.0h.9v.9h-.9zM272.9,621.7h.9v.9h-.9zM272.0,623.3h.9v.9h-.9zM273.8,620.0h.9v.9h-.9zM263.9,621.0h.9v.9h-.9zM276.0,610.2h.9v.9h-.9zM279.2,615.9h.9v.9h-.9zM270.9,625.2h.9v.9h-.9zM280.7,623.5h.9v.9h-.9zM278.7,624.0h.9v.9h-.9zM268.7,617.5h.9v.9h-.9zM280.8,621.2h.9v.9h-.9zM275.9,617.0h.9v.9h-.9zM274.1,614.5h.9v.9h-.9zM275.0,604.1h.9v.9h-.9zM279.4,618.4h.9v.9h-.9zM264.4,618.4h.9v.9h-.9zM276.2,617.7h.9v.9h-.9zM278.0,622.3h.9v.9h-.9zM277.7,609.8h.9v.9h-.9zM267.1,614.4h.9v.9h-.9zM278.8,608.8h.9v.9h-.9zM273.4,615.3h.9v.9h-.9zM274.8,610.2h.9v.9h-.9zM277.5,616.9h.9v.9h-.9zM278.9,618.9h.9v.9h-.9zM275.3,623.3h.9v.9h-.9zM280.4,620.9h.9v.9h-.9zM272.7,620.1h.9v.9h-.9zM279.5,622.3h.9v.9h-.9zM281.7,624.2h.9v.9h-.9zM274.0,629.1h.9v.9h-.9zM278.2,621.9h.9v.9h-.9zM276.2,612.2h.9v.9h-.9zM267.8,621.7h.9v.9h-.9zM279.3,626.8h.9v.9h-.9zM272.2,617.9h.9v.9h-.9zM273.6,621.6h.9v.9h-.9zM272.6,614.2h.9v.9h-.9zM269.8,617.5h.9v.9h-.9zM279.2,612.2h.9v.9h-.9zM273.8,625.5h.9v.9h-.9zM272.4,607.9h.9v.9h-.9zM271.8,622.4h.9v.9h-.9zM275.5,613.7h.9v.9h-.9zM272.9,624.6h.9v.9h-.9zM270.1,625.4h.9v.9h-.9zM273.8,621.3h.9v.9h-.9zM271.3,613.9h.9v.9h-.9zM284.7,617.6h.9v.9h-.9zM271.7,620.9h.9v.9h-.9zM272.7,613.4h.9v.9h-.9zM272.0,615.6h.9v.9h-.9zM277.0,610.1h.9v.9h-.9zM277.7,615.8h.9v.9h-.9zM277.8,617.1h.9v.9h-.9zM279.1,621.8h.9v.9h-.9zM277.0,621.6h.9v.9h-.9zM273.7,616.5h.9v.9h-.9zM272.4,621.2h.9v.9h-.9zM276.9,617.6h.9v.9h-.9zM271.0,617.9h.9v.9h-.9zM277.3,622.3h.9v.9h-.9zM273.0,621.9h.9v.9h-.9zM270.7,616.0h.9v.9h-.9zM271.3,619.5h.9v.9h-.9zM271.9,614.6h.9v.9h-.9zM279.4,623.6h.9v.9h-.9zM269.0,623.7h.9v.9h-.9zM278.7,623.0h.9v.9h-.9zM273.7,625.2h.9v.9h-.9zM277.7,611.6h.9v.9h-.9zM267.3,613.2h.9v.9h-.9zM277.3,634.9h.9v.9h-.9zM270.3,621.0h.9v.9h-.9zM276.1,619.2h.9v.9h-.9zM278.0,623.7h.9v.9h-.9zM275.8,627.4h.9v.9h-.9zM278.6,624.5h.9v.9h-.9zM280.2,613.7h.9v.9h-.9zM281.8,613.9h.9v.9h-.9zM276.1,617.2h.9v.9h-.9zM272.1,618.0h.9v.9h-.9zM269.6,621.4h.9v.9h-.9zM275.1,614.9h.9v.9h-.9zM276.1,620.0h.9v.9h-.9zM274.9,608.8h.9v.9h-.9zM277.2,619.8h.9v.9h-.9zM283.1,630.1h.9v.9h-.9zM280.0,621.2h.9v.9h-.9zM277.8,643.9h.9v.9h-.9zM279.1,628.4h.9v.9h-.9zM273.7,635.8h.9v.9h-.9zM275.8,644.7h.9v.9h-.9zM279.3,631.9h.9v.9h-.9zM274.9,647.3h.9v.9h-.9zM275.7,636.2h.9v.9h-.9zM275.5,648.7h.9v.9h-.9zM276.9,636.5h.9v.9h-.9zM270.3,628.8h.9v.9h-.9zM274.7,637.8h.9v.9h-.9zM274.6,632.9h.9v.9h-.9zM269.9,646.1h.9v.9h-.9zM273.8,625.2h.9v.9h-.9zM271.8,629.9h.9v.9h-.9zM275.2,642.8h.9v.9h-.9zM272.2,631.7h.9v.9h-.9zM273.9,636.8h.9v.9h-.9zM273.5,634.0h.9v.9h-.9zM277.0,643.4h.9v.9h-.9zM274.9,628.7h.9v.9h-.9zM272.7,648.5h.9v.9h-.9zM273.1,626.5h.9v.9h-.9zM276.9,644.0h.9v.9h-.9zM275.2,638.7h.9v.9h-.9zM277.7,639.1h.9v.9h-.9zM276.0,630.6h.9v.9h-.9zM276.8,638.3h.9v.9h-.9zM275.8,636.4h.9v.9h-.9zM274.3,631.4h.9v.9h-.9zM273.6,625.7h.9v.9h-.9zM274.6,626.7h.9v.9h-.9zM278.1,633.5h.9v.9h-.9zM279.5,626.0h.9v.9h-.9zM275.5,627.2h.9v.9h-.9zM273.2,627.7h.9v.9h-.9zM270.1,640.5h.9v.9h-.9zM273.1,643.6h.9v.9h-.9zM278.3,647.4h.9v.9h-.9zM276.9,630.8h.9v.9h-.9zM277.3,627.5h.9v.9h-.9zM272.9,646.0h.9v.9h-.9zM271.9,625.2h.9v.9h-.9zM276.9,640.6h.9v.9h-.9zM277.4,631.5h.9v.9h-.9zM274.0,628.7h.9v.9h-.9zM276.6,626.2h.9v.9h-.9zM278.7,638.7h.9v.9h-.9zM272.5,626.2h.9v.9h-.9zM275.7,648.3h.9v.9h-.9zM276.2,631.7h.9v.9h-.9zM273.1,644.7h.9v.9h-.9zM277.6,625.0h.9v.9h-.9zM278.8,632.7h.9v.9h-.9zM273.5,632.6h.9v.9h-.9zM273.4,636.4h.9v.9h-.9zM271.6,629.5h.9v.9h-.9zM273.2,627.9h.9v.9h-.9zM279.7,639.7h.9v.9h-.9zM268.3,625.2h.9v.9h-.9zM276.3,630.2h.9v.9h-.9zM276.9,631.2h.9v.9h-.9zM279.4,640.3h.9v.9h-.9zM279.5,642.7h.9v.9h-.9zM275.5,647.6h.9v.9h-.9zM273.3,638.2h.9v.9h-.9zM274.6,633.8h.9v.9h-.9zM280.3,628.3h.9v.9h-.9zM277.8,642.5h.9v.9h-.9zM273.6,625.7h.9v.9h-.9zM276.3,641.6h.9v.9h-.9zM276.8,643.9h.9v.9h-.9zM275.2,626.8h.9v.9h-.9zM278.5,638.4h.9v.9h-.9zM275.0,626.3h.9v.9h-.9zM276.3,627.1h.9v.9h-.9zM272.7,639.2h.9v.9h-.9zM272.0,644.8h.9v.9h-.9zM274.7,625.0h.9v.9h-.9zM279.3,628.8h.9v.9h-.9zM276.8,648.0h.9v.9h-.9zM283.2,638.7h.9v.9h-.9zM278.4,636.9h.9v.9h-.9zM274.3,628.4h.9v.9h-.9zM274.9,630.4h.9v.9h-.9zM269.8,635.5h.9v.9h-.9zM272.6,640.8h.9v.9h-.9zM271.4,625.6h.9v.9h-.9zM272.6,642.2h.9v.9h-.9zM274.9,625.6h.9v.9h-.9zM275.9,634.8h.9v.9h-.9zM278.1,633.1h.9v.9h-.9zM275.5,626.4h.9v.9h-.9zM276.5,628.6h.9v.9h-.9zM275.5,642.1h.9v.9h-.9zM277.5,625.7h.9v.9h-.9zM275.3,634.8h.9v.9h-.9zM273.3,641.8h.9v.9h-.9zM276.3,625.0h.9v.9h-.9zM276.3,640.6h.9v.9h-.9zM275.2,625.3h.9v.9h-.9zM273.5,627.7h.9v.9h-.9zM276.4,625.4h.9v.9h-.9zM272.4,646.1h.9v.9h-.9zM272.2,637.4h.9v.9h-.9zM274.1,633.5h.9v.9h-.9zM277.5,634.0h.9v.9h-.9zM275.0,626.1h.9v.9h-.9zM273.5,648.9h.9v.9h-.9zM271.6,631.1h.9v.9h-.9zM276.2,625.0h.9v.9h-.9zM280.3,627.3h.9v.9h-.9zM273.6,634.7h.9v.9h-.9zM275.5,625.1h.9v.9h-.9zM274.9,625.2h.9v.9h-.9zM273.3,632.2h.9v.9h-.9zM275.5,633.9h.9v.9h-.9zM273.7,630.2h.9v.9h-.9zM273.6,639.5h.9v.9h-.9zM272.5,635.8h.9v.9h-.9zM278.2,640.6h.9v.9h-.9zM273.1,625.4h.9v.9h-.9zM273.4,625.6h.9v.9h-.9zM271.7,630.6h.9v.9h-.9zM276.0,637.5h.9v.9h-.9zM278.1,629.2h.9v.9h-.9zM277.9,639.3h.9v.9h-.9zM274.9,625.4h.9v.9h-.9zM281.4,629.0h.9v.9h-.9zM268.9,625.1h.9v.9h-.9zM269.6,628.4h.9v.9h-.9zM276.3,633.7h.9v.9h-.9zM280.0,630.2h.9v.9h-.9zM274.5,644.8h.9v.9h-.9zM280.2,641.4h.9v.9h-.9zM274.9,640.4h.9v.9h-.9zM272.4,632.0h.9v.9h-.9zM268.2,646.8h.9v.9h-.9zM273.7,644.9h.9v.9h-.9zM272.5,630.0h.9v.9h-.9zM279.4,629.4h.9v.9h-.9zM274.0,641.0h.9v.9h-.9zM278.1,636.6h.9v.9h-.9zM277.2,628.6h.9v.9h-.9zM274.2,647.7h.9v.9h-.9zM272.8,632.2h.9v.9h-.9zM270.3,644.6h.9v.9h-.9zM274.6,628.9h.9v.9h-.9zM275.6,630.2h.9v.9h-.9zM273.4,636.9h.9v.9h-.9zM279.4,642.6h.9v.9h-.9zM275.3,635.0h.9v.9h-.9zM277.3,648.7h.9v.9h-.9zM269.7,632.5h.9v.9h-.9zM276.0,625.6h.9v.9h-.9zM274.2,638.0h.9v.9h-.9zM276.8,627.6h.9v.9h-.9zM271.5,632.2h.9v.9h-.9zM272.1,631.4h.9v.9h-.9zM285.9,633.4h.9v.9h-.9zM276.0,647.3h.9v.9h-.9zM275.8,626.0h.9v.9h-.9zM276.8,628.1h.9v.9h-.9zM275.3,632.4h.9v.9h-.9zM274.5,643.1h.9v.9h-.9zM277.5,626.5h.9v.9h-.9zM272.4,625.1h.9v.9h-.9zM273.7,626.5h.9v.9h-.9zM270.9,633.5h.9v.9h-.9zM275.4,626.9h.9v.9h-.9zM278.4,626.7h.9v.9h-.9zM272.0,639.6h.9v.9h-.9zM273.0,628.5h.9v.9h-.9zM273.9,637.0h.9v.9h-.9zM271.7,647.1h.9v.9h-.9zM275.7,637.7h.9v.9h-.9zM275.0,631.8h.9v.9h-.9zM275.9,641.8h.9v.9h-.9zM276.9,632.1h.9v.9h-.9zM272.9,644.2h.9v.9h-.9zM276.0,641.3h.9v.9h-.9zM280.0,625.1h.9v.9h-.9zM276.3,635.9h.9v.9h-.9zM271.1,627.6h.9v.9h-.9zM277.9,628.7h.9v.9h-.9zM281.2,634.3h.9v.9h-.9zM272.0,640.4h.9v.9h-.9zM275.6,646.6h.9v.9h-.9zM275.2,646.3h.9v.9h-.9zM270.6,644.5h.9v.9h-.9zM273.3,628.1h.9v.9h-.9zM280.3,636.8h.9v.9h-.9zM274.7,639.8h.9v.9h-.9zM272.8,625.5h.9v.9h-.9zM278.1,640.1h.9v.9h-.9zM272.9,628.1h.9v.9h-.9zM276.2,642.8h.9v.9h-.9zM277.2,633.9h.9v.9h-.9zM275.4,631.4h.9v.9h-.9zM274.8,646.1h.9v.9h-.9zM274.8,627.4h.9v.9h-.9zM275.4,629.1h.9v.9h-.9zM277.2,632.0h.9v.9h-.9zM274.8,625.6h.9v.9h-.9zM278.8,643.5h.9v.9h-.9zM273.8,632.3h.9v.9h-.9zM271.9,644.1h.9v.9h-.9zM276.1,630.3h.9v.9h-.9zM275.0,626.9h.9v.9h-.9zM277.9,625.2h.9v.9h-.9zM276.5,631.0h.9v.9h-.9zM270.1,625.6h.9v.9h-.9zM280.2,628.9h.9v.9h-.9zM270.4,628.0h.9v.9h-.9zM276.6,626.1h.9v.9h-.9zM273.3,636.3h.9v.9h-.9zM275.4,645.9h.9v.9h-.9zM277.9,633.7h.9v.9h-.9zM271.9,625.3h.9v.9h-.9zM275.3,630.3h.9v.9h-.9zM273.3,639.0h.9v.9h-.9zM271.7,641.6h.9v.9h-.9zM276.4,625.7h.9v.9h-.9zM277.4,626.0h.9v.9h-.9zM279.6,644.8h.9v.9h-.9zM270.6,629.4h.9v.9h-.9zM280.5,643.0h.9v.9h-.9zM273.2,642.7h.9v.9h-.9zM278.1,637.2h.9v.9h-.9zM275.6,627.1h.9v.9h-.9zM286.0,616.2h.9v.9h-.9zM282.1,614.9h.9v.9h-.9zM281.4,617.6h.9v.9h-.9zM278.9,610.9h.9v.9h-.9zM286.1,613.7h.9v.9h-.9zM286.0,621.8h.9v.9h-.9zM280.4,612.6h.9v.9h-.9zM285.2,624.9h.9v.9h-.9zM277.9,623.7h.9v.9h-.9zM278.1,629.6h.9v.9h-.9zM284.0,620.0h.9v.9h-.9zM281.1,622.4h.9v.9h-.9zM282.7,612.5h.9v.9h-.9zM282.6,633.0h.9v.9h-.9zM283.5,616.0h.9v.9h-.9zM285.8,616.4h.9v.9h-.9zM282.0,626.5h.9v.9h-.9zM278.8,635.1h.9v.9h-.9zM278.1,614.9h.9v.9h-.9zM284.1,628.2h.9v.9h-.9zM283.4,618.1h.9v.9h-.9zM281.3,618.7h.9v.9h-.9zM286.1,620.5h.9v.9h-.9zM286.0,613.5h.9v.9h-.9zM279.3,617.2h.9v.9h-.9zM286.2,618.0h.9v.9h-.9zM280.6,611.8h.9v.9h-.9zM281.0,617.1h.9v.9h-.9zM284.2,611.9h.9v.9h-.9zM278.7,617.2h.9v.9h-.9zM285.5,614.7h.9v.9h-.9zM285.2,612.1h.9v.9h-.9zM283.6,617.6h.9v.9h-.9zM283.4,622.7h.9v.9h-.9zM281.1,620.7h.9v.9h-.9zM282.2,631.4h.9v.9h-.9zM281.4,629.0h.9v.9h-.9zM284.4,617.0h.9v.9h-.9zM282.7,618.3h.9v.9h-.9zM279.9,622.1h.9v.9h-.9zM281.5,625.6h.9v.9h-.9zM279.1,605.7h.9v.9h-.9zM278.0,621.5h.9v.9h-.9zM282.9,621.9h.9v.9h-.9zM277.9,618.2h.9v.9h-.9zM285.4,626.2h.9v.9h-.9zM277.8,620.9h.9v.9h-.9zM278.6,615.1h.9v.9h-.9zM277.7,615.4h.9v.9h-.9zM282.5,610.7h.9v.9h-.9zM280.0,623.4h.9v.9h-.9zM280.6,610.1h.9v.9h-.9zM283.1,615.6h.9v.9h-.9zM280.1,625.1h.9v.9h-.9zM278.1,632.6h.9v.9h-.9zM282.7,604.8h.9v.9h-.9zM279.3,625.9h.9v.9h-.9zM284.6,614.9h.9v.9h-.9zM279.5,616.9h.9v.9h-.9zM278.8,609.0h.9v.9h-.9zM279.2,628.0h.9v.9h-.9zM279.5,626.1h.9v.9h-.9zM282.2,625.5h.9v.9h-.9zM279.8,622.8h.9v.9h-.9zM281.7,609.0h.9v.9h-.9zM284.4,626.8h.9v.9h-.9zM282.1,622.6h.9v.9h-.9zM282.4,626.2h.9v.9h-.9zM282.3,611.1h.9v.9h-.9zM285.2,624.8h.9v.9h-.9zM278.5,610.7h.9v.9h-.9zM280.3,610.8h.9v.9h-.9zM280.2,618.7h.9v.9h-.9zM283.9,621.0h.9v.9h-.9zM279.1,629.4h.9v.9h-.9zM278.3,608.8h.9v.9h-.9zM278.3,610.9h.9v.9h-.9zM282.3,633.4h.9v.9h-.9zM282.0,616.2h.9v.9h-.9zM286.3,632.4h.9v.9h-.9zM281.0,617.3h.9v.9h-.9zM278.7,626.9h.9v.9h-.9zM287.0,609.0h.9v.9h-.9zM280.2,613.2h.9v.9h-.9zM282.0,633.1h.9v.9h-.9zM278.1,630.0h.9v.9h-.9zM285.9,618.4h.9v.9h-.9zM279.8,614.5h.9v.9h-.9zM278.7,640.8h.9v.9h-.9zM278.4,625.9h.9v.9h-.9zM280.2,618.1h.9v.9h-.9zM279.7,615.7h.9v.9h-.9zM278.5,606.3h.9v.9h-.9zM281.5,627.1h.9v.9h-.9zM284.5,623.4h.9v.9h-.9zM280.5,618.4h.9v.9h-.9zM280.3,609.6h.9v.9h-.9zM281.0,629.5h.9v.9h-.9zM279.2,622.4h.9v.9h-.9zM278.8,617.4h.9v.9h-.9zM285.1,612.7h.9v.9h-.9zM279.1,638.7h.9v.9h-.9zM278.6,617.6h.9v.9h-.9zM278.0,615.5h.9v.9h-.9zM279.1,629.5h.9v.9h-.9zM286.5,600.0h.9v.9h-.9zM279.3,613.3h.9v.9h-.9zM280.6,617.1h.9v.9h-.9zM279.6,609.5h.9v.9h-.9zM279.0,615.6h.9v.9h-.9zM284.7,618.7h.9v.9h-.9zM287.0,621.7h.9v.9h-.9zM280.5,617.4h.9v.9h-.9zM283.3,609.4h.9v.9h-.9zM280.0,620.3h.9v.9h-.9zM286.3,605.6h.9v.9h-.9zM284.0,627.2h.9v.9h-.9zM278.8,618.1h.9v.9h-.9zM287.2,602.6h.9v.9h-.9zM280.3,618.0h.9v.9h-.9zM278.7,608.1h.9v.9h-.9zM278.9,620.8h.9v.9h-.9zM279.8,634.1h.9v.9h-.9zM285.7,620.3h.9v.9h-.9zM281.7,611.6h.9v.9h-.9zM278.3,604.3h.9v.9h-.9zM287.1,619.8h.9v.9h-.9zM285.4,620.0h.9v.9h-.9zM282.7,637.4h.9v.9h-.9zM282.4,630.4h.9v.9h-.9zM277.8,615.8h.9v.9h-.9zM278.1,629.1h.9v.9h-.9zM281.6,618.2h.9v.9h-.9zM283.5,632.9h.9v.9h-.9zM278.1,602.8h.9v.9h-.9zM282.6,628.2h.9v.9h-.9zM280.9,624.0h.9v.9h-.9zM278.8,614.3h.9v.9h-.9zM280.3,617.3h.9v.9h-.9zM281.0,606.6h.9v.9h-.9zM283.2,608.1h.9v.9h-.9zM273.6,608.0h.9v.9h-.9zM269.9,602.4h.9v.9h-.9zM277.3,603.9h.9v.9h-.9zM285.7,605.6h.9v.9h-.9z" fill="#111"/>
<rect x="258.80" y="597.40" width="28.70" height="79.00" fill="none" stroke="#d84a66" stroke-width="1.0" stroke-dasharray="2.6,2"/>
<line x1="258.80" y1="625.00" x2="287.50" y2="625.00" stroke="#e8a0b0" stroke-width="0.8"/>
<line x1="268.00" y1="625.00" x2="284.80" y2="625.00" stroke="#e01030" stroke-width="1.1"/>
<text x="241.10" y="650.70" font-size="5.2" fill="#dc3848">P5</text>
<text x="241.10" y="660.00" font-size="5.2" fill="#dc3848">11.5%</text>
<line x1="21.70" y1="463.50" x2="21.70" y2="702.60" stroke="#000" stroke-width="1.1"/>
<path d="M19.9,465.2 L21.7,460.6 L23.5,465.2 Z" fill="#000"/>
<line x1="21.20" y1="702.60" x2="287.00" y2="702.60" stroke="#000" stroke-width="1.1"/>
<path d="M285.6,700.8 L290.3,702.6 L285.6,704.4 Z" fill="#000"/>
<text x="11.80" y="637.50" font-size="11.5" transform="rotate(-90 11.8 637.5)">JC-1 aggregates (FL2)</text>
<text x="105.70" y="719.00" font-size="11.6">JC-1 monomers (FL1)</text>
<line x1="64.90" y1="751.90" x2="64.90" y2="906.00" stroke="#000" stroke-width="1.2"/>
<line x1="64.30" y1="905.40" x2="267.60" y2="905.40" stroke="#000" stroke-width="1.2"/>
<line x1="60.90" y1="905.40" x2="64.90" y2="905.40" stroke="#000" stroke-width="1.1"/>
<text x="57.20" y="909.20" font-size="10.8" text-anchor="end" fill="#111">0</text>
<line x1="60.90" y1="867.15" x2="64.90" y2="867.15" stroke="#000" stroke-width="1.1"/>
<text x="57.20" y="870.95" font-size="10.8" text-anchor="end" fill="#111">10</text>
<line x1="60.90" y1="828.90" x2="64.90" y2="828.90" stroke="#000" stroke-width="1.1"/>
<text x="57.20" y="832.70" font-size="10.8" text-anchor="end" fill="#111">20</text>
<line x1="60.90" y1="790.65" x2="64.90" y2="790.65" stroke="#000" stroke-width="1.1"/>
<text x="57.20" y="794.45" font-size="10.8" text-anchor="end" fill="#111">30</text>
<line x1="60.90" y1="752.40" x2="64.90" y2="752.40" stroke="#000" stroke-width="1.1"/>
<text x="57.20" y="756.20" font-size="10.8" text-anchor="end" fill="#111">40</text>
<line x1="90.00" y1="905.40" x2="90.00" y2="909.40" stroke="#000" stroke-width="1.1"/>
<line x1="128.00" y1="905.40" x2="128.00" y2="909.40" stroke="#000" stroke-width="1.1"/>
<line x1="166.00" y1="905.40" x2="166.00" y2="909.40" stroke="#000" stroke-width="1.1"/>
<line x1="204.20" y1="905.40" x2="204.20" y2="909.40" stroke="#000" stroke-width="1.1"/>
<line x1="242.20" y1="905.40" x2="242.20" y2="909.40" stroke="#000" stroke-width="1.1"/>
<text x="84.40" y="919.80" font-size="10.8" text-anchor="middle" fill="#111">0</text>
<text x="123.60" y="919.80" font-size="10.8" text-anchor="middle" fill="#111">24</text>
<text x="161.80" y="919.80" font-size="10.8" text-anchor="middle" fill="#111">48</text>
<text x="200.60" y="919.80" font-size="10.8" text-anchor="middle" fill="#111">72</text>
<text x="238.10" y="919.80" font-size="10.8" text-anchor="middle" fill="#111">96</text>
<text x="131.00" y="931.60" font-size="11.6">Time(h)</text>
<text x="34.3" y="872.5" font-size="11" transform="rotate(-90 34.3 872.5)">Cell Viability(*10<tspan font-size="6.6" dy="-4.4">3</tspan><tspan dy="4.4">)</tspan></text>
<path d="M90.00,867.50 L128.00,853.00 L166.00,846.80 L204.20,833.40 L242.20,822.40" fill="none" stroke="#7ad07a" stroke-width="0.8" stroke-dasharray="1.1,1.5"/>
<path d="M90.00,865.00V870.00M87.70,865.00h4.6M87.70,870.00h4.6" fill="none" stroke="#22c22a" stroke-width="1.0"/>
<path d="M87.80,869.10L90.00,865.30L92.20,869.10Z" fill="#22c22a"/>
<path d="M128.00,851.50V854.50M125.70,851.50h4.6M125.70,854.50h4.6" fill="none" stroke="#22c22a" stroke-width="1.0"/>
<path d="M125.80,854.60L128.00,850.80L130.20,854.60Z" fill="#22c22a"/>
<path d="M166.00,843.30V850.30M163.70,843.30h4.6M163.70,850.30h4.6" fill="none" stroke="#22c22a" stroke-width="1.0"/>
<path d="M163.80,848.40L166.00,844.60L168.20,848.40Z" fill="#22c22a"/>
<path d="M204.20,828.90V837.90M201.90,828.90h4.6M201.90,837.90h4.6" fill="none" stroke="#22c22a" stroke-width="1.0"/>
<path d="M202.00,835.00L204.20,831.20L206.40,835.00Z" fill="#22c22a"/>
<path d="M242.20,816.90V827.90M239.90,816.90h4.6M239.90,827.90h4.6" fill="none" stroke="#22c22a" stroke-width="1.0"/>
<path d="M240.00,824.00L242.20,820.20L244.40,824.00Z" fill="#22c22a"/>
<path d="M90.00,867.50 L128.00,863.30 L166.00,857.20 L204.20,848.00 L242.20,840.70" fill="none" stroke="#f03a22" stroke-width="1.2" stroke-dasharray="3.5,2.2" stroke-linejoin="round"/>
<path d="M90.00,865.50V869.50M87.70,865.50h4.6M87.70,869.50h4.6" fill="none" stroke="#f03a22" stroke-width="1.0"/>
<rect x="88.00" y="865.50" width="4.00" height="4.00" fill="#f03a22"/>
<path d="M128.00,861.30V865.30M125.70,861.30h4.6M125.70,865.30h4.6" fill="none" stroke="#f03a22" stroke-width="1.0"/>
<rect x="126.00" y="861.30" width="4.00" height="4.00" fill="#f03a22"/>
<path d="M166.00,854.00V860.40M163.70,854.00h4.6M163.70,860.40h4.6" fill="none" stroke="#f03a22" stroke-width="1.0"/>
<rect x="164.00" y="855.20" width="4.00" height="4.00" fill="#f03a22"/>
<path d="M204.20,844.20V851.80M201.90,844.20h4.6M201.90,851.80h4.6" fill="none" stroke="#f03a22" stroke-width="1.0"/>
<rect x="202.20" y="846.00" width="4.00" height="4.00" fill="#f03a22"/>
<path d="M242.20,835.70V845.70M239.90,835.70h4.6M239.90,845.70h4.6" fill="none" stroke="#f03a22" stroke-width="1.0"/>
<rect x="240.20" y="838.70" width="4.00" height="4.00" fill="#f03a22"/>
<path d="M90.00,867.50 L128.00,848.60 L166.00,825.50 L204.20,815.00 L242.20,811.00" fill="none" stroke="#2346f0" stroke-width="1.3" stroke-linejoin="round"/>
<path d="M90.00,862.50V872.50M87.70,862.50h4.6M87.70,872.50h4.6" fill="none" stroke="#2346f0" stroke-width="1.0"/>
<circle cx="90.00" cy="867.50" r="2.10" fill="#2346f0"/>
<path d="M128.00,847.60V849.60M125.70,847.60h4.6M125.70,849.60h4.6" fill="none" stroke="#2346f0" stroke-width="1.0"/>
<circle cx="128.00" cy="848.60" r="2.10" fill="#2346f0"/>
<path d="M166.00,822.00V829.00M163.70,822.00h4.6M163.70,829.00h4.6" fill="none" stroke="#2346f0" stroke-width="1.0"/>
<circle cx="166.00" cy="825.50" r="2.10" fill="#2346f0"/>
<path d="M204.20,810.00V820.00M201.90,810.00h4.6M201.90,820.00h4.6" fill="none" stroke="#2346f0" stroke-width="1.0"/>
<circle cx="204.20" cy="815.00" r="2.10" fill="#2346f0"/>
<path d="M242.20,810.00V812.00M239.90,810.00h4.6M239.90,812.00h4.6" fill="none" stroke="#2346f0" stroke-width="1.0"/>
<circle cx="242.20" cy="811.00" r="2.10" fill="#2346f0"/>
<path d="M90.00,867.50 L128.00,846.20 L166.00,816.70 L204.20,802.10 L242.20,779.60" fill="none" stroke="#b44ae6" stroke-width="1.3" stroke-linejoin="round"/>
<path d="M90.00,864.50V870.50M87.70,864.50h4.6M87.70,870.50h4.6" fill="none" stroke="#b44ae6" stroke-width="1.0"/>
<path d="M87.80,865.90L90.00,869.70L92.20,865.90Z" fill="#b44ae6"/>
<path d="M128.00,845.00V847.40M125.70,845.00h4.6M125.70,847.40h4.6" fill="none" stroke="#b44ae6" stroke-width="1.0"/>
<path d="M125.80,844.60L128.00,848.40L130.20,844.60Z" fill="#b44ae6"/>
<path d="M166.00,814.50V818.90M163.70,814.50h4.6M163.70,818.90h4.6" fill="none" stroke="#b44ae6" stroke-width="1.0"/>
<path d="M163.80,815.10L166.00,818.90L168.20,815.10Z" fill="#b44ae6"/>
<path d="M204.20,801.10V803.10M201.90,801.10h4.6M201.90,803.10h4.6" fill="none" stroke="#b44ae6" stroke-width="1.0"/>
<path d="M202.00,800.50L204.20,804.30L206.40,800.50Z" fill="#b44ae6"/>
<path d="M242.20,776.60V782.60M239.90,776.60h4.6M239.90,782.60h4.6" fill="none" stroke="#b44ae6" stroke-width="1.0"/>
<path d="M240.00,778.00L242.20,781.80L244.40,778.00Z" fill="#b44ae6"/>
<line x1="80.30" y1="757.40" x2="90.20" y2="757.40" stroke="#2346f0" stroke-width="1.1"/>
<circle cx="85.20" cy="757.40" r="1.89" fill="#2346f0"/>
<text x="95.60" y="761.00" font-size="11.4">si-Control</text>
<line x1="80.30" y1="769.60" x2="90.20" y2="769.60" stroke="#f03a22" stroke-width="1.1" stroke-dasharray="3,2"/>
<rect x="83.40" y="767.80" width="3.60" height="3.60" fill="#f03a22"/>
<text x="95.60" y="773.20" font-size="11.4">si-RBCK1</text>
<line x1="80.30" y1="781.80" x2="90.20" y2="781.80" stroke="#22c22a" stroke-width="1.1" stroke-dasharray="1.2,1.6"/>
<path d="M83.22,783.24L85.20,779.82L87.18,783.24Z" fill="#22c22a"/>
<text x="95.60" y="785.40" font-size="11.4">si-RBCK1+si-P53</text>
<line x1="80.30" y1="793.60" x2="90.20" y2="793.60" stroke="#b44ae6" stroke-width="1.1"/>
<path d="M83.22,792.16L85.20,795.58L87.18,792.16Z" fill="#b44ae6"/>
<text x="95.60" y="797.20" font-size="11.4">si-P53</text>
<line x1="434.20" y1="334.90" x2="434.20" y2="511.10" stroke="#000" stroke-width="1.2"/>
<line x1="433.60" y1="510.50" x2="681.70" y2="510.50" stroke="#000" stroke-width="1.2"/>
<line x1="430.20" y1="510.50" x2="434.20" y2="510.50" stroke="#000" stroke-width="1.1"/>
<text x="424.60" y="514.20" font-size="10.8" text-anchor="end" fill="#111">0</text>
<line x1="430.20" y1="491.04" x2="434.20" y2="491.04" stroke="#000" stroke-width="1.1"/>
<text x="424.60" y="494.74" font-size="10.8" text-anchor="end" fill="#111">100</text>
<line x1="430.20" y1="471.59" x2="434.20" y2="471.59" stroke="#000" stroke-width="1.1"/>
<text x="424.60" y="475.29" font-size="10.8" text-anchor="end" fill="#111">200</text>
<line x1="430.20" y1="452.13" x2="434.20" y2="452.13" stroke="#000" stroke-width="1.1"/>
<text x="424.60" y="455.83" font-size="10.8" text-anchor="end" fill="#111">300</text>
<line x1="430.20" y1="432.68" x2="434.20" y2="432.68" stroke="#000" stroke-width="1.1"/>
<text x="424.60" y="436.38" font-size="10.8" text-anchor="end" fill="#111">400</text>
<line x1="430.20" y1="413.22" x2="434.20" y2="413.22" stroke="#000" stroke-width="1.1"/>
<text x="424.60" y="416.92" font-size="10.8" text-anchor="end" fill="#111">500</text>
<line x1="430.20" y1="393.77" x2="434.20" y2="393.77" stroke="#000" stroke-width="1.1"/>
<text x="424.60" y="397.47" font-size="10.8" text-anchor="end" fill="#111">600</text>
<line x1="430.20" y1="374.31" x2="434.20" y2="374.31" stroke="#000" stroke-width="1.1"/>
<text x="424.60" y="378.01" font-size="10.8" text-anchor="end" fill="#111">700</text>
<line x1="430.20" y1="354.86" x2="434.20" y2="354.86" stroke="#000" stroke-width="1.1"/>
<text x="424.60" y="358.56" font-size="10.8" text-anchor="end" fill="#111">800</text>
<line x1="430.20" y1="335.40" x2="434.20" y2="335.40" stroke="#000" stroke-width="1.1"/>
<text x="424.60" y="339.10" font-size="10.8" text-anchor="end" fill="#111">900</text>
<line x1="454.20" y1="510.50" x2="454.20" y2="514.50" stroke="#000" stroke-width="1.1"/>
<text x="454.90" y="528.20" font-size="10.8" text-anchor="middle" fill="#111">2</text>
<line x1="483.84" y1="510.50" x2="483.84" y2="514.50" stroke="#000" stroke-width="1.1"/>
<text x="484.54" y="528.20" font-size="10.8" text-anchor="middle" fill="#111">5</text>
<line x1="513.48" y1="510.50" x2="513.48" y2="514.50" stroke="#000" stroke-width="1.1"/>
<text x="514.18" y="528.20" font-size="10.8" text-anchor="middle" fill="#111">7</text>
<line x1="543.12" y1="510.50" x2="543.12" y2="514.50" stroke="#000" stroke-width="1.1"/>
<text x="543.82" y="528.20" font-size="10.8" text-anchor="middle" fill="#111">10</text>
<line x1="572.76" y1="510.50" x2="572.76" y2="514.50" stroke="#000" stroke-width="1.1"/>
<text x="573.46" y="528.20" font-size="10.8" text-anchor="middle" fill="#111">13</text>
<line x1="602.40" y1="510.50" x2="602.40" y2="514.50" stroke="#000" stroke-width="1.1"/>
<text x="603.10" y="528.20" font-size="10.8" text-anchor="middle" fill="#111">15</text>
<line x1="632.04" y1="510.50" x2="632.04" y2="514.50" stroke="#000" stroke-width="1.1"/>
<text x="632.74" y="528.20" font-size="10.8" text-anchor="middle" fill="#111">18</text>
<line x1="661.68" y1="510.50" x2="661.68" y2="514.50" stroke="#000" stroke-width="1.1"/>
<text x="662.38" y="528.20" font-size="10.8" text-anchor="middle" fill="#111">21</text>
<text x="548.30" y="545.00" font-size="11.4" text-anchor="middle">Day</text>
<text x="393.6" y="501.5" font-size="11.8" transform="rotate(-90 393.6 501.5)">Average Tumor Volume (mm<tspan font-size="7" dy="-4.7">3</tspan><tspan dy="4.7">)</tspan></text>
<path d="M454.20,487.50 L483.84,482.20 L513.48,480.40 L543.12,468.40 L572.76,457.30 L602.40,452.20 L632.04,430.90 L661.68,412.90" fill="none" stroke="#22c22a" stroke-width="1.5" stroke-linejoin="round"/>
<path d="M454.20,484.50V490.50M451.90,484.50h4.6M451.90,490.50h4.6" fill="none" stroke="#22c22a" stroke-width="1.0"/>
<rect x="451.90" y="485.20" width="4.60" height="4.60" fill="#22c22a"/>
<path d="M483.84,479.20V485.20M481.54,479.20h4.6M481.54,485.20h4.6" fill="none" stroke="#22c22a" stroke-width="1.0"/>
<rect x="481.54" y="479.90" width="4.60" height="4.60" fill="#22c22a"/>
<path d="M513.48,477.40V483.40M511.18,477.40h4.6M511.18,483.40h4.6" fill="none" stroke="#22c22a" stroke-width="1.0"/>
<rect x="511.18" y="478.10" width="4.60" height="4.60" fill="#22c22a"/>
<path d="M543.12,464.40V472.40M540.82,464.40h4.6M540.82,472.40h4.6" fill="none" stroke="#22c22a" stroke-width="1.0"/>
<rect x="540.82" y="466.10" width="4.60" height="4.60" fill="#22c22a"/>
<path d="M572.76,452.80V461.80M570.46,452.80h4.6M570.46,461.80h4.6" fill="none" stroke="#22c22a" stroke-width="1.0"/>
<rect x="570.46" y="455.00" width="4.60" height="4.60" fill="#22c22a"/>
<path d="M602.40,446.20V458.20M600.10,446.20h4.6M600.10,458.20h4.6" fill="none" stroke="#22c22a" stroke-width="1.0"/>
<rect x="600.10" y="449.90" width="4.60" height="4.60" fill="#22c22a"/>
<path d="M632.04,427.40V434.40M629.74,427.40h4.6M629.74,434.40h4.6" fill="none" stroke="#22c22a" stroke-width="1.0"/>
<rect x="629.74" y="428.60" width="4.60" height="4.60" fill="#22c22a"/>
<path d="M661.68,405.40V420.40M659.38,405.40h4.6M659.38,420.40h4.6" fill="none" stroke="#22c22a" stroke-width="1.0"/>
<rect x="659.38" y="410.60" width="4.60" height="4.60" fill="#22c22a"/>
<path d="M454.20,488.00 L483.84,486.80 L513.48,485.60 L543.12,481.00 L572.76,474.50 L602.40,460.70 L632.04,455.00 L661.68,449.10" fill="none" stroke="#f03a22" stroke-width="1.5" stroke-linejoin="round"/>
<path d="M454.20,483.50V492.50M451.90,483.50h4.6M451.90,492.50h4.6" fill="none" stroke="#f03a22" stroke-width="1.0"/>
<rect x="451.90" y="485.70" width="4.60" height="4.60" fill="#f03a22"/>
<path d="M483.84,481.80V491.80M481.54,481.80h4.6M481.54,491.80h4.6" fill="none" stroke="#f03a22" stroke-width="1.0"/>
<rect x="481.54" y="484.50" width="4.60" height="4.60" fill="#f03a22"/>
<path d="M513.48,483.60V487.60M511.18,483.60h4.6M511.18,487.60h4.6" fill="none" stroke="#f03a22" stroke-width="1.0"/>
<rect x="511.18" y="483.30" width="4.60" height="4.60" fill="#f03a22"/>
<path d="M543.12,476.00V486.00M540.82,476.00h4.6M540.82,486.00h4.6" fill="none" stroke="#f03a22" stroke-width="1.0"/>
<rect x="540.82" y="478.70" width="4.60" height="4.60" fill="#f03a22"/>
<path d="M572.76,467.50V481.50M570.46,467.50h4.6M570.46,481.50h4.6" fill="none" stroke="#f03a22" stroke-width="1.0"/>
<rect x="570.46" y="472.20" width="4.60" height="4.60" fill="#f03a22"/>
<path d="M602.40,455.70V465.70M600.10,455.70h4.6M600.10,465.70h4.6" fill="none" stroke="#f03a22" stroke-width="1.0"/>
<rect x="600.10" y="458.40" width="4.60" height="4.60" fill="#f03a22"/>
<path d="M632.04,452.50V457.50M629.74,452.50h4.6M629.74,457.50h4.6" fill="none" stroke="#f03a22" stroke-width="1.0"/>
<rect x="629.74" y="452.70" width="4.60" height="4.60" fill="#f03a22"/>
<path d="M661.68,445.60V452.60M659.38,445.60h4.6M659.38,452.60h4.6" fill="none" stroke="#f03a22" stroke-width="1.0"/>
<rect x="659.38" y="446.80" width="4.60" height="4.60" fill="#f03a22"/>
<path d="M454.20,486.80 L483.84,476.60 L513.48,474.00 L543.12,459.40 L572.76,449.10 L602.40,434.70 L632.04,422.70 L661.68,393.20" fill="none" stroke="#2346f0" stroke-width="1.5" stroke-linejoin="round"/>
<path d="M454.20,483.80V489.80M451.90,483.80h4.6M451.90,489.80h4.6" fill="none" stroke="#2346f0" stroke-width="1.0"/>
<circle cx="454.20" cy="486.80" r="2.42" fill="#2346f0"/>
<path d="M483.84,472.60V480.60M481.54,472.60h4.6M481.54,480.60h4.6" fill="none" stroke="#2346f0" stroke-width="1.0"/>
<circle cx="483.84" cy="476.60" r="2.42" fill="#2346f0"/>
<path d="M513.48,468.50V479.50M511.18,468.50h4.6M511.18,479.50h4.6" fill="none" stroke="#2346f0" stroke-width="1.0"/>
<circle cx="513.48" cy="474.00" r="2.42" fill="#2346f0"/>
<path d="M543.12,455.90V462.90M540.82,455.90h4.6M540.82,462.90h4.6" fill="none" stroke="#2346f0" stroke-width="1.0"/>
<circle cx="543.12" cy="459.40" r="2.42" fill="#2346f0"/>
<path d="M572.76,444.10V454.10M570.46,444.10h4.6M570.46,454.10h4.6" fill="none" stroke="#2346f0" stroke-width="1.0"/>
<circle cx="572.76" cy="449.10" r="2.42" fill="#2346f0"/>
<path d="M602.40,431.20V438.20M600.10,431.20h4.6M600.10,438.20h4.6" fill="none" stroke="#2346f0" stroke-width="1.0"/>
<circle cx="602.40" cy="434.70" r="2.42" fill="#2346f0"/>
<path d="M632.04,415.70V429.70M629.74,415.70h4.6M629.74,429.70h4.6" fill="none" stroke="#2346f0" stroke-width="1.0"/>
<circle cx="632.04" cy="422.70" r="2.42" fill="#2346f0"/>
<path d="M661.68,390.20V396.20M659.38,390.20h4.6M659.38,396.20h4.6" fill="none" stroke="#2346f0" stroke-width="1.0"/>
<circle cx="661.68" cy="393.20" r="2.42" fill="#2346f0"/>
<path d="M454.20,484.30 L483.84,472.20 L513.48,458.60 L543.12,434.20 L572.76,415.50 L602.40,406.50 L632.04,374.70 L661.68,368.30" fill="none" stroke="#b44ae6" stroke-width="1.5" stroke-linejoin="round"/>
<path d="M454.20,479.30V489.30M451.90,479.30h4.6M451.90,489.30h4.6" fill="none" stroke="#b44ae6" stroke-width="1.0"/>
<path d="M454.20,481.88L456.18,484.30L454.20,486.72L452.22,484.30Z" fill="#b44ae6"/>
<path d="M483.84,467.20V477.20M481.54,467.20h4.6M481.54,477.20h4.6" fill="none" stroke="#b44ae6" stroke-width="1.0"/>
<path d="M483.84,469.78L485.82,472.20L483.84,474.62L481.86,472.20Z" fill="#b44ae6"/>
<path d="M513.48,454.60V462.60M511.18,454.60h4.6M511.18,462.60h4.6" fill="none" stroke="#b44ae6" stroke-width="1.0"/>
<path d="M513.48,456.18L515.46,458.60L513.48,461.02L511.50,458.60Z" fill="#b44ae6"/>
<path d="M543.12,432.20V436.20M540.82,432.20h4.6M540.82,436.20h4.6" fill="none" stroke="#b44ae6" stroke-width="1.0"/>
<path d="M543.12,431.78L545.10,434.20L543.12,436.62L541.14,434.20Z" fill="#b44ae6"/>
<path d="M572.76,410.50V420.50M570.46,410.50h4.6M570.46,420.50h4.6" fill="none" stroke="#b44ae6" stroke-width="1.0"/>
<path d="M572.76,413.08L574.74,415.50L572.76,417.92L570.78,415.50Z" fill="#b44ae6"/>
<path d="M602.40,402.50V410.50M600.10,402.50h4.6M600.10,410.50h4.6" fill="none" stroke="#b44ae6" stroke-width="1.0"/>
<path d="M602.40,404.08L604.38,406.50L602.40,408.92L600.42,406.50Z" fill="#b44ae6"/>
<path d="M632.04,368.20V381.20M629.74,368.20h4.6M629.74,381.20h4.6" fill="none" stroke="#b44ae6" stroke-width="1.0"/>
<path d="M632.04,372.28L634.02,374.70L632.04,377.12L630.06,374.70Z" fill="#b44ae6"/>
<path d="M661.68,364.30V372.30M659.38,364.30h4.6M659.38,372.30h4.6" fill="none" stroke="#b44ae6" stroke-width="1.0"/>
<path d="M661.68,365.88L663.66,368.30L661.68,370.72L659.70,368.30Z" fill="#b44ae6"/>
<line x1="447.00" y1="342.60" x2="461.60" y2="342.60" stroke="#2346f0" stroke-width="1.5"/>
<circle cx="454.60" cy="342.60" r="2.31" fill="#2346f0"/>
<text x="470.00" y="345.20" font-size="11.3">sh-Control</text>
<line x1="447.00" y1="353.60" x2="461.60" y2="353.60" stroke="#f03a22" stroke-width="1.5"/>
<rect x="452.40" y="351.40" width="4.40" height="4.40" fill="#f03a22"/>
<text x="470.00" y="357.30" font-size="11.3">sh-RBCK1</text>
<line x1="447.00" y1="366.30" x2="461.60" y2="366.30" stroke="#22c22a" stroke-width="1.5"/>
<rect x="452.40" y="364.10" width="4.40" height="4.40" fill="#22c22a"/>
<text x="470.00" y="369.70" font-size="11.3">sh-RBCK1+sh-P53</text>
<line x1="447.00" y1="378.00" x2="461.60" y2="378.00" stroke="#b44ae6" stroke-width="1.5"/>
<path d="M454.60,375.58L456.58,378.00L454.60,380.42L452.62,378.00Z" fill="#b44ae6"/>
<text x="470.00" y="382.10" font-size="11.3">sh-P53</text>
<clipPath id="photoclip"><rect x="430.3" y="15.4" width="251.9" height="225.6"/></clipPath><g clip-path="url(#photoclip)">
<rect x="430.3" y="15.6" width="251.9" height="225.4" fill="url(#paper)"/>
<rect x="430.3" y="15.6" width="251.9" height="225.4" fill="url(#paperx)"/>
<rect x="430.3" y="15.6" width="251.9" height="48.9" fill="url(#ruler)"/>
<rect x="430.3" y="17.2" width="251.9" height="3.4" fill="#cbc7be"/>
<rect x="430.3" y="15.5" width="251.9" height="1.8" fill="#4d4d4d"/>
<path d="M431.39,17.30v3.0 M433.12,17.30v3.0 M434.84,17.30v3.0 M436.57,17.30v3.0 M438.30,17.30v3.0 M440.03,17.30v3.0 M441.76,17.30v3.0 M443.48,17.30v3.0 M445.21,17.30v3.0 M446.94,17.30v3.0 M448.67,17.30v3.0 M450.40,17.30v3.0 M452.12,17.30v3.0 M453.85,17.30v3.0 M455.58,17.30v3.0 M457.31,17.30v3.0 M459.04,17.30v3.0 M460.76,17.30v3.0 M462.49,17.30v3.0 M464.22,17.30v3.0 M465.95,17.30v3.0 M467.68,17.30v3.0 M469.40,17.30v3.0 M471.13,17.30v3.0 M472.86,17.30v3.0 M474.59,17.30v3.0 M476.32,17.30v3.0 M478.04,17.30v3.0 M479.77,17.30v3.0 M481.50,17.30v3.0 M483.23,17.30v3.0 M484.96,17.30v3.0 M486.68,17.30v3.0 M488.41,17.30v3.0 M490.14,17.30v3.0 M491.87,17.30v3.0 M493.60,17.30v3.0 M495.32,17.30v3.0 M497.05,17.30v3.0 M498.78,17.30v3.0 M500.51,17.30v3.0 M502.24,17.30v3.0 M503.96,17.30v3.0 M505.69,17.30v3.0 M507.42,17.30v3.0 M509.15,17.30v3.0 M510.88,17.30v3.0 M512.60,17.30v3.0 M514.33,17.30v3.0 M516.06,17.30v3.0 M517.79,17.30v3.0 M519.52,17.30v3.0 M521.24,17.30v3.0 M522.97,17.30v3.0 M524.70,17.30v3.0 M526.43,17.30v3.0 M528.16,17.30v3.0 M529.88,17.30v3.0 M531.61,17.30v3.0 M533.34,17.30v3.0 M535.07,17.30v3.0 M536.80,17.30v3.0 M538.52,17.30v3.0 M540.25,17.30v3.0 M541.98,17.30v3.0 M543.71,17.30v3.0 M545.44,17.30v3.0 M547.16,17.30v3.0 M548.89,17.30v3.0 M550.62,17.30v3.0 M552.35,17.30v3.0 M554.08,17.30v3.0 M555.80,17.30v3.0 M557.53,17.30v3.0 M559.26,17.30v3.0 M560.99,17.30v3.0 M562.72,17.30v3.0 M564.44,17.30v3.0 M566.17,17.30v3.0 M567.90,17.30v3.0 M569.63,17.30v3.0 M571.36,17.30v3.0 M573.08,17.30v3.0 M574.81,17.30v3.0 M576.54,17.30v3.0 M578.27,17.30v3.0 M580.00,17.30v3.0 M581.72,17.30v3.0 M583.45,17.30v3.0 M585.18,17.30v3.0 M586.91,17.30v3.0 M588.64,17.30v3.0 M590.36,17.30v3.0 M592.09,17.30v3.0 M593.82,17.30v3.0 M595.55,17.30v3.0 M597.28,17.30v3.0 M599.00,17.30v3.0 M600.73,17.30v3.0" fill="none" stroke="#8c8880" stroke-width="0.5"/>
<path d="M431.39,21.90v3.2 M433.12,21.90v3.2 M434.84,21.90v3.2 M436.57,21.90v3.2 M438.30,21.90v5.6 M440.03,21.90v3.2 M441.76,21.90v3.2 M443.48,21.90v3.2 M445.21,21.90v3.2 M446.94,21.90v4.3 M448.67,21.90v3.2 M450.40,21.90v3.2 M452.12,21.90v3.2 M453.85,21.90v3.2 M455.58,21.90v5.6 M457.31,21.90v3.2 M459.04,21.90v3.2 M460.76,21.90v3.2 M462.49,21.90v3.2 M464.22,21.90v4.3 M465.95,21.90v3.2 M467.68,21.90v3.2 M469.40,21.90v3.2 M471.13,21.90v3.2 M472.86,21.90v5.6 M474.59,21.90v3.2 M476.32,21.90v3.2 M478.04,21.90v3.2 M479.77,21.90v3.2 M481.50,21.90v4.3 M483.23,21.90v3.2 M484.96,21.90v3.2 M486.68,21.90v3.2 M488.41,21.90v3.2 M490.14,21.90v5.6 M491.87,21.90v3.2 M493.60,21.90v3.2 M495.32,21.90v3.2 M497.05,21.90v3.2 M498.78,21.90v4.3 M500.51,21.90v3.2 M502.24,21.90v3.2 M503.96,21.90v3.2 M505.69,21.90v3.2 M507.42,21.90v5.6 M509.15,21.90v3.2 M510.88,21.90v3.2 M512.60,21.90v3.2 M514.33,21.90v3.2 M516.06,21.90v4.3 M517.79,21.90v3.2 M519.52,21.90v3.2 M521.24,21.90v3.2 M522.97,21.90v3.2 M524.70,21.90v5.6 M526.43,21.90v3.2 M528.16,21.90v3.2 M529.88,21.90v3.2 M531.61,21.90v3.2 M533.34,21.90v4.3 M535.07,21.90v3.2 M536.80,21.90v3.2 M538.52,21.90v3.2 M540.25,21.90v3.2 M541.98,21.90v5.6 M543.71,21.90v3.2 M545.44,21.90v3.2 M547.16,21.90v3.2 M548.89,21.90v3.2 M550.62,21.90v4.3 M552.35,21.90v3.2 M554.08,21.90v3.2 M555.80,21.90v3.2 M557.53,21.90v3.2 M559.26,21.90v5.6 M560.99,21.90v3.2 M562.72,21.90v3.2 M564.44,21.90v3.2 M566.17,21.90v3.2 M567.90,21.90v4.3 M569.63,21.90v3.2 M571.36,21.90v3.2 M573.08,21.90v3.2 M574.81,21.90v3.2 M576.54,21.90v5.6 M578.27,21.90v3.2 M580.00,21.90v3.2 M581.72,21.90v3.2 M583.45,21.90v3.2 M585.18,21.90v4.3 M586.91,21.90v3.2 M588.64,21.90v3.2 M590.36,21.90v3.2 M592.09,21.90v3.2 M593.82,21.90v5.6 M595.55,21.90v3.2 M597.28,21.90v3.2 M599.00,21.90v3.2 M600.73,21.90v3.2 M602.46,17.30v8.6 M604.19,17.30v7.6 M605.92,17.30v7.6 M607.64,17.30v7.6 M609.37,17.30v7.6 M611.10,17.30v9.8 M612.83,17.30v7.6 M614.56,17.30v7.6 M616.28,17.30v7.6 M618.01,17.30v7.6 M619.74,17.30v8.6 M621.47,17.30v7.6 M623.20,17.30v7.6 M624.92,17.30v7.6 M626.65,17.30v7.6 M628.38,17.30v9.8 M630.11,17.30v7.6 M631.84,17.30v7.6 M633.56,17.30v7.6 M635.29,17.30v7.6 M637.02,17.30v8.6 M638.75,17.30v7.6 M640.48,17.30v7.6 M642.20,17.30v7.6 M643.93,17.30v7.6 M645.66,17.30v9.8 M647.39,17.30v7.6 M649.12,17.30v7.6 M650.84,17.30v7.6 M652.57,17.30v7.6 M654.30,17.30v8.6 M656.03,17.30v7.6 M657.76,17.30v7.6 M659.48,17.30v7.6 M661.21,17.30v7.6 M662.94,17.30v9.8 M664.67,17.30v7.6 M666.40,17.30v7.6 M668.12,17.30v7.6 M669.85,17.30v7.6 M671.58,17.30v8.6 M673.31,17.30v7.6 M675.04,17.30v7.6 M676.76,17.30v7.6 M678.49,17.30v7.6 M680.22,17.30v9.8" fill="none" stroke="#6a665e" stroke-width="0.55"/>
<rect x="431" y="20.3" width="170" height="1.6" fill="#f8f8f4"/>
<text x="438.30" y="32.80" font-size="5.9" text-anchor="middle" font-weight="bold" fill="#45423d">0</text>
<text x="461.00" y="32.80" font-size="5.9" text-anchor="middle" font-weight="bold" fill="#45423d">1cm</text>
<text x="473.60" y="32.80" font-size="5.9" text-anchor="middle" font-weight="bold" fill="#45423d">2</text>
<text x="491.40" y="32.80" font-size="5.9" text-anchor="middle" font-weight="bold" fill="#45423d">3</text>
<text x="509.20" y="32.80" font-size="5.9" text-anchor="middle" font-weight="bold" fill="#45423d">4</text>
<text x="526.70" y="32.80" font-size="5.9" text-anchor="middle" font-weight="bold" fill="#45423d">5</text>
<text x="543.80" y="32.80" font-size="5.9" text-anchor="middle" font-weight="bold" fill="#45423d">6</text>
<text x="560.90" y="32.80" font-size="5.9" text-anchor="middle" font-weight="bold" fill="#45423d">7</text>
<text x="578.70" y="32.80" font-size="5.9" text-anchor="middle" font-weight="bold" fill="#45423d">8</text>
<text x="595.80" y="32.80" font-size="5.9" text-anchor="middle" font-weight="bold" fill="#45423d">9</text>
<text x="612.90" y="32.80" font-size="5.9" text-anchor="middle" font-weight="bold" fill="#45423d">10</text>
<text x="630.00" y="32.80" font-size="5.9" text-anchor="middle" font-weight="bold" fill="#45423d">11</text>
<text x="647.00" y="32.80" font-size="5.9" text-anchor="middle" font-weight="bold" fill="#45423d">12</text>
<text x="664.00" y="32.80" font-size="5.9" text-anchor="middle" font-weight="bold" fill="#45423d">13</text>
<text x="681.00" y="32.80" font-size="5.9" text-anchor="middle" font-weight="bold" fill="#45423d">14</text>
<rect x="430.3" y="62.8" width="251.9" height="3.4" fill="#f1efdf"/>
<path d="M430.3,66.2 H682.2 V70.5 C650,71 620,72.5 590,71.6 C560,70.8 520,73.5 480,72.6 C460,72.2 440,71.4 430.3,72 Z" fill="#c9c9cb"/>
<ellipse cx="489.0" cy="95.6" rx="11.8" ry="8.9" fill="#a8a8b8" opacity="0.4" filter="url(#blur2)"/>
<path d="M498.38,88.50 L498.50,89.88 L498.61,91.34 L498.61,92.89 L498.38,94.49 L497.85,96.05 L496.98,97.48 L495.80,98.66 L494.38,99.56 L492.82,100.15 L491.21,100.46 L489.59,100.55 L488.00,100.45 L486.46,100.20 L484.97,99.81 L483.54,99.27 L482.20,98.55 L480.97,97.66 L479.89,96.61 L478.97,95.43 L478.20,94.16 L477.56,92.82 L477.03,91.44 L476.61,90.00 L476.32,88.50 L476.19,86.95 L476.30,85.36 L476.68,83.81 L477.37,82.36 L478.34,81.09 L479.53,80.03 L480.87,79.21 L482.27,78.57 L483.68,78.07 L485.09,77.63 L486.51,77.21 L488.00,76.84 L489.57,76.56 L491.22,76.49 L492.88,76.72 L494.45,77.32 L495.83,78.30 L496.90,79.60 L497.64,81.10 L498.05,82.70 L498.23,84.26 L498.27,85.75 L498.30,87.14 Z" fill="url(#tuma)" filter="url(#blur05)"/>
<ellipse cx="484.3" cy="86.9" rx="2.6" ry="2.1" fill="#f8dcc4" opacity="0.55" filter="url(#blur1)"/>
<ellipse cx="489.5" cy="89.8" rx="2.6" ry="2.1" fill="#f8dcc4" opacity="0.55" filter="url(#blur1)"/>
<ellipse cx="483.2" cy="84.6" rx="2.6" ry="2.1" fill="#f8dcc4" opacity="0.55" filter="url(#blur1)"/>
<ellipse cx="536.0" cy="96.7" rx="10.0" ry="8.4" fill="#a8a8b8" opacity="0.4" filter="url(#blur2)"/>
<path d="M546.09,90.00 L545.95,91.61 L545.41,93.13 L544.58,94.44 L543.57,95.54 L542.52,96.46 L541.51,97.29 L540.56,98.11 L539.64,98.99 L538.67,99.91 L537.58,100.79 L536.35,101.50 L535.00,101.90 L533.60,101.92 L532.24,101.53 L531.01,100.78 L529.96,99.78 L529.07,98.66 L528.30,97.50 L527.59,96.37 L526.90,95.24 L526.21,94.08 L525.59,92.82 L525.09,91.46 L524.80,90.00 L524.78,88.49 L525.03,87.01 L525.53,85.61 L526.22,84.32 L527.04,83.16 L527.93,82.08 L528.88,81.07 L529.92,80.14 L531.05,79.33 L532.30,78.71 L533.63,78.37 L535.00,78.37 L536.33,78.71 L537.55,79.34 L538.64,80.17 L539.60,81.09 L540.49,81.99 L541.37,82.86 L542.32,83.71 L543.31,84.63 L544.31,85.68 L545.19,86.94 L545.82,88.40 Z" fill="url(#tumb)" filter="url(#blur05)"/>
<ellipse cx="536.5" cy="89.5" rx="2.2" ry="2.0" fill="#f8dcc4" opacity="0.55" filter="url(#blur1)"/>
<ellipse cx="531.6" cy="83.4" rx="2.2" ry="2.0" fill="#f8dcc4" opacity="0.55" filter="url(#blur1)"/>
<ellipse cx="535.3" cy="83.9" rx="2.2" ry="2.0" fill="#f8dcc4" opacity="0.55" filter="url(#blur1)"/>
<ellipse cx="582.7" cy="95.0" rx="11.0" ry="7.5" fill="#a8a8b8" opacity="0.4" filter="url(#blur2)"/>
<path d="M592.75,89.00 L592.72,90.32 L592.43,91.61 L591.90,92.84 L591.15,93.96 L590.24,94.96 L589.21,95.83 L588.12,96.61 L586.98,97.32 L585.78,97.96 L584.51,98.52 L583.14,98.96 L581.70,99.22 L580.22,99.24 L578.75,99.02 L577.36,98.53 L576.09,97.83 L574.97,96.97 L573.99,96.00 L573.13,94.98 L572.34,93.91 L571.63,92.79 L571.01,91.60 L570.55,90.33 L570.30,89.00 L570.33,87.64 L570.67,86.31 L571.30,85.09 L572.18,84.00 L573.21,83.08 L574.32,82.29 L575.45,81.60 L576.59,80.96 L577.75,80.34 L578.97,79.75 L580.29,79.23 L581.70,78.86 L583.19,78.70 L584.70,78.82 L586.15,79.22 L587.48,79.89 L588.64,80.78 L589.62,81.80 L590.44,82.90 L591.13,84.05 L591.72,85.23 L592.20,86.44 L592.56,87.70 Z" fill="url(#tumd)" filter="url(#blur05)"/>
<ellipse cx="581.9" cy="88.8" rx="2.4" ry="1.8" fill="#f8dcc4" opacity="0.55" filter="url(#blur1)"/>
<ellipse cx="581.7" cy="89.0" rx="2.4" ry="1.8" fill="#f8dcc4" opacity="0.55" filter="url(#blur1)"/>
<ellipse cx="581.2" cy="85.5" rx="2.4" ry="1.8" fill="#f8dcc4" opacity="0.55" filter="url(#blur1)"/>
<ellipse cx="624.0" cy="94.0" rx="9.5" ry="6.3" fill="#a8a8b8" opacity="0.4" filter="url(#blur2)"/>
<path d="M632.97,89.00 L632.92,90.16 L632.69,91.30 L632.27,92.40 L631.68,93.43 L630.93,94.38 L630.01,95.20 L628.96,95.86 L627.79,96.34 L626.57,96.62 L625.34,96.71 L624.14,96.65 L623.00,96.50 L621.91,96.31 L620.84,96.13 L619.75,95.95 L618.59,95.75 L617.38,95.48 L616.14,95.06 L614.96,94.45 L613.93,93.63 L613.15,92.61 L612.69,91.44 L612.57,90.21 L612.76,89.00 L613.20,87.86 L613.79,86.82 L614.46,85.87 L615.15,84.99 L615.86,84.16 L616.60,83.34 L617.42,82.57 L618.34,81.86 L619.38,81.28 L620.54,80.87 L621.76,80.65 L623.00,80.64 L624.22,80.81 L625.38,81.13 L626.49,81.55 L627.54,82.05 L628.54,82.61 L629.50,83.25 L630.41,83.97 L631.23,84.80 L631.93,85.73 L632.47,86.76 L632.82,87.86 Z" fill="url(#tume)" filter="url(#blur05)"/>
<ellipse cx="621.0" cy="84.5" rx="2.1" ry="1.5" fill="#f8dcc4" opacity="0.55" filter="url(#blur1)"/>
<ellipse cx="625.5" cy="87.0" rx="2.1" ry="1.5" fill="#f8dcc4" opacity="0.55" filter="url(#blur1)"/>
<ellipse cx="626.3" cy="86.9" rx="2.1" ry="1.5" fill="#f8dcc4" opacity="0.55" filter="url(#blur1)"/>
<ellipse cx="490.4" cy="134.6" rx="11.8" ry="7.1" fill="#a8a8b8" opacity="0.4" filter="url(#blur2)"/>
<path d="M500.99,129.00 L500.98,130.21 L500.89,131.45 L500.68,132.72 L500.25,133.99 L499.53,135.19 L498.49,136.24 L497.17,137.06 L495.64,137.61 L494.02,137.88 L492.41,137.94 L490.86,137.85 L489.40,137.71 L487.99,137.55 L486.58,137.39 L485.15,137.17 L483.71,136.85 L482.32,136.35 L481.06,135.64 L480.01,134.74 L479.21,133.69 L478.66,132.54 L478.30,131.37 L478.07,130.19 L477.90,129.00 L477.78,127.78 L477.73,126.51 L477.86,125.19 L478.25,123.87 L478.99,122.64 L480.09,121.58 L481.50,120.80 L483.12,120.33 L484.80,120.15 L486.44,120.20 L487.97,120.37 L489.40,120.57 L490.77,120.73 L492.14,120.85 L493.57,120.98 L495.04,121.21 L496.51,121.62 L497.87,122.25 L499.02,123.12 L499.89,124.18 L500.47,125.35 L500.79,126.57 L500.94,127.79 Z" fill="url(#tumc)" filter="url(#blur05)"/>
<ellipse cx="495.1" cy="126.7" rx="2.6" ry="1.7" fill="#f8dcc4" opacity="0.55" filter="url(#blur1)"/>
<ellipse cx="484.4" cy="128.7" rx="2.6" ry="1.7" fill="#f8dcc4" opacity="0.55" filter="url(#blur1)"/>
<ellipse cx="492.7" cy="125.6" rx="2.6" ry="1.7" fill="#f8dcc4" opacity="0.55" filter="url(#blur1)"/>
<ellipse cx="537.0" cy="132.8" rx="10.0" ry="6.6" fill="#a8a8b8" opacity="0.4" filter="url(#blur2)"/>
<path d="M545.94,127.50 L545.93,128.65 L545.75,129.80 L545.39,130.92 L544.85,131.99 L544.12,132.99 L543.23,133.86 L542.19,134.59 L541.02,135.16 L539.79,135.55 L538.52,135.78 L537.25,135.88 L536.00,135.87 L534.76,135.80 L533.52,135.66 L532.26,135.45 L530.98,135.15 L529.71,134.71 L528.51,134.09 L527.45,133.28 L526.60,132.27 L526.04,131.13 L525.79,129.91 L525.83,128.68 L526.12,127.50 L526.56,126.41 L527.08,125.40 L527.63,124.45 L528.16,123.52 L528.71,122.58 L529.33,121.63 L530.06,120.68 L530.95,119.80 L532.02,119.04 L533.25,118.48 L534.60,118.16 L536.00,118.10 L537.38,118.28 L538.69,118.67 L539.89,119.23 L540.99,119.89 L541.98,120.64 L542.88,121.45 L543.68,122.31 L544.39,123.24 L544.98,124.22 L545.45,125.27 L545.78,126.37 Z" fill="url(#tumd)" filter="url(#blur05)"/>
<ellipse cx="532.0" cy="122.7" rx="2.2" ry="1.6" fill="#f8dcc4" opacity="0.55" filter="url(#blur1)"/>
<ellipse cx="539.0" cy="123.6" rx="2.2" ry="1.6" fill="#f8dcc4" opacity="0.55" filter="url(#blur1)"/>
<ellipse cx="536.6" cy="125.8" rx="2.2" ry="1.6" fill="#f8dcc4" opacity="0.55" filter="url(#blur1)"/>
<ellipse cx="585.0" cy="132.6" rx="10.6" ry="7.0" fill="#a8a8b8" opacity="0.4" filter="url(#blur2)"/>
<path d="M594.25,127.00 L594.27,128.19 L594.18,129.39 L593.94,130.61 L593.51,131.82 L592.85,132.96 L591.96,133.98 L590.85,134.83 L589.58,135.47 L588.19,135.88 L586.77,136.08 L585.37,136.11 L584.00,136.01 L582.68,135.82 L581.39,135.56 L580.12,135.23 L578.87,134.80 L577.66,134.25 L576.53,133.55 L575.53,132.70 L574.71,131.71 L574.10,130.60 L573.70,129.42 L573.50,128.21 L573.48,127.00 L573.61,125.80 L573.87,124.62 L574.26,123.46 L574.79,122.34 L575.49,121.27 L576.35,120.29 L577.38,119.44 L578.56,118.74 L579.85,118.21 L581.21,117.87 L582.60,117.70 L584.00,117.69 L585.38,117.81 L586.73,118.07 L588.03,118.46 L589.27,118.99 L590.42,119.66 L591.43,120.48 L592.30,121.41 L592.99,122.45 L593.51,123.54 L593.88,124.68 L594.12,125.83 Z" fill="url(#tume)" filter="url(#blur05)"/>
<ellipse cx="581.0" cy="123.7" rx="2.3" ry="1.7" fill="#f8dcc4" opacity="0.55" filter="url(#blur1)"/>
<ellipse cx="589.0" cy="128.1" rx="2.3" ry="1.7" fill="#f8dcc4" opacity="0.55" filter="url(#blur1)"/>
<ellipse cx="581.9" cy="128.8" rx="2.3" ry="1.7" fill="#f8dcc4" opacity="0.55" filter="url(#blur1)"/>
<ellipse cx="627.2" cy="129.5" rx="8.6" ry="5.8" fill="#a8a8b8" opacity="0.4" filter="url(#blur2)"/>
<path d="M634.51,124.80 L634.55,125.80 L634.44,126.80 L634.17,127.79 L633.72,128.74 L633.13,129.62 L632.39,130.42 L631.54,131.11 L630.58,131.69 L629.55,132.13 L628.45,132.43 L627.33,132.58 L626.20,132.58 L625.09,132.45 L624.01,132.20 L622.98,131.85 L621.98,131.42 L621.03,130.92 L620.11,130.32 L619.26,129.63 L618.50,128.83 L617.88,127.93 L617.46,126.92 L617.26,125.87 L617.31,124.80 L617.59,123.77 L618.05,122.82 L618.64,121.96 L619.29,121.18 L619.97,120.46 L620.65,119.77 L621.35,119.07 L622.11,118.37 L622.95,117.69 L623.92,117.09 L625.01,116.63 L626.20,116.37 L627.42,116.36 L628.62,116.60 L629.73,117.07 L630.71,117.72 L631.53,118.50 L632.22,119.34 L632.80,120.21 L633.28,121.09 L633.70,121.98 L634.06,122.89 L634.34,123.83 Z" fill="url(#tumd)" filter="url(#blur05)"/>
<ellipse cx="623.7" cy="121.9" rx="1.9" ry="1.4" fill="#f8dcc4" opacity="0.55" filter="url(#blur1)"/>
<ellipse cx="628.5" cy="122.4" rx="1.9" ry="1.4" fill="#f8dcc4" opacity="0.55" filter="url(#blur1)"/>
<ellipse cx="624.4" cy="120.6" rx="1.9" ry="1.4" fill="#f8dcc4" opacity="0.55" filter="url(#blur1)"/>
<ellipse cx="492.5" cy="174.4" rx="10.0" ry="6.8" fill="#a8a8b8" opacity="0.4" filter="url(#blur2)"/>
<path d="M500.82,169.00 L500.84,170.11 L500.80,171.24 L500.66,172.42 L500.35,173.60 L499.82,174.75 L499.03,175.78 L498.01,176.64 L496.80,177.27 L495.48,177.66 L494.13,177.83 L492.79,177.84 L491.50,177.74 L490.25,177.57 L489.01,177.35 L487.79,177.07 L486.57,176.69 L485.39,176.16 L484.31,175.47 L483.38,174.61 L482.65,173.60 L482.14,172.49 L481.85,171.33 L481.73,170.16 L481.76,169.00 L481.89,167.86 L482.12,166.74 L482.45,165.63 L482.91,164.54 L483.53,163.50 L484.33,162.55 L485.30,161.72 L486.41,161.06 L487.62,160.57 L488.89,160.24 L490.19,160.05 L491.50,159.99 L492.81,160.03 L494.12,160.20 L495.41,160.51 L496.64,160.99 L497.77,161.64 L498.75,162.48 L499.52,163.46 L500.09,164.54 L500.45,165.66 L500.66,166.79 L500.77,167.90 Z" fill="url(#tumb)" filter="url(#blur05)"/>
<ellipse cx="496.1" cy="167.5" rx="2.2" ry="1.6" fill="#f8dcc4" opacity="0.55" filter="url(#blur1)"/>
<ellipse cx="492.2" cy="170.6" rx="2.2" ry="1.6" fill="#f8dcc4" opacity="0.55" filter="url(#blur1)"/>
<ellipse cx="488.3" cy="164.8" rx="2.2" ry="1.6" fill="#f8dcc4" opacity="0.55" filter="url(#blur1)"/>
<ellipse cx="538.0" cy="172.8" rx="7.5" ry="6.0" fill="#a8a8b8" opacity="0.4" filter="url(#blur2)"/>
<path d="M545.08,168.00 L545.05,169.13 L544.77,170.22 L544.28,171.22 L543.65,172.10 L542.94,172.87 L542.21,173.55 L541.46,174.20 L540.69,174.82 L539.88,175.41 L538.99,175.91 L538.02,176.25 L537.00,176.37 L535.98,176.24 L535.03,175.86 L534.18,175.27 L533.45,174.56 L532.82,173.80 L532.26,173.06 L531.70,172.34 L531.12,171.62 L530.51,170.87 L529.92,170.02 L529.41,169.07 L529.06,168.00 L528.94,166.87 L529.08,165.74 L529.46,164.67 L530.03,163.71 L530.74,162.88 L531.54,162.17 L532.37,161.57 L533.23,161.04 L534.13,160.60 L535.05,160.26 L536.02,160.05 L537.00,160.02 L537.97,160.18 L538.88,160.52 L539.72,161.00 L540.48,161.57 L541.18,162.19 L541.85,162.83 L542.52,163.48 L543.20,164.18 L543.85,164.97 L544.43,165.88 L544.86,166.90 Z" fill="url(#tuma)" filter="url(#blur05)"/>
<ellipse cx="534.7" cy="170.0" rx="1.6" ry="1.4" fill="#f8dcc4" opacity="0.55" filter="url(#blur1)"/>
<ellipse cx="539.9" cy="167.5" rx="1.6" ry="1.4" fill="#f8dcc4" opacity="0.55" filter="url(#blur1)"/>
<ellipse cx="536.4" cy="163.9" rx="1.6" ry="1.4" fill="#f8dcc4" opacity="0.55" filter="url(#blur1)"/>
<ellipse cx="587.5" cy="170.5" rx="8.5" ry="4.9" fill="#a8a8b8" opacity="0.4" filter="url(#blur2)"/>
<path d="M595.18,166.50 L595.28,167.40 L595.16,168.30 L594.81,169.17 L594.24,169.97 L593.48,170.66 L592.60,171.24 L591.64,171.70 L590.65,172.08 L589.64,172.38 L588.61,172.63 L587.57,172.81 L586.50,172.91 L585.41,172.91 L584.33,172.80 L583.27,172.56 L582.27,172.19 L581.34,171.72 L580.51,171.15 L579.77,170.51 L579.12,169.81 L578.56,169.05 L578.13,168.24 L577.83,167.39 L577.70,166.50 L577.77,165.61 L578.04,164.74 L578.50,163.93 L579.13,163.19 L579.86,162.55 L580.67,161.98 L581.53,161.47 L582.41,161.00 L583.34,160.58 L584.33,160.22 L585.39,159.93 L586.50,159.77 L587.64,159.75 L588.77,159.91 L589.84,160.25 L590.79,160.72 L591.63,161.31 L592.34,161.96 L592.96,162.65 L593.52,163.35 L594.03,164.08 L594.50,164.83 L594.90,165.64 Z" fill="url(#tumc)" filter="url(#blur05)"/>
<ellipse cx="587.3" cy="164.3" rx="1.9" ry="1.2" fill="#f8dcc4" opacity="0.55" filter="url(#blur1)"/>
<ellipse cx="583.7" cy="166.8" rx="1.9" ry="1.2" fill="#f8dcc4" opacity="0.55" filter="url(#blur1)"/>
<ellipse cx="582.8" cy="163.9" rx="1.9" ry="1.2" fill="#f8dcc4" opacity="0.55" filter="url(#blur1)"/>
<ellipse cx="631.0" cy="168.1" rx="6.7" ry="5.2" fill="#a8a8b8" opacity="0.4" filter="url(#blur2)"/>
<path d="M636.91,164.00 L636.61,164.90 L636.23,165.72 L635.84,166.49 L635.47,167.25 L635.11,168.04 L634.70,168.84 L634.20,169.63 L633.56,170.35 L632.78,170.90 L631.88,171.23 L630.93,171.30 L630.00,171.13 L629.13,170.78 L628.36,170.32 L627.65,169.83 L626.99,169.36 L626.34,168.92 L625.66,168.47 L624.97,167.98 L624.31,167.38 L623.73,166.67 L623.30,165.85 L623.04,164.94 L622.98,164.00 L623.08,163.06 L623.31,162.15 L623.64,161.29 L624.04,160.46 L624.51,159.66 L625.07,158.93 L625.73,158.27 L626.49,157.75 L627.34,157.39 L628.24,157.24 L629.14,157.27 L630.00,157.44 L630.80,157.71 L631.56,158.00 L632.30,158.28 L633.06,158.54 L633.86,158.83 L634.68,159.18 L635.47,159.67 L636.18,160.33 L636.71,161.14 L637.01,162.07 L637.07,163.04 Z" fill="url(#tuma)" filter="url(#blur05)"/>
<ellipse cx="626.8" cy="161.5" rx="1.5" ry="1.2" fill="#f8dcc4" opacity="0.55" filter="url(#blur1)"/>
<ellipse cx="629.6" cy="160.2" rx="1.5" ry="1.2" fill="#f8dcc4" opacity="0.55" filter="url(#blur1)"/>
<ellipse cx="627.8" cy="162.2" rx="1.5" ry="1.2" fill="#f8dcc4" opacity="0.55" filter="url(#blur1)"/>
<ellipse cx="494.0" cy="214.4" rx="11.0" ry="6.0" fill="#a8a8b8" opacity="0.4" filter="url(#blur2)"/>
<path d="M504.21,209.60 L504.40,210.69 L504.33,211.81 L503.93,212.89 L503.16,213.87 L502.08,214.67 L500.78,215.26 L499.38,215.65 L498.00,215.90 L496.70,216.10 L495.48,216.33 L494.27,216.62 L493.00,216.96 L491.61,217.28 L490.09,217.48 L488.51,217.48 L486.98,217.19 L485.60,216.61 L484.49,215.79 L483.68,214.80 L483.16,213.73 L482.83,212.66 L482.62,211.62 L482.46,210.61 L482.32,209.60 L482.26,208.57 L482.33,207.52 L482.63,206.48 L483.22,205.49 L484.08,204.62 L485.18,203.91 L486.42,203.37 L487.73,202.96 L489.04,202.65 L490.34,202.39 L491.65,202.14 L493.00,201.92 L494.42,201.78 L495.89,201.76 L497.36,201.94 L498.76,202.35 L500.00,202.97 L501.02,203.76 L501.83,204.67 L502.47,205.63 L502.98,206.59 L503.44,207.56 L503.86,208.56 Z" fill="url(#tuma)" filter="url(#blur05)"/>
<ellipse cx="495.1" cy="209.0" rx="2.4" ry="1.4" fill="#f8dcc4" opacity="0.55" filter="url(#blur1)"/>
<ellipse cx="489.0" cy="205.1" rx="2.4" ry="1.4" fill="#f8dcc4" opacity="0.55" filter="url(#blur1)"/>
<ellipse cx="487.7" cy="211.4" rx="2.4" ry="1.4" fill="#f8dcc4" opacity="0.55" filter="url(#blur1)"/>
<ellipse cx="538.0" cy="217.4" rx="10.5" ry="7.4" fill="#a8a8b8" opacity="0.4" filter="url(#blur2)"/>
<path d="M547.82,211.50 L547.99,212.85 L547.90,214.23 L547.51,215.56 L546.80,216.78 L545.83,217.82 L544.66,218.65 L543.38,219.27 L542.08,219.72 L540.79,220.05 L539.53,220.32 L538.27,220.53 L537.00,220.69 L535.69,220.76 L534.37,220.67 L533.05,220.39 L531.80,219.91 L530.64,219.23 L529.61,218.39 L528.72,217.43 L527.94,216.38 L527.27,215.26 L526.70,214.08 L526.25,212.82 L525.96,211.50 L525.90,210.14 L526.12,208.78 L526.63,207.49 L527.42,206.34 L528.43,205.36 L529.58,204.57 L530.80,203.96 L532.03,203.46 L533.25,203.04 L534.46,202.66 L535.71,202.33 L537.00,202.07 L538.35,201.95 L539.72,202.03 L541.06,202.35 L542.31,202.91 L543.42,203.69 L544.37,204.62 L545.16,205.65 L545.84,206.74 L546.44,207.85 L546.98,209.00 L547.46,210.22 Z" fill="url(#tumc)" filter="url(#blur05)"/>
<ellipse cx="535.1" cy="214.4" rx="2.3" ry="1.8" fill="#f8dcc4" opacity="0.55" filter="url(#blur1)"/>
<ellipse cx="532.5" cy="210.4" rx="2.3" ry="1.8" fill="#f8dcc4" opacity="0.55" filter="url(#blur1)"/>
<ellipse cx="539.5" cy="213.6" rx="2.3" ry="1.8" fill="#f8dcc4" opacity="0.55" filter="url(#blur1)"/>
<ellipse cx="583.6" cy="213.4" rx="9.3" ry="6.8" fill="#a8a8b8" opacity="0.4" filter="url(#blur2)"/>
<path d="M592.06,208.00 L592.30,209.24 L592.29,210.51 L591.98,211.76 L591.38,212.90 L590.52,213.88 L589.48,214.66 L588.34,215.24 L587.18,215.68 L586.03,216.02 L584.90,216.31 L583.77,216.57 L582.60,216.78 L581.39,216.90 L580.15,216.87 L578.91,216.61 L577.76,216.12 L576.75,215.38 L575.92,214.46 L575.30,213.42 L574.86,212.32 L574.55,211.23 L574.32,210.15 L574.12,209.08 L573.95,208.00 L573.82,206.88 L573.79,205.72 L573.92,204.52 L574.24,203.33 L574.79,202.20 L575.56,201.19 L576.51,200.32 L577.61,199.64 L578.81,199.15 L580.06,198.84 L581.34,198.71 L582.60,198.75 L583.83,198.97 L584.99,199.35 L586.07,199.89 L587.04,200.56 L587.89,201.33 L588.63,202.16 L589.30,203.03 L589.92,203.91 L590.52,204.82 L591.10,205.79 L591.64,206.85 Z" fill="url(#tuma)" filter="url(#blur05)"/>
<ellipse cx="586.3" cy="209.7" rx="2.0" ry="1.6" fill="#f8dcc4" opacity="0.55" filter="url(#blur1)"/>
<ellipse cx="581.8" cy="209.0" rx="2.0" ry="1.6" fill="#f8dcc4" opacity="0.55" filter="url(#blur1)"/>
<ellipse cx="586.0" cy="207.2" rx="2.0" ry="1.6" fill="#f8dcc4" opacity="0.55" filter="url(#blur1)"/>
<ellipse cx="632.0" cy="212.7" rx="11.0" ry="5.8" fill="#a8a8b8" opacity="0.4" filter="url(#blur2)"/>
<path d="M641.17,208.00 L641.24,208.96 L641.20,209.94 L640.99,210.93 L640.56,211.91 L639.88,212.83 L638.96,213.65 L637.85,214.33 L636.59,214.87 L635.24,215.26 L633.84,215.53 L632.43,215.69 L631.00,215.75 L629.57,215.72 L628.13,215.59 L626.72,215.33 L625.35,214.94 L624.07,214.40 L622.94,213.72 L621.97,212.91 L621.20,212.01 L620.63,211.04 L620.27,210.04 L620.11,209.02 L620.13,208.00 L620.33,207.00 L620.71,206.04 L621.25,205.14 L621.94,204.29 L622.75,203.51 L623.67,202.81 L624.68,202.16 L625.76,201.57 L626.92,201.02 L628.18,200.54 L629.54,200.13 L631.00,199.84 L632.54,199.72 L634.10,199.79 L635.62,200.10 L637.00,200.63 L638.19,201.36 L639.13,202.23 L639.83,203.20 L640.31,204.19 L640.63,205.17 L640.86,206.13 L641.03,207.06 Z" fill="url(#tuma)" filter="url(#blur05)"/>
<ellipse cx="636.4" cy="209.5" rx="2.4" ry="1.4" fill="#f8dcc4" opacity="0.55" filter="url(#blur1)"/>
<ellipse cx="633.5" cy="206.0" rx="2.4" ry="1.4" fill="#f8dcc4" opacity="0.55" filter="url(#blur1)"/>
<ellipse cx="633.6" cy="207.4" rx="2.4" ry="1.4" fill="#f8dcc4" opacity="0.55" filter="url(#blur1)"/>
</g>
<line x1="360.00" y1="106.20" x2="668.70" y2="106.20" stroke="#1a1a1a" stroke-width="1.3"/>
<line x1="360.00" y1="143.90" x2="668.70" y2="143.90" stroke="#1a1a1a" stroke-width="1.3"/>
<line x1="360.00" y1="183.00" x2="668.70" y2="183.00" stroke="#1a1a1a" stroke-width="1.3"/>
<line x1="360.00" y1="228.80" x2="668.70" y2="228.80" stroke="#1a1a1a" stroke-width="1.3"/>
<text x="373.80" y="104.00" font-size="11.9">sh-P53</text>
<text x="363.90" y="141.30" font-size="11.8">sh-Control</text>
<text x="364.00" y="180.00" font-size="11.8">sh-RBCK1</text>
<text x="364.00" y="212.40" font-size="11.8">sh-RBCK1</text>
<text x="364.00" y="227.30" font-size="11.8">+sh-P53</text>
<clipPath id="bc1"><rect x="431.70" y="620.00" width="105.70" height="35.00"/></clipPath>
<linearGradient id="bg1" x1="0" y1="0" x2="0" y2="1"><stop offset="0" stop-color="#dadadc"/><stop offset="1" stop-color="#dcdcde"/></linearGradient>
<g clip-path="url(#bc1)">
<rect x="431.70" y="620.00" width="105.70" height="35.00" fill="url(#bg1)"/>
<g filter="url(#bb12)">
<rect x="432.00" y="628.30" width="30.50" height="22.70" rx="10.22" fill="#050505"/>
<rect x="460.80" y="630.00" width="23.50" height="19.50" rx="8.78" fill="#050505"/>
<rect x="487.00" y="630.00" width="22.40" height="17.80" rx="8.01" fill="#1c1c1c"/>
<rect x="511.60" y="627.60" width="22.60" height="19.40" rx="8.73" fill="#050505"/>
</g></g>
<rect x="431.70" y="620.00" width="105.70" height="35.00" fill="none" stroke="#111" stroke-width="1.3"/>
<clipPath id="bc2"><rect x="542.70" y="620.30" width="106.60" height="34.70"/></clipPath>
<linearGradient id="bg2" x1="0" y1="0" x2="0" y2="1"><stop offset="0" stop-color="#bcbcc2"/><stop offset="1" stop-color="#c0c0c6"/></linearGradient>
<g clip-path="url(#bc2)">
<rect x="542.70" y="620.30" width="106.60" height="34.70" fill="url(#bg2)"/>
<g filter="url(#bb14)">
<rect x="543.00" y="626.50" width="106.00" height="27.00" rx="12.15" fill="#a0a0a8"/>
<rect x="545.20" y="630.40" width="20.60" height="19.60" rx="8.82" fill="#1a1a1c"/>
<rect x="570.80" y="628.80" width="24.80" height="22.00" rx="9.90" fill="#050505"/>
<rect x="596.40" y="628.00" width="24.60" height="23.40" rx="10.53" fill="#050505"/>
<rect x="624.60" y="630.40" width="20.40" height="19.60" rx="8.82" fill="#1a1a1c"/>
</g></g>
<rect x="542.70" y="620.30" width="106.60" height="34.70" fill="none" stroke="#111" stroke-width="1.3"/>
<clipPath id="bc3"><rect x="431.70" y="667.20" width="105.10" height="34.50"/></clipPath>
<linearGradient id="bg3" x1="0" y1="0" x2="0" y2="1"><stop offset="0" stop-color="#c4c4c8"/><stop offset="1" stop-color="#dcdce2"/></linearGradient>
<g clip-path="url(#bc3)">
<rect x="431.70" y="667.20" width="105.10" height="34.50" fill="url(#bg3)"/>
<g filter="url(#bb12)">
<rect x="439.00" y="678.80" width="23.00" height="12.00" rx="5.40" fill="#050505"/>
<rect x="459.50" y="678.80" width="25.00" height="12.00" rx="5.40" fill="#050505"/>
<rect x="484.50" y="679.30" width="24.00" height="11.00" rx="4.95" fill="#0c0c0c"/>
<rect x="510.50" y="678.30" width="25.00" height="12.00" rx="5.40" fill="#050505"/>
</g></g>
<rect x="431.70" y="667.20" width="105.10" height="34.50" fill="none" stroke="#111" stroke-width="1.3"/>
<clipPath id="bc4"><rect x="542.70" y="667.20" width="106.80" height="34.60"/></clipPath>
<linearGradient id="bg4" x1="0" y1="0" x2="0" y2="1"><stop offset="0" stop-color="#c2c2c8"/><stop offset="1" stop-color="#cacad0"/></linearGradient>
<g clip-path="url(#bc4)">
<rect x="542.70" y="667.20" width="106.80" height="34.60" fill="url(#bg4)"/>
<g filter="url(#bb20)">
<rect x="546.00" y="679.00" width="22.00" height="14.00" rx="6.30" fill="#b6b6bc"/>
<rect x="571.00" y="679.00" width="25.00" height="14.00" rx="6.30" fill="#b2b2b8"/>
<rect x="598.00" y="679.00" width="24.00" height="14.00" rx="6.30" fill="#b0b0b6"/>
<rect x="624.00" y="679.00" width="22.00" height="14.00" rx="6.30" fill="#b4b4ba"/>
</g></g>
<rect x="542.70" y="667.20" width="106.80" height="34.60" fill="none" stroke="#111" stroke-width="1.3"/>
<clipPath id="bc5"><rect x="431.70" y="716.80" width="105.10" height="35.70"/></clipPath>
<linearGradient id="bg5" x1="0" y1="0" x2="0" y2="1"><stop offset="0" stop-color="#c8c8d0"/><stop offset="1" stop-color="#d8d8de"/></linearGradient>
<g clip-path="url(#bc5)">
<rect x="431.70" y="716.80" width="105.10" height="35.70" fill="url(#bg5)"/>
<g filter="url(#bb11)">
<rect x="433.80" y="727.20" width="23.50" height="11.40" rx="5.13" fill="#050505"/>
<rect x="459.00" y="726.80" width="25.50" height="12.20" rx="5.49" fill="#050505"/>
<rect x="487.00" y="727.20" width="24.80" height="11.40" rx="5.13" fill="#050505"/>
<rect x="513.60" y="727.60" width="20.80" height="10.40" rx="4.68" fill="#050505"/>
</g></g>
<rect x="431.70" y="716.80" width="105.10" height="35.70" fill="none" stroke="#111" stroke-width="1.3"/>
<clipPath id="bc6"><rect x="542.70" y="715.40" width="106.80" height="35.60"/></clipPath>
<linearGradient id="bg6" x1="0" y1="0" x2="0" y2="1"><stop offset="0" stop-color="#c0c0c8"/><stop offset="1" stop-color="#d0d0d8"/></linearGradient>
<g clip-path="url(#bc6)">
<rect x="542.70" y="715.40" width="106.80" height="35.60" fill="url(#bg6)"/>
<g filter="url(#bb12)">
<rect x="549.50" y="726.00" width="22.50" height="14.00" rx="6.30" fill="#050505"/>
<rect x="574.50" y="724.80" width="22.80" height="16.20" rx="7.29" fill="#050505"/>
<rect x="599.70" y="725.80" width="22.80" height="14.20" rx="6.39" fill="#050505"/>
<rect x="625.00" y="726.20" width="20.50" height="13.40" rx="6.03" fill="#050505"/>
</g></g>
<rect x="542.70" y="715.40" width="106.80" height="35.60" fill="none" stroke="#111" stroke-width="1.3"/>
<clipPath id="bc7"><rect x="430.80" y="781.20" width="106.80" height="35.30"/></clipPath>
<linearGradient id="bg7" x1="0" y1="0" x2="0" y2="1"><stop offset="0" stop-color="#c2c2c2"/><stop offset="1" stop-color="#c4c4c4"/></linearGradient>
<g clip-path="url(#bc7)">
<rect x="430.80" y="781.20" width="106.80" height="35.30" fill="url(#bg7)"/>
<g filter="url(#bb20)">
<rect x="436.00" y="794.00" width="23.00" height="9.20" rx="4.14" fill="#acacac"/>
<rect x="461.00" y="794.00" width="25.00" height="9.20" rx="4.14" fill="#b0b0b0"/>
<rect x="488.00" y="793.60" width="24.00" height="9.20" rx="4.14" fill="#aaaaaa"/>
<rect x="513.00" y="793.20" width="24.00" height="9.20" rx="4.14" fill="#a4a4a4"/>
</g></g>
<rect x="430.80" y="781.20" width="106.80" height="35.30" fill="none" stroke="#111" stroke-width="1.3"/>
<clipPath id="bc8"><rect x="542.70" y="781.20" width="106.80" height="35.10"/></clipPath>
<linearGradient id="bg8" x1="0" y1="0" x2="0" y2="1"><stop offset="0" stop-color="#d8d8d8"/><stop offset="1" stop-color="#dadada"/></linearGradient>
<g clip-path="url(#bc8)">
<rect x="542.70" y="781.20" width="106.80" height="35.10" fill="url(#bg8)"/>
<g filter="url(#bb16)">
<rect x="548.00" y="795.50" width="20.00" height="9.50" rx="4.28" fill="#d0d0d0"/>
<rect x="572.00" y="795.50" width="24.00" height="9.50" rx="4.28" fill="#cdcdcd"/>
<rect x="598.00" y="795.50" width="24.00" height="9.50" rx="4.28" fill="#bdbdbd"/>
<rect x="624.00" y="795.00" width="22.00" height="9.50" rx="4.28" fill="#b4b4b4"/>
</g></g>
<rect x="542.70" y="781.20" width="106.80" height="35.10" fill="none" stroke="#111" stroke-width="1.3"/>
<clipPath id="bc9"><rect x="430.80" y="828.50" width="106.80" height="34.70"/></clipPath>
<linearGradient id="bg9" x1="0" y1="0" x2="0" y2="1"><stop offset="0" stop-color="#8a8a92"/><stop offset="1" stop-color="#d0d0d8"/></linearGradient>
<g clip-path="url(#bc9)">
<rect x="430.80" y="828.50" width="106.80" height="34.70" fill="url(#bg9)"/>
<g filter="url(#bb15)">
<rect x="433.00" y="837.00" width="37.00" height="17.50" rx="7.88" fill="#050505"/>
<rect x="458.00" y="836.50" width="42.00" height="17.50" rx="7.88" fill="#050505"/>
<rect x="488.00" y="835.50" width="37.00" height="17.00" rx="7.65" fill="#050505"/>
<rect x="505.00" y="833.00" width="31.00" height="16.50" rx="7.42" fill="#050505"/>
</g></g>
<rect x="430.80" y="828.50" width="106.80" height="34.70" fill="none" stroke="#111" stroke-width="1.3"/>
<clipPath id="bc10"><rect x="542.70" y="828.50" width="106.80" height="34.50"/></clipPath>
<linearGradient id="bg10" x1="0" y1="0" x2="0" y2="1"><stop offset="0" stop-color="#a2a2aa"/><stop offset="1" stop-color="#b8b8c0"/></linearGradient>
<g clip-path="url(#bc10)">
<rect x="542.70" y="828.50" width="106.80" height="34.50" fill="url(#bg10)"/>
<g filter="url(#bb20)">
<rect x="545.00" y="836.00" width="25.00" height="14.50" rx="6.53" fill="#86868e"/>
<rect x="572.00" y="836.00" width="25.00" height="14.50" rx="6.53" fill="#88888f"/>
<rect x="598.00" y="836.00" width="24.00" height="14.50" rx="6.53" fill="#86868e"/>
<rect x="624.00" y="836.00" width="23.00" height="14.50" rx="6.53" fill="#8e8e96"/>
</g></g>
<rect x="542.70" y="828.50" width="106.80" height="34.50" fill="none" stroke="#111" stroke-width="1.3"/>
<clipPath id="bc11"><rect x="430.80" y="876.50" width="106.80" height="35.60"/></clipPath>
<linearGradient id="bg11" x1="0" y1="0" x2="0" y2="1"><stop offset="0" stop-color="#c2c2ca"/><stop offset="1" stop-color="#d6d6dc"/></linearGradient>
<g clip-path="url(#bc11)">
<rect x="430.80" y="876.50" width="106.80" height="35.60" fill="url(#bg11)"/>
<g filter="url(#bb12)">
<rect x="432.80" y="886.80" width="23.20" height="15.60" rx="7.02" fill="#050505"/>
<rect x="457.80" y="886.60" width="23.80" height="15.00" rx="6.75" fill="#050505"/>
<rect x="486.00" y="886.80" width="23.60" height="14.40" rx="6.48" fill="#050505"/>
<rect x="509.80" y="883.60" width="23.60" height="16.40" rx="7.38" fill="#050505"/>
</g></g>
<rect x="430.80" y="876.50" width="106.80" height="35.60" fill="none" stroke="#111" stroke-width="1.3"/>
<clipPath id="bc12"><rect x="542.70" y="876.70" width="106.80" height="35.50"/></clipPath>
<linearGradient id="bg12" x1="0" y1="0" x2="0" y2="1"><stop offset="0" stop-color="#bcbcc4"/><stop offset="1" stop-color="#d2d2da"/></linearGradient>
<g clip-path="url(#bc12)">
<rect x="542.70" y="876.70" width="106.80" height="35.50" fill="url(#bg12)"/>
<g filter="url(#bb11)">
<rect x="545.50" y="889.80" width="23.00" height="12.00" rx="5.40" fill="#050505"/>
<rect x="570.50" y="889.40" width="24.00" height="12.60" rx="5.67" fill="#050505"/>
<rect x="596.50" y="889.00" width="24.50" height="13.00" rx="5.85" fill="#050505"/>
<rect x="622.00" y="889.60" width="24.00" height="12.00" rx="5.40" fill="#050505"/>
</g></g>
<rect x="542.70" y="876.70" width="106.80" height="35.50" fill="none" stroke="#111" stroke-width="1.3"/>
<text x="458.70" y="611.60" font-size="11.3">sh-Control</text>
<text x="574.30" y="611.00" font-size="11.4">sh-P53</text>
<text x="458.20" y="776.80" font-size="11.4">sh-RBCK1</text>
<text x="543.30" y="777.10" font-size="11.45">sh-RBCK1+sh-P53</text>
<text x="417.00" y="639.60" font-size="11.2" text-anchor="end">RBCK1</text>
<text x="417.00" y="684.00" font-size="11.2" text-anchor="end">P53</text>
<text x="417.00" y="733.00" font-size="11.2" text-anchor="end">GAPDH</text>
<text x="417.00" y="801.60" font-size="11.2" text-anchor="end">RBCK1</text>
<text x="417.00" y="848.80" font-size="11.2" text-anchor="end">P53</text>
<text x="417.00" y="902.00" font-size="11.2" text-anchor="end">GAPDH</text>
<text x="656.50" y="639.50" font-size="11.4">56KD</text>
<text x="656.50" y="684.70" font-size="11.4">53KD</text>
<text x="656.50" y="733.00" font-size="11.4">37KD</text>
<text x="656.50" y="801.70" font-size="11.4">56KD</text>
<text x="656.50" y="849.20" font-size="11.4">53KD</text>
<text x="656.50" y="901.30" font-size="11.4">37KD</text>
</svg></body></html>
